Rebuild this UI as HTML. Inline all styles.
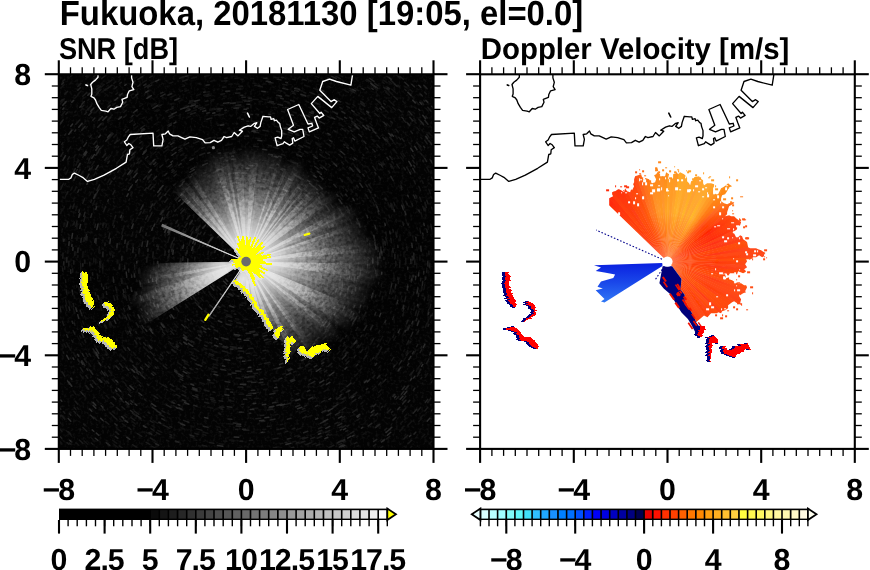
<!DOCTYPE html>
<html><head><meta charset="utf-8"><title>Fukuoka radar</title>
<style>html,body{margin:0;padding:0;background:#fff;width:870px;height:570px;overflow:hidden}svg{display:block;will-change:transform}text{font-family:"Liberation Sans",sans-serif;text-rendering:geometricPrecision}</style>
</head><body><svg width="870" height="570" viewBox="0 0 870 570"><defs><clipPath id="pc"><rect x="0" y="0" width="374.7" height="374.6"/></clipPath><radialGradient id="w0" gradientUnits="userSpaceOnUse" cx="187.3" cy="187.3" r="70"><stop offset="0" stop-color="#fff" stop-opacity="1"/><stop offset="0.3" stop-color="#fff" stop-opacity="0.92"/><stop offset="0.6" stop-color="#fff" stop-opacity="0.55"/><stop offset="0.85" stop-color="#fff" stop-opacity="0.2"/><stop offset="1" stop-color="#fff" stop-opacity="0"/></radialGradient><radialGradient id="w1" gradientUnits="userSpaceOnUse" cx="187.3" cy="187.3" r="85"><stop offset="0" stop-color="#fff" stop-opacity="1"/><stop offset="0.3" stop-color="#fff" stop-opacity="0.92"/><stop offset="0.6" stop-color="#fff" stop-opacity="0.55"/><stop offset="0.85" stop-color="#fff" stop-opacity="0.2"/><stop offset="1" stop-color="#fff" stop-opacity="0"/></radialGradient><radialGradient id="w2" gradientUnits="userSpaceOnUse" cx="187.3" cy="187.3" r="100"><stop offset="0" stop-color="#fff" stop-opacity="1"/><stop offset="0.3" stop-color="#fff" stop-opacity="0.92"/><stop offset="0.6" stop-color="#fff" stop-opacity="0.55"/><stop offset="0.85" stop-color="#fff" stop-opacity="0.2"/><stop offset="1" stop-color="#fff" stop-opacity="0"/></radialGradient><radialGradient id="w3" gradientUnits="userSpaceOnUse" cx="187.3" cy="187.3" r="115"><stop offset="0" stop-color="#fff" stop-opacity="1"/><stop offset="0.3" stop-color="#fff" stop-opacity="0.92"/><stop offset="0.6" stop-color="#fff" stop-opacity="0.55"/><stop offset="0.85" stop-color="#fff" stop-opacity="0.2"/><stop offset="1" stop-color="#fff" stop-opacity="0"/></radialGradient><radialGradient id="w4" gradientUnits="userSpaceOnUse" cx="187.3" cy="187.3" r="130"><stop offset="0" stop-color="#fff" stop-opacity="1"/><stop offset="0.3" stop-color="#fff" stop-opacity="0.92"/><stop offset="0.6" stop-color="#fff" stop-opacity="0.55"/><stop offset="0.85" stop-color="#fff" stop-opacity="0.2"/><stop offset="1" stop-color="#fff" stop-opacity="0"/></radialGradient><radialGradient id="w5" gradientUnits="userSpaceOnUse" cx="187.3" cy="187.3" r="145"><stop offset="0" stop-color="#fff" stop-opacity="1"/><stop offset="0.3" stop-color="#fff" stop-opacity="0.92"/><stop offset="0.6" stop-color="#fff" stop-opacity="0.55"/><stop offset="0.85" stop-color="#fff" stop-opacity="0.2"/><stop offset="1" stop-color="#fff" stop-opacity="0"/></radialGradient><radialGradient id="w6" gradientUnits="userSpaceOnUse" cx="187.3" cy="187.3" r="160"><stop offset="0" stop-color="#fff" stop-opacity="1"/><stop offset="0.3" stop-color="#fff" stop-opacity="0.92"/><stop offset="0.6" stop-color="#fff" stop-opacity="0.55"/><stop offset="0.85" stop-color="#fff" stop-opacity="0.2"/><stop offset="1" stop-color="#fff" stop-opacity="0"/></radialGradient><filter id="noise" x="0" y="0" width="100%" height="100%"><feTurbulence type="fractalNoise" baseFrequency="0.35" numOctaves="2" seed="3"/><feColorMatrix values="0 0 0 0 1  0 0 0 0 1  0 0 0 0 1  1.2 0 0 0 -0.55"/></filter><filter id="noised" x="0" y="0" width="100%" height="100%"><feTurbulence type="fractalNoise" baseFrequency="0.3" numOctaves="2" seed="11"/><feColorMatrix values="0 0 0 0 0  0 0 0 0 0  0 0 0 0 0  1.6 0 0 0 -0.6"/></filter></defs><rect width="870" height="570" fill="#fff"/><clipPath id="fanclip"><polygon points="187.3,187.3 50.7,55.3 55.4,50.7 60.2,46.1 65.2,41.8 70.4,37.6 75.7,33.6 81.1,29.8 86.7,26.2 92.3,22.8 98.2,19.6 104.1,16.6 110.1,13.8 116.2,11.2 122.4,8.8 128.6,6.6 135,4.7 141.4,3 147.8,1.5 154.4,0.2 160.9,-0.8 167.5,-1.6 174.1,-2.2 180.7,-2.6 187.3,-2.7 194,-2.6 200.6,-2.2 207.2,-1.6 213.8,-0.8 220.3,0.2 226.9,1.5 233.3,3 239.7,4.7 246.1,6.6 252.3,8.8 258.5,11.2 264.6,13.8 270.6,16.6 276.5,19.6 282.4,22.8 288,26.2 293.6,29.8 299,33.6 304.3,37.6 309.5,41.8 314.5,46.1 319.3,50.7 324,55.3 328.5,60.2 332.9,65.2 337.1,70.3 341.1,75.6 344.9,81.1 348.5,86.6 351.9,92.3 355.1,98.1 358.1,104 360.9,110 363.5,116.1 365.9,122.3 368.1,128.6 370,135 371.7,141.4 373.2,147.8 374.5,154.3 375.5,160.9 376.3,167.5 376.9,174.1 377.2,180.7 377.4,187.3 377.2,194 376.9,200.6 376.3,207.2 375.5,213.8 374.5,220.3 373.2,226.8 371.7,233.3 370,239.7 368.1,246 365.9,252.3 363.5,258.5 360.9,264.6 358.1,270.6 355.1,276.5 351.9,282.3 348.5,288 344.9,293.6 341.1,299 337.1,304.3 332.9,309.5 309.5,332.9 282,283 271.3,276.4 260.8,278.2 253.8,283.4 246.7,279.9 238,275 229.2,288.7 227.4,270 219.5,264.1 214,255 210.5,250.5 207,245 203,239.5 198.5,234 195.5,229 192,223.5 188,218 183.5,213.5 179,210.5 175.5,207 184.3,192.3"/><polygon points="187.3,187.3 26.2,288 22.7,282.1 19.4,276.1 16.3,270 13.4,263.8 10.8,257.5 8.4,251.1 6.2,244.6 4.2,238 2.5,231.4 1.1,224.7 -0.2,217.9 -1.2,211.1 -1.9,204.3 -2.4,197.5 -2.6,190.6"/></clipPath><radialGradient id="streak" gradientUnits="userSpaceOnUse" cx="187.3" cy="187.3" r="135"><stop offset="0.1" stop-opacity="0"/><stop offset="0.22" stop-opacity="0.5"/><stop offset="0.38" stop-opacity="1"/><stop offset="0.65" stop-opacity="1"/><stop offset="1" stop-opacity="0"/></radialGradient><radialGradient id="streakw" gradientUnits="userSpaceOnUse" cx="187.3" cy="187.3" r="105"><stop offset="0.12" stop-color="#fff" stop-opacity="0"/><stop offset="0.25" stop-color="#fff" stop-opacity="0.6"/><stop offset="0.45" stop-color="#fff" stop-opacity="1"/><stop offset="0.65" stop-color="#fff" stop-opacity="0.7"/><stop offset="1" stop-color="#fff" stop-opacity="0"/></radialGradient><g transform="translate(58.8,74.3)" clip-path="url(#pc)"><rect width="374.7" height="374.6" fill="#030303"/><rect width="374.7" height="374.6" filter="url(#noise)" opacity="0.14"/><path d="M112 30l2 -0.9M265 211l-1.6 4.6M65 62l2 -1.9M222 238l-1.4 1.0M119 134l3.3 -3.9M240 77l4.7 2.4M168 243l-1.4 -0.5M29 315l-1.3 -1.6M26 204l-0.2 -2.5M93 31l3.6 -2.1M296 52l2.7 2.2M124 157l0.9 -1.8M180 130l1.6 -0.2M370 245l-1.5 4.7M43 232l-0.6 -2.0M84 8l3.6 -2.0M154 276l-1.6 -0.6M372 122l0.6 1.7M314 128l1.2 2.5M359 257l-1.1 2.6M132 199l-0.8 -5.0M306 225l-1.4 4.2M18 88l1.5 -2.6M229 29l2.4 0.7M149 359l-4.1 -1.0M140 229l-2.2 -2.7M368 64l2.1 3.1M287 86l2.3 2.3M187 311l-2.5 0M75 298l-3.7 -3.9M109 207l-1.1 -5.4M9 179l0.2 -2.9M133 202l-1 -4.3M189 23l3.4 0.1M327 63l2.2 2.5M72 121l1.5 -2.6M205 135l4.6 1.8M150 269l-3 -1.4M196 303l-5.2 0.3M41 314l-1.8 -2.1M301 213l-0.8 3.6M293 49l2.4 1.9M45 16l1.8 -1.4M79 86l2.1 -2.2M94 167l0.9 -3.8M269 142l1.8 3.5M234 324l-1.7 0.6M22 198l-0.1 -2.4M152 26l3.2 -0.7M373 367l-2.6 2.6M311 52l1.3 1.2M354 162l0.5 3.6M143 69l3.8 -1.4M345 178l0.2 4.3M315 203l-0.3 2.4M35 188l0 -4.2M138 315l-3.1 -1.3M199 334l-5.1 0.3M337 262l-1.9 3.6M335 75l2.7 3.7M257 272l-3.5 2.8M1 175l0.1 -1.9M72 21l2.4 -1.6M176 220l-1.5 -0.6M219 328l-2.3 0.5M295 83l1.1 1.1M127 115l3.5 -2.8M152 220l-2 -2.3M64 79l2.9 -3.2M327 188l-0 1.6M185 187l4.2 -2.4M70 332l-2.7 -2.2M200 318l-1.9 0.2M133 4l4.8 -1.3M43 300l-1.5 -1.9M178 104l4.8 -0.4M320 265l-0.9 1.5M208 90l5.1 1.2M282 336l-1.8 1.1M146 22l1.6 -0.4M172 139l4.2 -1.1M136 78l3 -1.4M136 197l-0.7 -5.4M370 188l-0.1 4.7M337 188l-0 3.0M328 49l3.1 3.2M230 254l-3.8 2.3M258 126l2.5 3.0M50 324l-2.7 -2.8M62 357l-3.3 -2.5M76 349l-2.1 -1.5M346 256l-1.9 4.3M298 100l1.8 2.3M252 295l-2.1 1.2M330 7l2.6 2.1M63 160l0.9 -3.7M245 164l1.2 3.3M185 320l-2.9 -0.1M130 171l1.7 -5.0M44 199l-0.3 -5.5M132 257l-1.8 -1.4M37 273l-1.5 -2.7M127 318l-3.5 -1.7M330 274l-2.1 3.3M322 320l-3 3.0M350 68l1.2 1.6M90 278l-2.8 -3.1M200 156l3.3 1.5M91 360l-3.5 -2.0M20 371l-2.9 -2.7M347 145l1 4.1M195 149l3 0.7M110 367l-2.2 -1.0M248 276l-2 1.3M250 290l-3.4 2.0M68 312l-1.2 -1.2M122 81l3.4 -2.0M258 203l-1.3 4.9M146 219l-2.6 -3.8M252 144l1.9 3.0M271 157l1 2.9M116 278l-3.3 -2.7M321 256l-1.3 2.6M178 15l4.3 -0.2M245 284l-4 2.2M169 237l-3.5 -1.4M114 256l-2.1 -2.2M204 229l-4.2 1.4M287 367l-2 1.1M311 49l2.5 2.3M80 141l1 -2.3M175 367l-2.3 -0.2M341 162l0.6 4.1M299 192l-0.1 1.5M257 240l-2.2 2.8M269 336l-3 1.6M290 105l2.8 3.6M253 295l-3.2 1.9M342 79l2.7 4.0M142 372l-2.2 -0.6M373 61l2.9 4.3M230 195l-1.2 4.8M27 54l1.5 -1.8M120 78l3.5 -2.1M162 129l2.2 -0.9M274 238l-1.4 2.3M25 250l-1.2 -3.2M369 299l-2.4 3.8M122 176l0.7 -3.4M360 171l0.3 3.5M291 105l2.8 3.6M346 12l1.6 1.4M270 12l2 1.0M13 193l-0.1 -2.1M161 235l-3.2 -1.9M284 207l-0.9 4.1M175 327l-4 -0.4M227 299l-3 1.0M263 296l-2.1 1.4M219 340l-2.9 0.6M286 16l3.6 2.1M338 289l-2 2.8M81 32l3.1 -2.1M333 177l0.3 5.4M245 110l1.6 1.3M347 344l-1.4 1.5M272 272l-2.6 2.5M353 186l-0 3.4M304 226l-0.6 1.8M290 283l-3.4 3.6M112 23l4.9 -2.2M323 209l-0.6 3.4M128 214l-2 -5.1M49 280l-2.7 -4.2M168 367l-3.4 -0.4M291 131l1.5 3.0M54 31l2.5 -2.1M358 53l2.4 3.1M11 360l-3.6 -3.7M183 162l3.8 -0.4M77 199l-0.2 -2.3M290 163l0.7 3.3M96 92l2.9 -2.7M339 181l0.1 4.6M286 54l4.3 3.3M369 151l0.7 4.0M59 67l2 -2.1M220 306l-3 0.8M295 269l-3.4 4.3M97 202l-0.4 -2.5M286 314l-4.4 3.3M173 132l4.4 -0.9M278 179l0.2 2.8M316 82l1 1.2M356 33l1.2 1.3M309 233l-0.7 1.7M261 357l-2.6 1.1M239 337l-1.6 0.6M69 260l-2.5 -4.2M98 67l2.5 -1.8M353 347l-3.9 3.9M276 195l-0.2 1.9M322 291l-2.4 3.1M159 79l2 -0.5M232 265l-3.3 1.8M344 27l2.1 2.1M250 33l2.2 0.9M292 359l-3.3 2.0M71 106l1.8 -2.5M91 292l-1.5 -1.4M222 359l-3.4 0.6M344 347l-2.3 2.2M266 203l-0.5 2.4M84 44l1.4 -1.0M216 52l4.3 1.0M291 198l-0.6 4.5M7 100l2.1 -4.3M296 39l2.2 1.6M56 104l1.1 -1.7M303 90l1.4 1.7M165 145l3.1 -1.5M96 37l3.7 -2.2M6 124l1.3 -3.6M22 101l2.3 -4.2M273 87l2.1 1.8M234 5l2.7 0.7M152 7l4 -0.7M100 294l-1.6 -1.4M257 68l3.4 2.0M178 15l5.4 -0.2M49 108l1.9 -3.3M267 59l3.2 2.0M287 323l-2.7 1.9M224 350l-2.4 0.5M19 20l3.4 -3.3M147 361l-2.9 -0.7M173 2l3.3 -0.2M163 120l4.6 -1.5M370 115l1.7 4.4M58 89l2.9 -3.7M33 244l-0.5 -1.4M357 27l3.2 3.5M287 69l2.6 2.3M130 291l-3.5 -2.0M263 146l2.2 4.3M104 311l-3.3 -2.3M309 278l-1.3 1.7M31 121l1.4 -3.3M240 361l-4.2 1.2M124 211l-1.3 -3.7M87 74l3.2 -2.8M337 221l-0.9 3.9M239 148l2.9 4.2M22 229l-0.8 -3.4M209 149l3.8 2.4M134 101l3.3 -1.9M122 17l1.9 -0.7M140 231l-1.1 -1.3M43 228l-1 -3.7M249 242l-3.6 3.8M257 369l-3.6 1.4M368 249l-1.5 4.3M29 107l2.2 -4.3M133 361l-2.4 -0.8M291 145l1.6 4.3M45 55l2.5 -2.7M358 173l0.2 2.4M304 51l4 3.6M82 309l-3.5 -3.1M279 328l-1.6 1.1M306 359l-1.7 1.1M300 51l2.8 2.4M122 136l1.6 -2.0M263 239l-2.4 3.4M72 287l-1.1 -1.3M300 190l-0.1 3.3M12 116l1.4 -3.3M257 2l2.8 1.1M334 33l2.8 2.7M84 139l1.7 -3.4M176 126l2.2 -0.4M177 210l-4.5 -2.8M353 298l-2.1 3.0M360 246l-1.2 3.3M68 177l0.4 -4.2M360 72l2.7 4.2M89 183l0.2 -3.2M47 248l-1.9 -4.7M208 315l-3.3 0.5M3 41l3.1 -3.8M73 162l1.1 -4.4M37 279l-1.1 -1.8M54 150l0.4 -1.5M182 198l-2.8 -1.8M152 145l3.1 -2.5M266 219l-2 4.6M118 368l-1.5 -0.6M37 281l-1.9 -3.1M2 14l3.3 -3.5M61 322l-3 -2.9M86 274l-1 -1.2M16 224l-0.6 -2.9M2 139l1.3 -4.7M167 29l4.8 -0.5M16 38l1 -1.1M42 13l3.4 -2.8M272 259l-1.5 1.8M241 16l3.1 1.0M97 201l-0.4 -2.9M297 119l1.6 2.7M181 142l3.2 -0.3M41 198l-0.1 -1.5M204 86l4.2 0.8M255 105l1.5 1.3M346 275l-1.2 2.2M305 162l0.5 2.3M155 309l-4.5 -1.3M59 246l-1.2 -2.6M370 221l-1 5.0M296 14l3.7 2.4M-1 37l2.8 -3.5M10 273l-2.1 -4.6M24 304l-2.6 -3.7M329 68l2.6 3.2M329 128l1.9 4.8M351 201l-0.3 3.1M194 9l3.4 0.2M185 295l-3.2 -0.1M286 70l2.3 2.0M366 223l-0.5 2.6M157 328l-3.4 -0.8M350 267l-1.1 2.2M347 283l-2.6 4.2M17 136l1.2 -3.7M299 362l-1.4 0.9M198 281l-3.3 0.3M129 233l-2.3 -3.1M149 180l0.8 -3.1M220 306l-4.5 1.2M149 102l2.8 -1.2M286 270l-1.7 2.0M50 44l3.7 -3.4M289 217l-0.7 2.2M78 270l-0.9 -1.3M368 93l2.1 4.2M327 36l2.2 2.0M237 367l-3.1 0.8M77 59l3.1 -2.6M278 209l-0.5 2.2M186 200l-4.3 -1.2M368 64l2.1 3.2M129 288l-3.5 -2.1M250 174l0.3 1.5M169 135l4.5 -1.4M59 189l-0 -3.1M103 211l-0.9 -3.3M152 73l3.1 -0.9M300 188l-0 2.3M37 38l3.4 -3.4M271 340l-1.8 1.0M214 187l-0.4 4.6M293 202l-0.5 3.3M48 309l-2.8 -3.2M118 64l3.8 -2.1M100 245l-2.5 -3.9M282 271l-2 2.2M140 215l-0.8 -1.5M345 352l-1.9 1.8M5 134l0.5 -1.8M288 239l-1.9 3.5M333 87l1.8 2.6M257 323l-3.4 1.7M73 256l-2 -3.4M121 315l-2.6 -1.4M363 106l1.4 3.1M315 297l-1.4 1.6M161 353l-3 -0.5M32 292l-1.7 -2.6M178 60l3.2 -0.2M309 13l2.3 1.7M350 232l-1 3.5M14 151l0.3 -1.6M293 240l-2.1 4.1M313 158l0.6 2.8M49 85l2.9 -3.8M83 346l-2.8 -1.9M42 74l2.4 -3.0M173 33l4 -0.3M137 221l-1.3 -2.0M371 85l1.6 2.9M253 341l-3.8 1.6M52 251l-1.3 -2.9M125 63l4.4 -2.1M299 268l-1 1.4M244 193l-0.2 1.7M252 97l4.2 3.2M116 92l2.9 -2.1M97 367l-3.5 -1.8M206 284l-2.9 0.5M221 150l2.5 2.4M55 9l1.9 -1.4M227 244l-3.9 2.6M208 223l-3.5 1.8M115 99l2.6 -2.1M37 132l1.1 -3.0M249 144l1.5 2.2M159 286l-2 -0.6M36 124l1.8 -4.2M344 354l-3.1 2.9M86 343l-1.7 -1.1M314 128l1.5 3.3M304 126l0.9 1.7M95 190l-0 -2.5M373 7l1.8 1.9M80 89l2.8 -3.0M316 165l0.5 3.1M60 195l-0.1 -2.6M288 273l-3.5 3.9M251 243l-3.4 3.6M74 24l3.3 -2.2M214 39l1.8 0.3M202 290l-1.8 0.2M318 282l-1.9 2.6M337 146l0.4 1.7M228 60l4.7 1.6M204 25l5 0.6M17 91l0.9 -1.6M20 335l-1.6 -1.9M111 340l-2.4 -1.2M15 83l1.4 -2.3M11 231l-1 -4.5M301 287l-1 1.2M140 200l-0.7 -3.2M281 348l-1.5 0.9M119 275l-3.4 -2.8M296 163l1 4.7M221 59l5.2 1.5M214 64l2.5 0.6M375 288l-1 1.9M77 163l0.6 -2.6M34 131l1.9 -5.0M142 314l-1.8 -0.7M44 153l1.2 -4.6M187 106l2.8 0.0M263 138l2.7 4.5M98 148l1.7 -3.7M302 37l4.2 3.3M335 203l-0.5 3.9M154 282l-4.2 -1.6M334 67l2.5 3.1M361 291l-1.9 3.2M308 39l3.7 3.1M146 87l2.2 -0.9M50 29l2.4 -2.1M303 269l-3.3 4.4M336 204l-0.2 2.0M235 187l-0.2 4.7M29 26l1.1 -1.1M56 308l-2.7 -3.0M261 129l3.3 4.3M116 274l-3.8 -3.3M302 29l3 2.2M274 160l0.8 2.7M355 44l1.7 2.0M171 241l-3.6 -1.2M218 145l1.7 1.3M116 125l1.2 -1.3M324 8l1.4 1.1M220 149l1.2 1.1M58 369l-4.1 -3.0M182 91l2.8 -0.1M183 320l-2.7 -0.1M311 174l0.4 4.9M186 208l-4.6 -0.9M244 293l-1.7 0.9M201 107l5 1.0M78 341l-3.1 -2.3M192 4l2.8 0.1M169 54l1.7 -0.2M138 317l-5 -2.0M332 264l-2.6 4.7M281 1l2.7 1.4M167 71l4.6 -0.7M176 91l4.6 -0.5M158 294l-4.4 -1.3M177 99l1.6 -0.2M288 175l0.5 4.5M27 37l2.2 -2.3M248 72l3.1 1.7M21 288l-2 -3.4M253 368l-2.5 0.9M109 316l-1.4 -0.9M362 138l1.1 4.1M159 291l-4.7 -1.4M93 32l4.6 -2.7M18 153l0.7 -3.5M300 147l1.1 3.1M355 247l-1.8 4.9M306 241l-2.2 4.6M266 284l-3.5 2.8M280 49l4.3 3.0M152 147l4.2 -3.4M332 28l3.3 3.1M154 295l-4.3 -1.4M162 31l2.3 -0.3M301 34l2 1.5M168 83l2.7 -0.5M274 219l-0.7 1.8M113 65l4.1 -2.4M283 112l1.6 2.1M108 118l3.2 -3.5M215 227l-3.1 2.0M368 179l0.1 2.7M323 315l-3.1 3.2M154 334l-5.2 -1.3M222 101l3.6 1.5M90 108l1.2 -1.5M207 98l3.1 0.7M127 289l-1.5 -0.9M213 90l4.8 1.4M67 106l1.2 -1.8M161 148l1.7 -1.1M235 38l2.3 0.7M306 222l-0.8 2.6M328 300l-1.4 1.7M132 157l2.8 -4.5M35 101l2 -3.5M174 350l-4.8 -0.5M272 251l-1.9 2.5M144 226l-1.7 -2.0M237 297l-2.3 1.0M17 283l-1.2 -2.1M157 298l-4.3 -1.2M1 354l-1.5 -1.7M89 147l1.2 -2.8M178 33l2.8 -0.2M126 32l2.5 -1.0M98 63l1.8 -1.3M224 283l-3.1 1.1M298 45l3.4 2.7M59 373l-3.7 -2.6M140 277l-4.6 -2.6M71 317l-2.1 -1.9M56 339l-2.4 -2.1M72 257l-2.4 -4.1M343 222l-0.9 3.8M196 134l4.2 0.9M215 114l3.8 1.5M156 328l-2.1 -0.5M336 61l2.5 3.0M3 370l-1.3 -1.3M65 38l2.6 -2.1M200 146l2.1 0.7M236 50l4.8 1.8M292 115l2 2.9M-0 119l0.7 -1.8M165 79l4.4 -0.8M23 272l-1.2 -2.5M281 277l-2.7 2.7M225 173l1.4 4.7M258 70l4.3 2.7M106 161l0.6 -1.7M149 325l-2.2 -0.6M358 189l-0.1 4.8M118 159l0.9 -2.2M273 360l-2.4 1.2M121 189l-0 -2.2M269 315l-3.7 2.3M373 155l0.8 4.9M1 30l3.1 -3.6M344 173l0.2 1.8M38 17l3 -2.6M269 0l1.4 0.6M250 40l5 2.2M126 355l-3.9 -1.5M200 324l-4.4 0.3M175 237l-2 -0.5M181 0l2.3 -0.1M53 300l-3.1 -3.8M174 77l2.3 -0.3M34 365l-1.2 -1.1M39 12l1.2 -1.0M361 181l0.1 5.1M226 175l0.9 3.1M237 175l0.6 2.6M353 372l-1.4 1.3M8 231l-1.2 -5.2M72 10l3.7 -2.3M121 72l4.5 -2.5M317 35l2 1.7M97 369l-1.8 -0.9M165 22l2.4 -0.3M267 190l-0.2 3.3M89 231l-1.1 -2.5M60 44l1.5 -1.3M298 124l0.7 1.3M284 93l2.1 2.1M242 354l-4.2 1.3M22 116l0.7 -1.5M18 166l0.6 -4.6M246 11l2.7 0.9M225 130l2.7 1.9M327 144l1.4 4.9M50 8l3.3 -2.5M4 166l0.2 -1.7M73 84l2.5 -2.6M17 320l-2.6 -3.4M363 344l-3.2 3.5M9 77l2.9 -4.5M303 294l-3 3.2M207 355l-2.8 0.3M67 352l-3.6 -2.7M264 151l2.1 4.8M120 27l3.3 -1.4M29 370l-3.8 -3.4M333 129l1.6 4.2M291 16l3 1.9M51 237l-1.1 -3.2M224 33l2.7 0.6M340 165l0.2 1.6M138 21l3.9 -1.1M270 304l-2 1.4M55 63l2.6 -2.7M122 107l1.3 -1.0M116 196l-0.4 -4.0M99 349l-4.7 -2.6M338 81l2.1 3.1M294 30l1.9 1.3M52 181l0.1 -1.8M114 174l1 -4.5M12 361l-3.4 -3.5M197 171l3 2.2M148 275l-2.9 -1.4M319 280l-2.6 3.5M201 27l2.4 0.2M214 208l-1.1 1.4M92 74l3 -2.4M124 106l4 -2.9M82 3l3.4 -1.9M109 258l-1.7 -1.9M300 156l0.4 1.7M333 15l3.5 3.0M92 290l-2.3 -2.2M272 278l-3.4 3.1M181 62l1.6 -0.1M315 13l3.6 2.7M349 276l-2 3.6M31 89l0.9 -1.4M218 143l2.6 1.9M363 48l0.9 1.2M317 340l-1.5 1.2M3 158l0.5 -3.2M148 18l2.7 -0.6M5 96l1.6 -3.2M102 69l4.2 -2.9M275 208l-0.9 3.6M143 257l-1.7 -1.1M2 349l-3.4 -4.0M333 92l1.8 2.8M40 328l-2.2 -2.3M166 232l-2.6 -1.4M127 218l-1.2 -2.6M370 189l-0 2.4M269 234l-2.9 4.7M209 258l-4.8 1.3M231 183l0.2 3.9M294 89l1.5 1.7M164 370l-3.7 -0.5M45 285l-1.4 -2.0M327 14l3.8 3.1M299 299l-3.2 3.1M126 327l-2.9 -1.3M51 180l0.1 -2.3M201 253l-2 0.4M207 232l-2.3 1.0M94 80l2.6 -2.2M365 5l1.9 1.9M235 165l1.8 4.4M280 324l-1.7 1.1M328 167l0.3 1.8M38 227l-0.7 -2.9M281 142l1.9 4.3M134 179l0.8 -4.1M70 126l0.8 -1.5M325 41l1.8 1.8M176 4l5.2 -0.3M40 178l0.5 -5.5M259 201l-0.9 4.2M101 1l1.8 -0.8M348 340l-2.2 2.3M60 3l1.5 -1.0M325 6l3.4 2.6M22 36l1.7 -1.8M41 16l1.4 -1.1M274 175l0.4 2.8M103 286l-2.5 -2.2M140 144l1.8 -1.9M307 6l1.3 0.8M280 263l-2.4 2.8M292 179l0.3 4.4M301 243l-0.8 1.6M19 183l0.1 -1.8M98 37l2.5 -1.5M45 223l-0.8 -3.5M289 135l2.2 4.5M84 256l-2.9 -4.6M48 9l3.1 -2.3M364 81l1.6 2.8M0 145l0.4 -1.8M54 151l1.1 -3.9M357 276l-2 3.7M366 360l-2.7 2.7M76 352l-2 -1.4M111 94l2.9 -2.3M352 21l1.6 1.6M230 202l-1.1 3.0M366 203l-0.3 3.1M351 158l0.5 3.1M226 120l1.6 0.9M100 214l-1.3 -4.8M109 135l2.2 -3.2M342 83l2.6 3.9M176 152l1.5 -0.5M36 331l-3.2 -3.4M67 218l-0.9 -3.7M58 175l0.5 -4.5M305 241l-1.8 3.7M42 192l-0.1 -5.2M206 246l-3.2 0.9M207 171l1.7 2.3M18 213l-0.3 -2.1M252 221l-1 1.9M185 209l-3.3 -0.6M97 32l3.1 -1.7M160 228l-3.3 -2.5M187 229l-3.8 -0.2M285 327l-2.9 1.9M140 174l1.2 -3.6M189 245l-4.1 0.0M268 165l0.6 2.3M300 371l-1.8 1.1M301 344l-3 2.1M320 28l2.5 2.1M146 310l-5.1 -1.8M103 358l-4 -2.0M238 325l-5.2 1.8M342 107l0.8 1.6M92 275l-3.4 -3.9M67 310l-2.5 -2.5M126 17l3.7 -1.3M12 276l-1.5 -3.0M57 20l1.8 -1.4M261 42l1.7 0.9M250 276l-1.6 1.1M296 269l-3.3 4.3M178 142l2 -0.4M108 193l-0.2 -3.8M264 154l1.4 3.4M74 173l0.3 -2.4M224 199l-1.2 3.4M327 18l3.5 2.9M261 90l4.3 3.4M299 38l1.8 1.4M154 223l-2.8 -2.9M151 36l3.2 -0.7M308 92l3 4.0M232 55l4.1 1.5M148 279l-1.5 -0.7M211 128l2 0.8M180 159l1.9 -0.4M65 56l1.6 -1.5M179 57l2.5 -0.1M288 103l1.7 2.0M68 343l-2.3 -1.8M324 222l-0.8 3.1M209 248l-5.1 1.5M302 196l-0.3 3.3M96 353l-2.8 -1.6M116 317l-4.1 -2.3M82 287l-3.3 -3.6M84 214l-1.2 -5.0M173 65l3.7 -0.4M162 65l3.8 -0.7M77 281l-2.5 -3.0M140 360l-4.3 -1.2M296 308l-1.6 1.4M46 106l0.9 -1.5M326 16l2.2 1.8M325 307l-3.4 3.8M29 89l1 -1.6M64 347l-3.1 -2.4M314 221l-1.1 3.8M240 91l1.3 0.7M27 245l-1.2 -3.4M63 146l1.4 -4.1M129 39l4.4 -1.6M301 47l1.2 1.0M367 34l1.9 2.2M246 229l-1.8 2.4M285 131l0.8 1.4M105 78l4.1 -3.0M64 102l2.3 -3.3M37 189l0 -4.3M244 368l-3.9 1.2M224 157l2.3 3.0M371 225l-0.8 3.8M84 243l-1 -1.9M355 46l2.4 2.9M109 161l1.9 -5.1M247 336l-4.3 1.7M299 202l-0.3 2.2M351 15l2.6 2.5M324 262l-2.7 4.7M6 111l0.8 -1.8M133 37l4.5 -1.5M296 113l0.9 1.3M299 100l3.3 4.4M308 259l-1.8 3.0M225 266l-2.8 1.3M139 157l1 -1.5M81 199l-0.4 -4.6M269 349l-3.7 1.8M229 86l4 1.8M145 102l3.6 -1.7M19 99l2.2 -4.1M66 244l-2.1 -4.7M90 89l1.4 -1.3M129 111l2.4 -1.8M270 105l1.1 1.1M319 195l-0.4 4.9M330 141l0.8 2.5M129 43l2.6 -1.0M255 196l-0.8 4.9M20 265l-0.7 -1.5M76 74l1.8 -1.7M286 373l-2.2 1.2M147 31l2.9 -0.7M148 104l3.4 -1.5M136 282l-3.6 -2.0M131 303l-3 -1.5M278 247l-1.2 1.8M172 57l2 -0.2M158 278l-4.1 -1.4M73 149l1.5 -4.3M43 236l-1.6 -5.1M28 3l2.1 -1.8M344 79l2.1 3.1M107 87l2.7 -2.1M16 24l3.4 -3.5M86 19l3.2 -1.9M175 366l-4.4 -0.4M147 289l-3.1 -1.3M362 63l1.1 1.5M82 226l-0.6 -1.6M152 64l4.4 -1.2M212 267l-4.9 1.4M88 18l3 -1.7M336 340l-1.5 1.4M-0 142l0.8 -3.2M108 143l1.3 -2.2M111 9l3 -1.2M65 33l3.1 -2.4M64 209l-0.5 -3.2M287 28l3.7 2.4M210 194l-0.8 2.2M322 217l-1.2 5.2M52 253l-1.6 -3.4M91 137l1.6 -3.0M224 369l-2.3 0.5M108 291l-1.5 -1.2M131 1l2.3 -0.7M366 210l-0.6 4.4M123 291l-4.3 -2.8M266 177l0.5 4.1M94 113l2.6 -3.1M330 26l1.2 1.1M90 45l3.1 -2.0M198 64l3.2 0.3M72 92l1.2 -1.5M317 312l-2.9 3.0M206 310l-3.4 0.5M313 65l2.3 2.4M216 154l1.6 1.4M96 50l3.7 -2.4M250 87l1.3 0.8M226 140l3.3 2.9M117 257l-1.1 -1.1M180 245l-3.4 -0.5M323 365l-1.5 1.2M139 145l1.3 -1.4M78 42l3.6 -2.7M28 85l1 -1.5M361 19l1 1.1M151 35l4.8 -1.1M220 208l-0.9 1.3M119 253l-3.1 -3.4M20 12l1.3 -1.3M13 362l-2.8 -2.8M158 286l-5.2 -1.7M219 316l-4.8 1.1M170 10l3.3 -0.3M32 229l-1.2 -5.0M109 184l0.1 -1.8M174 138l3.8 -0.9M330 17l3.9 3.4M185 302l-1.7 0M328 166l0.5 3.9M118 333l-3.7 -1.8M366 270l-1.1 2.4M290 94l1.1 1.2M71 226l-1.5 -4.9M363 212l-0.8 4.9M364 341l-2.5 2.8M283 324l-1.8 1.2M131 149l2.3 -3.2M308 273l-1.7 2.4M324 168l0.6 5.1M143 259l-3.9 -2.6M44 276l-1.7 -2.9M356 232l-1.1 3.8M334 215l-1 4.6M194 25l5.4 0.3M64 156l1.3 -4.6M16 239l-1.4 -4.9M33 91l2.4 -3.8M235 58l4.8 1.9M304 328l-1.9 1.6M138 366l-1.6 -0.4M306 96l1.9 2.5M242 149l2.5 3.9M209 276l-1.7 0.4M75 55l4.1 -3.4M62 244l-1.5 -3.4M6 344l-2.3 -2.7M40 258l-2.1 -4.6M5 152l0.7 -3.3M143 68l4.7 -1.7M136 247l-1.2 -1.0M114 142l0.8 -1.3M227 239l-3.1 2.2M136 364l-4.5 -1.4M247 27l2.9 1.1M343 126l0.8 2.1M215 33l2.9 0.5M92 9l4.9 -2.5M128 174l0.5 -1.9M72 235l-1.1 -2.8M259 180l0.4 4.9M236 185l-0 4.7M290 197l-0.3 2.5M372 222l-0.7 3.3M275 142l1.4 2.8M7 273l-1.7 -3.6M115 211l-1.4 -4.8M3 369l-3.7 -3.8M178 28l5.4 -0.2M282 173l0.4 3.1M171 279l-2.3 -0.4M286 344l-3.1 1.9M134 279l-2.8 -1.7M340 111l2.3 4.8M275 206l-0.5 2.4M370 58l1.7 2.5M218 306l-3.4 0.8M241 300l-1.6 0.7M40 288l-0.9 -1.4M204 121l2.7 0.7M47 153l0.7 -2.8M234 98l3.4 1.8M253 100l2.9 2.3M353 182l0.1 5.2M16 116l1.5 -3.5M140 325l-1.7 -0.6M230 165l0.7 1.4M184 253l-3.2 -0.2M101 140l1.8 -3.2M114 67l1.6 -1.0M31 84l2 -3.0M71 224l-0.7 -2.4M109 168l1.5 -5.3M228 277l-2.6 1.2M220 152l2.7 2.7M19 88l1.1 -1.8M266 279l-3.6 3.0M24 183l0.3 -5.5M77 224l-1.1 -3.6M63 282l-1.7 -2.3M213 116l1.7 0.6" stroke="#131313" stroke-width="1.5" stroke-linecap="round" fill="none"/><path d="M175 145l3.4 -0.8M140 34l3.9 -1.2M74 288l-2.1 -2.4M121 4l4.5 -1.6M116 137l1.4 -1.9M42 308l-3.2 -3.9M22 264l-1 -2.3M100 32l2.8 -1.5M185 26l2.5 0M46 86l2.2 -3.0M300 271l-1.8 2.3M14 268l-1 -2.1M174 109l3.6 -0.5M67 80l3.7 -4.0M210 222l-2.1 1.3M80 253l-2.7 -4.6M179 355l-2.3 -0.1M10 165l0.2 -1.9M158 149l4.1 -2.8M244 202l-0.5 1.7M369 33l3.3 4.0M38 116l2.1 -4.3M147 11l2.2 -0.5M298 318l-3.2 2.6M113 221l-1 -2.3M155 281l-4.4 -1.7M94 365l-2.4 -1.3M267 233l-2.4 3.9M107 37l3.2 -1.7M117 278l-3.5 -2.8M370 285l-2.4 4.3M177 240l-1.6 -0.3M44 194l-0.1 -4.1M110 279l-1.8 -1.6M286 342l-2.7 1.7M185 338l-4.4 -0.1M369 333l-3 3.6M132 161l1.8 -3.5M254 80l2.7 1.8M51 371l-3.6 -2.7M246 77l2.7 1.5M37 221l-0.5 -2.4M121 65l4.8 -2.5M307 238l-1.3 2.9M124 336l-4.4 -2.0M87 238l-0.9 -1.8M370 177l0.2 3.4M222 209l-3 4.2M238 265l-1.9 1.2M34 232l-1.3 -4.9M366 128l1.6 5.0M143 258l-1.5 -1.0M316 39l3.6 3.2M146 143l1.8 -1.6M237 60l3 1.2M337 187l-0.1 4.9M320 350l-2.6 2.1M284 175l0.3 2.3M155 98l4.2 -1.4M71 100l2.9 -3.7M162 340l-1.6 -0.3M147 27l2.3 -0.6M213 82l5 1.3M97 75l4.2 -3.2M89 104l3.5 -3.9M297 325l-3.1 2.4M21 343l-2.5 -2.7M155 253l-2.9 -1.5M87 161l0.6 -2.3M298 368l-2.1 1.3M183 54l2.4 -0.1M213 100l4.1 1.3M135 69l4.6 -1.9M36 153l0.7 -3.1M263 353l-3.3 1.5M72 16l1.9 -1.2M184 313l-4.6 -0.2M61 21l2.7 -2.0M206 167l1.7 1.7M182 374l-3.3 -0.1M27 268l-1.1 -2.1M119 152l0.9 -1.7M125 215l-1.1 -2.5M1 248l-1.2 -3.8M42 193l-0.1 -1.7M183 284l-5.2 -0.4M178 131l5.2 -0.7M77 182l0.1 -1.9M292 16l4 2.5M123 3l3.2 -1.1M89 23l2 -1.2M169 100l3.4 -0.7M117 149l1.7 -3.0M15 232l-0.7 -2.9M72 355l-2.2 -1.6M89 105l2 -2.4M99 62l3.1 -2.1M118 218l-1.8 -4.4M310 110l2.3 3.7M139 321l-1.9 -0.7M267 131l1.8 2.7M174 222l-4.4 -2.1M22 195l-0.2 -5.5M363 272l-0.9 1.9M311 169l0.3 2.3M131 299l-2.7 -1.4M94 243l-2.4 -4.3M87 271l-2.1 -2.6M307 73l1.9 2.0M117 126l3.1 -3.3M155 369l-4.5 -0.9M31 191l-0 -3.1M29 282l-1.8 -3.1M133 225l-1.2 -1.7M101 125l1.9 -2.5M81 199l-0.4 -5.3M106 260l-2.2 -2.6M88 353l-3 -1.8M163 334l-2.9 -0.5M215 119l3.3 1.4M268 296l-2.2 1.6M321 277l-1.9 2.7M243 247l-1.9 1.7M112 173l0.8 -3.9M226 126l1.7 1.1M334 155l0.5 2.6M204 56l5.1 0.8M40 251l-0.8 -1.8M288 136l0.8 1.7M348 172l0.3 4.2M6 345l-3.2 -3.8M85 105l2.8 -3.3M52 62l2.4 -2.6M109 51l3.8 -2.1M290 351l-1.7 1.1M316 120l1 2.0M232 227l-1.9 2.1M104 256l-2.6 -3.3M41 249l-0.7 -1.6M193 47l3.6 0.2M212 129l1.7 0.7M248 157l1.4 2.9M251 18l4.9 1.9M85 227l-1.7 -4.7M239 160l1.5 3.2M245 18l1.9 0.7M175 195l-1.2 -2.5M319 173l0.4 4.2M220 68l2 0.6M353 366l-3.9 3.5M173 247l-3 -0.8M294 243l-1.7 3.2M372 324l-3.2 4.2M101 93l3 -2.6M322 308l-2.1 2.4M275 213l-0.5 1.8M45 137l1.8 -4.9M289 356l-2.1 1.2M30 86l0.9 -1.4M205 238l-4.2 1.3M249 201l-1 3.8M335 261l-0.9 1.8M241 362l-1.8 0.6M343 64l2.3 3.0M38 15l3.8 -3.2M211 352l-2.4 0.3M358 68l1.8 2.6M115 329l-2.8 -1.5M110 183l0.3 -3.4M355 106l1.6 3.4M347 127l0.7 1.8M266 326l-3.3 1.8M306 174l0.3 2.9M239 74l2.6 1.2M24 129l1.8 -4.8M105 252l-2.7 -3.7M229 357l-2.1 0.5M194 319l-4.1 0.1M315 217l-1.2 4.9M124 137l1.6 -2.0M101 74l3.9 -2.8M127 347l-2.3 -0.9M51 294l-1.5 -1.9M219 364l-4.8 0.8M94 183l0.4 -5.3M324 165l0.7 4.4M33 261l-0.9 -2.0M318 61l2.9 3.1M144 172l1.3 -3.3M199 261l-3.4 0.5M2 27l1.5 -1.7M60 360l-3.1 -2.4M86 13l4.5 -2.5M97 374l-3.9 -2.0M19 48l1.8 -2.2M281 104l2.8 3.2M173 243l-5.1 -1.6M49 302l-3.2 -3.9M213 108l1.5 0.5M91 284l-2.4 -2.5M313 268l-1.5 2.2M192 286l-2.5 0.1M347 322l-3.5 4.0M288 198l-0.3 2.9M277 149l1.1 2.6M133 30l4.2 -1.4M78 259l-1.1 -1.8M158 157l2 -1.8M353 81l2.2 3.4M253 249l-3.8 3.8M65 43l2.4 -2.0M151 244l-2.8 -1.9M113 98l2.3 -1.9M327 124l1 2.3M116 217l-1.5 -3.9M113 96l1.4 -1.1M133 268l-4.1 -2.9M340 63l1.7 2.1M242 293l-2.7 1.4M13 368l-1.2 -1.2M111 354l-4.5 -2.2M345 93l1.6 2.7M138 156l3.1 -4.5M373 133l0.7 2.5M17 50l1.7 -2.1M100 193l-0.1 -3.3M35 2l3.6 -2.9M299 94l2 2.5M80 340l-4.4 -3.2M32 206l-0.3 -3.0M104 153l1.3 -3.0M49 46l2.8 -2.7M80 179l0.5 -4.9M162 20l3.7 -0.5M8 236l-1.3 -5.0M240 319l-2.7 1.0M259 179l0.3 2.9M34 370l-1.5 -1.3M18 237l-0.6 -2.2M244 169l1 3.5M140 220l-1.8 -2.8M55 153l0.4 -1.5M46 16l1.9 -1.5M55 331l-3 -2.8M23 33l2 -2.1M374 306l-1.5 2.4M256 43l3.9 1.9M281 33l1.7 1.0M334 337l-1.3 1.3M120 237l-3 -4.3M123 162l2.1 -4.8M163 7l5.2 -0.6M122 349l-2.5 -1.0M332 129l1.9 5.0M66 335l-2.9 -2.5M194 366l-3.4 0.1M10 192l-0 -5.0M92 90l3.1 -3.0M128 35l2.7 -1.0M275 184l0 1.9M281 213l-1.2 4.1M12 2l1.3 -1.2M199 299l-3.8 0.3M196 175l1.4 1.1M261 370l-3.5 1.4M172 326l-2 -0.2M211 236l-3.3 1.4M244 237l-1 1.2M131 28l4.5 -1.5M344 129l1.7 4.8M246 367l-3.3 1.0M50 309l-2 -2.3M75 67l3.7 -3.4M265 310l-2.8 1.8M50 64l1.4 -1.6M7 208l-0.3 -2.5M360 231l-0.6 2.3M46 171l0.3 -2.3M123 270l-2.1 -1.7M48 281l-0.9 -1.3M261 80l4.2 3.0M302 196l-0.4 4.3M330 97l1 1.6M332 164l0.6 4.2M328 2l1.6 1.2M362 333l-3.2 3.7M5 279l-0.7 -1.4M271 356l-4.5 2.2M368 60l1.7 2.4M285 70l1.2 1.0M317 33l2.4 2.0M44 83l2.8 -3.8M294 321l-3.5 2.7M234 48l3.8 1.3M298 111l1.5 2.2M226 27l4.3 1.1M45 347l-1.8 -1.6M112 269l-1.9 -1.8M307 120l2.2 4.1M34 8l3.4 -2.8M353 129l0.9 2.7M129 254l-2.2 -2.0M9 85l1.5 -2.6M191 264l-3 0.1M350 311l-3 3.9M293 237l-1.9 3.9M325 29l1.4 1.3M288 32l2.5 1.6M370 235l-1.2 4.2M334 8l1.9 1.6M94 348l-2.6 -1.5M314 123l2.3 4.7M4 7l2 -2.1M120 272l-2.5 -2.1M156 318l-1.8 -0.4M166 4l2.3 -0.2M332 214l-1.1 5.2M120 76l3.6 -2.1M50 62l3.3 -3.5M364 132l1.3 4.4M261 189l-0.1 2.2M266 210l-0.7 2.3M109 353l-4.6 -2.2M136 185l0.1 -2.1M370 250l-0.7 2.0M346 15l1.4 1.3M106 128l2.6 -3.4M145 18l1.6 -0.4M44 151l0.4 -1.5M126 287l-2.1 -1.3M10 370l-1.8 -1.7M183 99l5 -0.1M151 196l-0.7 -3.7M2 115l2.1 -5.1M212 210l-3.9 3.6M74 8l2.3 -1.4M139 231l-2.6 -3.2M347 222l-1.2 5.2M258 106l1.3 1.1M259 122l1.8 2.1M6 345l-3.4 -4.0M233 146l2.3 2.7M31 63l1.4 -1.8M61 243l-0.7 -1.7M297 215l-0.5 1.9M80 199l-0.4 -4.4M44 272l-0.8 -1.3M207 7l4.3 0.5M315 283l-1.2 1.6M252 305l-1.6 0.8M82 312l-1.6 -1.4M151 198l-0.5 -1.6M159 51l4.3 -0.8M186 224l-2 -0.1M6 195l-0.1 -2.7M246 334l-2.3 0.9M145 21l5.3 -1.3M164 358l-3.7 -0.6M332 92l1.2 1.9M95 281l-3.5 -3.6M91 3l2.7 -1.4M91 143l2 -4.2M194 234l-4.7 0.4M325 13l1.3 1.0M28 166l0.5 -3.7M283 212l-1.5 5.2M349 361l-3.9 3.6M263 244l-1.2 1.6M244 5l3.4 1.1M113 353l-1.9 -0.9M14 198l-0.2 -3.4M269 193l-0.2 2.5M236 88l2.6 1.3M220 215l-2.9 3.1M199 12l4.5 0.4M77 304l-2.2 -2.2M317 25l4 3.3M248 342l-4.1 1.6M34 201l-0.2 -2.6M308 281l-2.9 3.7M181 304l-3.8 -0.3M220 16l2.8 0.6M112 61l2.2 -1.3M108 313l-3.9 -2.5M360 256l-1.1 2.8M27 287l-1.5 -2.5M133 295l-2 -1.0M188 250l-2.3 0M178 15l3.7 -0.2M139 360l-2.5 -0.7M38 19l3.8 -3.3M17 339l-1.9 -2.1M115 312l-3.5 -2.1M320 270l-1.7 2.6M32 282l-1.6 -2.6M271 247l-1.1 1.5M367 42l1.4 1.7M66 237l-1.2 -3.1M280 134l2.2 3.9M29 304l-2 -2.8M1 291l-1.8 -3.3M55 342l-3.8 -3.3M331 362l-3.3 2.6M278 42l2.7 1.8M81 140l1.3 -2.8M44 266l-2 -3.7M366 134l0.7 2.4M331 63l3 3.5M67 347l-2.2 -1.7M253 258l-4.1 3.6M99 324l-3.5 -2.3M218 267l-3.1 1.1M286 268l-1.2 1.5M87 145l1.7 -3.8M165 87l3.8 -0.7M55 105l0.9 -1.5M61 336l-3.3 -2.9M185 160l1.6 -0.1M125 161l2 -4.2M125 63l2.8 -1.4M26 351l-1.3 -1.3M64 293l-3.2 -3.9M115 111l1.9 -1.7M258 53l3.1 1.7M221 251l-2.9 1.5M244 272l-1.4 0.9M180 297l-2.1 -0.2M56 14l2 -1.5M46 336l-2.4 -2.3M158 37l3.3 -0.6M26 189l-0 -3.4M356 185l-0 5.2M320 208l-0.3 1.6M26 40l1.8 -2.0M71 86l2.9 -3.2M366 18l1.6 1.7M279 248l-2 3.0M374 90l0.8 1.5M262 18l4.9 2.2M271 43l1.4 0.8M25 290l-2.2 -3.6M206 358l-2.5 0.3M151 151l1.7 -1.6M65 328l-3.9 -3.5M27 2l3.6 -3.0M368 126l1.2 3.5M245 71l2.8 1.4M59 98l1.2 -1.7M242 175l0.6 3.1M347 184l0 3.1M92 115l1.9 -2.5M189 26l3.8 0.1M362 295l-2.9 4.5M327 163l0.4 2.7M340 322l-2.7 3.0M196 11l5.1 0.3M143 356l-5.1 -1.4M63 209l-0.7 -4.7M308 5l4.3 2.9M157 206l-1.4 -2.5M332 47l1.7 1.7M197 40l2.7 0.2M284 264l-2.2 2.7M354 86l1.5 2.6M363 28l1.9 2.2M287 219l-1 3.0M15 190l-0 -3.5M21 218l-0.9 -5.1M325 175l0.2 3.0M283 88l1.7 1.7M245 251l-2.5 2.2M104 228l-1.3 -2.9M281 122l2.3 3.4M256 363l-4 1.5M341 188l-0.1 5.3M248 68l3.3 1.7M240 102l4.5 3.0M263 362l-4.6 1.9M328 354l-2 1.7M246 238l-1.9 2.1M161 339l-1.5 -0.3M25 147l1.3 -5.0M70 259l-1.1 -1.9M290 52l1.9 1.5M62 84l2.7 -3.2M354 201l-0.5 5.1M252 152l1.4 2.7M317 130l1.9 4.4M130 29l3.8 -1.3M56 226l-1.3 -4.6M69 170l0.4 -2.5M97 300l-2.8 -2.3M317 370l-2.3 1.6M273 289l-3.9 3.2M206 347l-3.1 0.3M51 243l-1.2 -3.2M28 357l-3.9 -3.8M195 258l-2 0.2M314 331l-1.8 1.5M53 251l-1.7 -3.8M58 345l-3.4 -2.9M146 2l4.9 -1.0M239 249l-2.1 1.7M304 275l-2.3 3.0M171 156l2.2 -1.0M37 21l2.5 -2.2M24 83l2.2 -3.4M348 93l2.2 3.9M324 88l1.6 2.2M177 273l-5.4 -0.9M316 301l-1.9 2.1M248 331l-2.1 0.9M193 307l-4.3 0.1M295 176l0.4 4.3M137 164l2.6 -4.8M323 273l-2.1 3.3M20 287l-0.9 -1.6M127 322l-3.9 -1.8M135 268l-2.3 -1.5M263 356l-2.8 1.2M270 221l-0.8 1.9M156 41l5.1 -1.0M99 287l-2.6 -2.4M98 172l0.3 -1.6M340 204l-0.6 5.0M78 269l-2.2 -3.0M198 47l4.6 0.4M275 56l2 1.3M210 71l3 0.6M366 66l2.3 3.4M195 72l4.5 0.4M319 184l0 5.1M208 170l1.2 1.5M148 372l-4.7 -1.1M11 134l0.7 -2.1M327 277l-1 1.6M26 322l-2.2 -2.6M234 203l-0.8 2.1M285 188l-0.1 2.7M76 195l-0.2 -4.4M164 327l-3.6 -0.6M334 133l1.5 4.2M268 181l0.2 3.8M198 206l-3 1.3M16 181l0.2 -3.6M146 199l-1 -4.9M89 13l3.9 -2.1M90 311l-1.7 -1.3M301 175l0.4 5.0M216 3l3.7 0.6M157 242l-2.3 -1.3M283 366l-3.7 1.9M220 355l-1.9 0.4M14 134l1.4 -4.4M245 251l-3.7 3.1M164 335l-1.8 -0.3M40 112l0.8 -1.5M56 144l0.9 -2.8M95 131l1.4 -2.2M158 298l-2.8 -0.8M87 326l-1.3 -0.9M181 75l1.7 -0.1M298 335l-4.2 3.0M365 26l1 1.2M128 145l3.1 -4.0M209 28l5.2 0.8M115 102l2.6 -2.1M213 131l4.9 2.5M272 290l-2.5 2.0M309 186l0 1.6M142 266l-4.6 -2.8M113 363l-1.9 -0.8M227 53l4.5 1.4M298 148l0.6 1.6M242 41l2.2 0.9M6 20l2.9 -3.1M288 195l-0.2 2.6M150 317l-4.7 -1.4M30 315l-2.8 -3.6M124 304l-4.5 -2.5M352 57l1.7 2.2M188 47l1.9 0.0M195 302l-5.2 0.2M141 160l1.3 -2.2M337 -0l4 3.3M206 240l-2.8 0.9M207 276l-2.7 0.5M178 274l-4.7 -0.6M195 174l3.3 2.4M184 231l-2.7 -0.3M161 84l3.2 -0.8M287 115l1.4 2.0M41 192l-0.1 -4.8M71 48l2.8 -2.3M227 21l3.2 0.8M99 122l2.8 -3.6M145 99l1.7 -0.8M194 274l-4.2 0.2M214 333l-3.9 0.7M113 361l-1.8 -0.8M83 362l-4.4 -2.7M164 13l3.2 -0.4M56 69l2.7 -2.9M2 49l1.4 -1.9M292 73l2.7 2.5M169 214l-3.5 -2.9M299 253l-1.9 3.1M68 173l0.5 -3.9M339 203l-0.2 2.0M358 236l-1.4 4.8M366 223l-0.5 2.5M361 123l1.4 4.1M224 10l4.1 0.9M318 70l3.1 3.5M123 86l4.3 -2.6M17 152l1.2 -5.2M25 259l-0.7 -1.5M287 351l-3.8 2.3M277 223l-1.2 3.0M249 210l-0.7 1.9M302 29l4 3.0M249 363l-4.9 1.7M337 55l2.3 2.7M177 177l3.5 -2.6M325 183l0.1 2.1M68 80l3 -3.3M24 22l3.9 -3.7M349 210l-0.4 2.9M163 144l1.9 -1.0M372 241l-0.5 1.6M4 26l1.3 -1.4M282 322l-4.3 2.9M66 223l-0.7 -2.6M113 33l1.7 -0.8M180 12l3.8 -0.1M128 226l-1.8 -2.9M182 249l-4 -0.5M50 350l-3.2 -2.7M161 155l1.5 -1.2M275 371l-4.9 2.3M361 123l0.9 2.6M65 222l-0.8 -2.9M364 162l0.3 2.5M68 226l-1.3 -4.5M270 180l0.3 4.8M213 29l2.9 0.5M321 277l-2 2.9M87 248l-2 -3.4M249 170l1.2 4.8M15 150l0.5 -2.3M137 127l2.8 -2.2M332 6l2.7 2.2M202 195l-2.5 3.7M124 7l4.5 -1.5M360 112l1.7 4.1M375 363l-1.7 1.8M111 42l2.4 -1.2M137 113l1.5 -1.0M24 297l-2.4 -3.6M108 294l-3.5 -2.7M198 225l-1.7 0.5M355 296l-3 4.5M137 226l-2.9 -4.0M246 363l-2.7 0.9M178 0l1.7 -0.1M327 158l0.7 3.6M191 168l1.7 0.4M202 344l-5 0.4M19 330l-2.6 -3.1M218 373l-3.3 0.5M347 187l-0 2.4M178 157l3.5 -0.9M263 251l-1.4 1.6M238 81l1.4 0.7M176 104l3.3 -0.4M335 283l-2.3 3.5M344 148l0.7 2.9M148 272l-2.3 -1.1M352 267l-0.8 1.6M240 368l-2.4 0.7M47 254l-1.5 -3.2M218 294l-2.2 0.6M78 89l1.3 -1.4M282 44l1.9 1.3M157 118l1.8 -0.8M294 85l1.1 1.1M133 100l4 -2.4M359 270l-1.2 2.4M288 238l-1.6 3.1M247 176l0.6 4.5M287 333l-3.5 2.3M180 262l-3.5 -0.5M190 356l-5.1 0.0M234 19l2.7 0.8M197 143l3.8 1.0M332 335l-3.6 3.4M166 126l4.7 -1.4M160 41l4.6 -0.8M243 129l2.2 2.1M259 138l2.2 3.4M17 335l-1.6 -1.8M165 333l-3.9 -0.6M115 260l-3 -3.2M115 166l0.7 -2.3M156 35l5.2 -1.0M248 214l-1.1 2.3M126 153l2.5 -4.1M75 51l1.8 -1.4M338 90l2.5 4.0M232 294l-3.1 1.3M20 76l2 -2.9M284 208l-1.2 5.1M211 288l-5.3 1.1M12 370l-1.2 -1.2M290 156l1.1 3.8M214 335l-5.2 0.8M110 69l1.7 -1.1M106 338l-2.9 -1.6M77 221l-0.9 -3.2M81 69l2 -1.8M54 183l0.1 -2.4M105 226l-1.7 -3.9M195 89l2.3 0.2M19 12l3.1 -2.9M286 323l-2.6 1.9M86 116l1.7 -2.4M43 4l4.2 -3.2M258 147l1.6 3.0M182 5l2.3 -0.1M209 157l3.6 2.9M206 138l4.4 1.9M262 118l3.2 3.6M279 348l-2.9 1.6M314 92l3 4.2M78 373l-4.3 -2.6M372 230l-0.9 3.9M7 40l1.6 -1.9M295 357l-3.2 2.0M127 181l0.3 -2.6M354 26l2.5 2.6M28 288l-1.2 -2.0M131 103l1.7 -1.1M232 148l2.1 2.6M184 38l3.6 0M243 110l2.2 1.6M270 360l-2.2 1.0M39 204l-0.4 -3.9M291 14l3.9 2.4M108 141l2.2 -3.6M49 89l1.4 -1.9M286 276l-1.1 1.2M155 324l-3.4 -0.9M251 289l-3.9 2.4M337 158l0.9 4.8M235 100l4.1 2.4M289 200l-0.6 4.0M361 71l1.1 1.6M137 110l1.4 -0.9M324 372l-2.4 1.7M129 126l2 -1.8M52 61l1.2 -1.3M2 82l2.3 -4.0M110 211l-1.2 -4.3M267 257l-2 2.2M362 204l-0.3 2.5M88 188l0.1 -5.4M3 357l-2.8 -3.1M12 360l-2.8 -2.8M304 80l1 1.1M295 248l-1.5 2.7M332 131l1.5 4.1M296 92l2.8 3.3M51 110l1.9 -3.2M106 74l2.9 -2.0M38 346l-3.1 -3.0M101 360l-3.5 -1.8M153 269l-1.9 -0.9M8 220l-0.8 -4.8M89 114l2.9 -3.7M205 205l-2.4 2.2M185 277l-5.1 -0.3M24 369l-3.5 -3.3M252 309l-2.2 1.1M335 128l1.1 2.9M62 69l2.5 -2.6M363 288l-1.1 1.8M106 181l0.4 -4.2M98 57l2.2 -1.5M72 316l-3 -2.8M6 339l-1.4 -1.7M227 103l1.9 0.9M2 342l-1.1 -1.3M4 184l0.2 -5.3M347 322l-1.8 2.1M237 243l-3 2.5M191 50l3.4 0.1M243 189l-0.1 2.0M215 223l-4.3 2.9M335 22l3.6 3.3M252 181l0.3 3.2M362 79l1 1.6M236 354l-2.7 0.8M254 233l-1 1.5M231 329l-3.7 1.1M311 190l-0.1 3.6M280 80l3.5 3.1M104 138l1 -1.7M259 158l1.2 3.3M191 279l-3.2 0.1M206 123l3.4 1.1M76 98l2.8 -3.4M238 179l0.6 4.8M318 198l-0.3 3.1M91 339l-1.8 -1.1M261 112l2.4 2.4M54 120l2.1 -4.0M348 48l3 3.5M6 61l1 -1.4M185 330l-2.1 -0.1M275 199l-0.7 4.2M363 303l-1 1.5M203 155l4.1 2.3M168 274l-3.9 -1.0M345 46l1.8 2.0M361 154l0.8 4.7M313 10l2.3 1.7M307 110l1.7 2.6M79 12l2.1 -1.3M91 370l-3.7 -2.0M283 369l-2.9 1.5M4 197l-0.2 -3.3M135 344l-1.6 -0.5M169 278l-5.3 -1.2M242 274l-2.3 1.4M155 193l-0.4 -3.5M171 176l3.5 -3.9M133 134l3.6 -3.4M241 180l0.4 3.8M72 70l3.5 -3.3M320 102l1.7 2.7M124 12l1.7 -0.6M339 11l1.9 1.7M267 78l3.6 2.7M342 218l-0.3 1.7M355 218l-0.4 2.1M150 329l-4.1 -1.1M350 266l-2.1 4.3M121 225l-1.6 -2.9M156 326l-3.9 -0.9M189 132l4.8 0.3M257 281l-2.8 2.0M335 242l-1.2 3.1M66 285l-1.8 -2.3M145 160l1.1 -1.6M174 216l-1.9 -1.0M149 239l-3.2 -2.5M113 170l0.8 -3.0M49 14l4.2 -3.2M282 119l1.8 2.6M285 370l-3.1 1.6M288 132l2.3 4.3M234 254l-2.7 1.8M81 265l-1.1 -1.5M155 212l-1.3 -1.8M349 279l-1.3 2.2M140 167l0.7 -1.7M319 183l0.1 3.7M20 98l1.2 -2.3M255 14l4.2 1.7M120 228l-1.6 -2.7M239 123l1.8 1.5M290 287l-2.6 2.6M48 214l-0.3 -1.7M223 173l0.9 2.5M159 257l-3.7 -1.6M104 282l-2.2 -2.0M121 226l-1.5 -2.6M110 160l0.6 -1.7M137 286l-4.6 -2.5M319 137l1.2 3.2M350 251l-2.1 5.0M320 89l1 1.4M251 369l-4 1.4M316 9l3.4 2.5M228 50l3.6 1.1M58 218l-1.1 -5.2M43 212l-0.4 -2.6M256 144l1 1.6M335 216l-0.3 1.7M223 80l2.9 1.0M324 332l-1.2 1.1M165 153l4.7 -2.6M345 238l-1.1 3.5M59 225l-0.8 -2.7M76 346l-3.9 -2.8M302 322l-2.2 1.9M99 175l0.5 -3.2M225 226l-3.8 3.3M233 17l2.7 0.8M268 69l3.9 2.8M135 34l3.6 -1.2M360 45l1.9 2.3M294 61l2.2 1.9M63 165l0.7 -3.7M184 101l2.9 -0.1M258 178l0.3 2.6M48 254l-1.8 -3.8M32 128l0.8 -2.0M67 276l-1.9 -2.6M195 187l-0.2 2.2M105 145l1.2 -2.2M121 322l-3.8 -2.0M364 86l0.8 1.5M249 47l2.8 1.3M272 130l2.1 3.2M170 223l-1.9 -1.0M105 342l-3.7 -2.0M61 9l1.5 -1.0M111 44l4.3 -2.2M46 271l-1.5 -2.5M360 237l-1.4 4.6M211 136l4.8 2.5M302 43l3 2.4M95 356l-2.8 -1.6M340 35l2.5 2.5M139 295l-1.7 -0.8M240 270l-2.3 1.4M322 88l2.2 3.0M288 261l-1.2 1.7M283 352l-2.5 1.4M32 95l1.5 -2.5M332 90l2.8 4.3M29 35l3.5 -3.6M225 354l-3.3 0.7M109 21l4 -1.8M240 165l1.8 4.6M205 341l-3.3 0.3M148 22l3.7 -0.8M347 334l-3.3 3.5M131 27l3.4 -1.1M289 103l1.3 1.6M171 79l4.6 -0.6M3 70l1.1 -1.7M35 70l2.5 -3.2M122 188l0.1 -4.1M269 42l2.9 1.7M92 228l-1.7 -4.4M228 368l-1.7 0.4M139 317l-4 -1.6M270 90l1.4 1.2M5 251l-1.4 -4.1M173 58l4.8 -0.4M165 93l4.1 -0.9M71 245l-2.3 -4.9M283 54l3.5 2.6M256 28l4.8 2.2M245 223l-2.9 4.3M308 164l0.5 2.6M50 164l0.9 -4.7M359 213l-0.4 2.8M277 2l4.6 2.3M222 168l1.3 2.4M184 367l-2.9 -0.1M136 218l-1.8 -3.2M37 310l-3.1 -3.8M341 2l3.5 3.0M223 37l2.8 0.7M223 94l3.5 1.4M368 194l-0.2 3.8M8 120l1 -2.5M302 27l3.6 2.7M267 262l-2.8 2.9M239 234l-1 1.1M235 71l1.5 0.6M64 374l-3.6 -2.4M25 167l0.5 -3.7M361 298l-2.6 3.9M363 275l-1.7 3.3M6 302l-2.8 -4.6M232 87l4.7 2.2M94 239l-2.2 -4.3M363 213l-0.5 3.1M317 221l-0.4 1.6M162 216l-3.5 -3.5M290 316l-2.6 2.0M122 139l2.5 -3.1M78 342l-4.4 -3.2M215 264l-3.9 1.3" stroke="#1a1a1a" stroke-width="1.5" stroke-linecap="round" fill="none"/><path d="M14 99l2.5 -4.7M74 328l-1.8 -1.5M11 236l-0.9 -3.3M139 323l-5.1 -1.9M82 58l3.9 -3.0M263 200l-0.8 4.1M206 119l1.9 0.5M25 229l-0.9 -3.7M82 344l-4.3 -3.0M126 253l-2.9 -2.8M313 349l-3.7 2.8M90 208l-0.6 -2.9M135 362l-3.4 -1.0M349 149l0.4 1.8M110 160l1.8 -4.6M316 168l0.5 3.4M282 367l-3.2 1.6M210 119l2.3 0.8M66 169l0.5 -3.0M192 40l1.7 0.1M15 106l1.7 -3.4M365 11l3.2 3.3M208 261l-3.5 0.9M346 312l-2.6 3.2M72 113l1.6 -2.4M309 190l-0.1 2.8M184 193l-2.8 -3.9M187 153l5.4 0.3M137 156l1 -1.5M154 233l-3 -2.3M315 264l-1.7 2.8M356 314l-1.4 1.9M236 306l-3.7 1.4M249 357l-4.2 1.5M337 343l-2.9 2.8M130 246l-1.1 -1.1M142 262l-2.1 -1.3M142 35l3.9 -1.1M169 273l-4.7 -1.1M124 108l1.6 -1.2M343 286l-2.5 3.8M30 96l1.2 -2.0M295 239l-1.8 3.6M229 104l4.5 2.4M16 57l1 -1.4M20 138l0.7 -2.4M236 135l1.5 1.4M159 163l1.1 -1.2M321 350l-4.2 3.3M278 120l1.4 2.0M22 168l0.5 -3.9M289 278l-1.8 2.0M25 263l-1.9 -4.1M87 84l1.9 -1.8M154 244l-4.6 -3.0M155 216l-3.2 -4.1M200 196l-1 1.3M346 8l3.7 3.4M350 289l-1.2 1.8M218 374l-1.7 0.3M78 220l-0.7 -2.3M274 37l4.5 2.7M368 155l0.5 2.9M189 303l-3.1 0M283 320l-1.8 1.3M147 258l-1.8 -1.0M32 143l1 -3.5M291 93l3.5 4.0M98 336l-4.6 -2.9M185 148l2 -0.1M177 19l3.8 -0.2M355 91l1 1.7M68 245l-1.8 -3.9M274 225l-0.8 1.7M166 36l1.6 -0.2M364 207l-0.5 3.9M16 260l-1.6 -3.8M165 182l1.4 -4.1M173 85l3.5 -0.4M184 99l2.1 0M37 81l2.9 -4.0M327 305l-2.2 2.5M132 40l4.4 -1.6M89 177l0.3 -2.3M291 191l-0.2 3.1M232 344l-3.4 0.9M128 263l-3.1 -2.5M74 178l0.5 -4.5M182 297l-5.1 -0.4M273 2l4.5 2.2M358 244l-0.7 2.1M291 43l2.2 1.6M203 135l3.1 1.0M85 254l-1.8 -2.9M243 267l-3 2.0M25 142l1.2 -4.1M37 279l-2.7 -4.5M297 281l-1.5 1.8M362 20l1.5 1.6M138 315l-4.2 -1.7M165 178l1.3 -2.6M110 42l2.1 -1.1M365 72l0.9 1.4M219 5l3.1 0.6M159 35l4.6 -0.8M48 273l-1.2 -1.9M298 144l1.3 3.5M245 59l2.3 1.0M127 327l-3.2 -1.4M328 14l1.7 1.3M174 275l-2.4 -0.4M123 119l2.5 -2.3M38 119l1.4 -3.0M336 10l2.4 2.0M24 254l-0.8 -2.0M23 30l2.6 -2.7M372 150l0.9 4.6M355 179l0.2 5.4M160 79l1.6 -0.4M77 21l2 -1.3M235 233l-1.3 1.3M82 135l2.3 -4.4M242 213l-1.1 2.3M112 35l2.2 -1.1M216 345l-4.6 0.8M327 246l-1 2.3M318 365l-3.1 2.2M225 186l0 1.8M293 47l4 3.1M173 345l-3.7 -0.4M183 53l3.3 -0.1M73 330l-1.3 -1.1M336 320l-1.9 2.1M55 208l-0.7 -5.2M188 325l-3.2 0M140 199l-0.9 -4.6M190 24l2.6 0.1M224 14l5 1.1M131 150l2.5 -3.5M256 307l-3.2 1.8M8 188l0 -4.7M314 251l-2.3 4.4M24 203l-0.3 -3.4M45 215l-0.3 -1.9M124 186l0.2 -3.6M27 165l0.7 -4.8M188 128l1.9 0.0M310 115l1.9 3.4M301 237l-0.6 1.4M149 353l-4.4 -1.1M180 222l-1.6 -0.3M92 133l2 -3.3M104 68l1.6 -1.1M59 364l-2.5 -1.9M219 30l4.6 1.0M172 251l-4.7 -1.3M284 211l-0.9 3.4M304 100l1.4 2.0M235 305l-3.5 1.3M260 127l2.2 2.7M99 202l-0.6 -4.2M110 52l2.4 -1.4M262 93l1.7 1.4M351 43l3.1 3.5M220 109l2.1 0.9M227 33l2.7 0.7M204 305l-2.7 0.3M69 214l-0.5 -2.2M100 371l-3.2 -1.5M148 39l2.8 -0.7M102 22l4.2 -2.1M84 295l-2.1 -2.0M108 236l-1.1 -1.9M26 291l-2.8 -4.5M102 140l2.3 -4.0M373 103l1.7 3.8M231 224l-1.5 1.8M98 203l-0.7 -4.6M136 170l0.6 -1.7M291 316l-1.9 1.5M308 251l-2.7 4.8M112 243l-1.1 -1.5M215 73l4.2 1.1M283 355l-1.5 0.9M143 292l-3.4 -1.5M369 187l-0.1 4.7M281 338l-4.4 2.6M263 152l1.3 2.9M119 273l-1.4 -1.2M184 183l4 -1.0M82 299l-1.7 -1.6M168 265l-4 -1.1M328 83l1.6 2.2M177 349l-2.4 -0.2M113 76l4.6 -2.9M303 14l2.1 1.4M95 224l-0.8 -2.1M241 155l2.4 4.4M265 93l2.8 2.4M202 112l4.7 1.1M117 219l-1 -2.4M170 315l-2.8 -0.4M49 127l0.7 -1.6M223 167l1.1 2.1M130 348l-2 -0.7M85 11l2 -1.2M30 41l3 -3.2M292 309l-3.8 3.2M223 3l1.5 0.3M106 346l-3 -1.6M125 71l4.7 -2.4M191 155l3.2 0.5M173 333l-4.5 -0.5M95 105l2.8 -3.1M86 304l-3.9 -3.5M345 234l-0.9 3.1M283 37l3.2 2.1M158 96l4.3 -1.3M197 308l-4.4 0.3M312 53l2.7 2.6M198 130l4.8 1.1M182 352l-4.6 -0.2M49 231l-0.5 -1.7M46 301l-3.3 -4.2M19 118l1.1 -2.5M258 291l-2.6 1.7M339 171l0.2 2.1M256 92l4 3.0M159 64l5.2 -1.1M192 259l-4.7 0.2M211 93l3.2 0.9M34 46l2.1 -2.2M283 349l-4 2.3M82 54l3.6 -2.8M292 56l1.4 1.1M145 18l1.5 -0.4M48 242l-0.7 -1.7M345 317l-2.4 2.9M209 265l-3.4 0.9M184 125l4.5 -0.1M353 10l2.6 2.5M354 182l0.1 3.8M156 178l0.6 -1.7M192 339l-1.7 0.0M172 300l-2.2 -0.3M102 19l2.1 -1.0M351 326l-1.7 2.0M163 270l-2.2 -0.7M196 316l-3.6 0.2M165 264l-2.4 -0.7M371 189l-0.1 4.4M98 205l-0.4 -2.4M260 111l3.4 3.4M73 42l1.2 -0.9M90 293l-3.5 -3.3M317 330l-2.6 2.3M17 98l1.5 -2.8M290 212l-1 3.7M232 364l-3.5 0.8M355 121l1.3 3.3M79 5l4.7 -2.7M268 247l-3.2 4.0M199 260l-4.3 0.5M319 188l-0 2.5M182 21l2.2 -0.1M143 74l2.3 -0.9M347 326l-3.2 3.6M324 63l3.5 4.0M261 75l1.3 0.9M254 242l-1.8 2.1M110 178l0.3 -2.4M136 126l2.3 -1.9M142 208l-1.4 -3.3M192 321l-4.3 0.1M205 4l3 0.3M60 295l-2.8 -3.4M34 232l-0.7 -2.5M174 318l-2 -0.2M354 258l-1.8 4.1M51 371l-3.3 -2.5M365 197l-0.2 3.0M261 47l4.3 2.3M23 56l3.2 -3.9M183 283l-2.1 -0.1M78 295l-3.7 -3.9M337 210l-0.8 4.6M367 203l-0.2 2.0M61 21l2 -1.5M79 297l-1.9 -1.9M326 124l0.7 1.5M2 335l-1.7 -2.1M102 339l-3.8 -2.2M343 43l1.7 1.8M127 313l-2.8 -1.4M357 358l-1.8 1.8M251 166l1.1 3.6M140 291l-2.8 -1.4M197 122l4.9 0.9M148 172l1.8 -4.2M234 52l2.5 0.9M91 90l1.9 -1.9M195 58l4.5 0.3M296 231l-1 2.4M233 295l-3.5 1.4M148 45l5.1 -1.3M326 167l0.5 3.8M299 290l-1.7 1.8M336 291l-1.1 1.6M211 244l-4.5 1.6M284 372l-1.6 0.8M3 364l-1.5 -1.6M349 312l-2.3 2.9M1 50l3.3 -4.4M257 29l2.1 0.9M265 288l-2.1 1.6M366 84l1.8 3.2M83 236l-0.7 -1.5M16 251l-0.7 -2.0M24 192l-0 -2.5M19 16l2.5 -2.5M247 120l3.4 3.1M224 171l1.2 2.8M342 111l1 2.1M74 338l-2.3 -1.8M300 60l2.8 2.5M355 201l-0.1 1.6M89 224l-1.5 -4.2M295 247l-1.2 2.2M115 225l-0.8 -1.5M115 49l1.7 -0.9M313 14l1.4 1.0M309 54l2.1 2.0M204 308l-3.7 0.5M366 46l3.1 4.0M240 71l3.8 1.8M333 209l-0.8 4.6M224 172l1.3 3.9M242 211l-1.6 3.5M9 263l-1.1 -2.5M92 204l-0.5 -3.2M47 67l2.4 -2.7M222 200l-1.6 3.6M55 34l3.3 -2.8M152 166l2.2 -3.3M354 94l2 3.7M119 299l-3 -1.9M163 158l2.1 -1.6M175 99l5.2 -0.6M360 35l1.1 1.2M286 366l-1.9 1.0M208 251l-3 0.9M156 125l3.8 -1.7M322 90l1.9 2.8M336 180l0.1 4.4M286 365l-3.9 2.1M235 373l-2.6 0.6M267 244l-3.1 4.1M355 277l-1.4 2.5M341 294l-1.6 2.3M222 95l1.9 0.8M259 331l-2.3 1.1M236 16l3.4 1.0M319 339l-2.1 1.8M247 116l3.6 3.2M267 336l-3.9 2.0M132 95l3.9 -2.2M70 198l-0.3 -3.2M29 12l1.8 -1.6M309 314l-1.4 1.3M106 121l1.2 -1.5M223 203l-2.6 4.9M177 31l5.1 -0.3M321 34l1.6 1.4M57 325l-2.7 -2.6M8 152l0.9 -4.2M183 23l3.4 -0.1M317 238l-1 2.6M24 320l-1.9 -2.4M40 46l3.6 -3.7M190 303l-3.5 0.0M109 21l3.7 -1.7M167 296l-5 -1.1M314 340l-2.1 1.7M221 179l0.6 3.3M188 34l1.6 0.0M142 35l3.9 -1.1M308 51l2.3 2.1M141 81l4.8 -2.0M235 211l-1.3 2.4M349 49l1.7 2.1M350 37l3.2 3.6M296 84l1.4 1.5M110 232l-1.9 -3.5M321 301l-2.6 3.0M5 191l-0 -3.6M360 219l-0.6 3.3M80 300l-2.4 -2.3M58 173l0.5 -3.6M23 241l-1.5 -4.9M272 207l-0.4 1.5M349 246l-1.3 3.6M72 322l-2.4 -2.1M273 177l0.3 2.8M303 261l-1 1.5M232 299l-4.4 1.6M317 196l-0.3 3.3M128 179l0.4 -2.6M254 323l-4.3 2.0M216 319l-4.9 1.0M211 162l1.2 1.1M29 296l-1 -1.4M369 325l-2.4 3.1M223 374l-5.4 0.9M98 294l-1.5 -1.3M266 347l-4.4 2.1M370 66l2.8 4.2M49 266l-2.2 -4.0M177 299l-3.8 -0.4M288 73l1.3 1.1M12 341l-1.3 -1.5M246 59l4.5 2.2M196 257l-4.9 0.4M88 257l-1.5 -2.1M251 160l1.9 4.9M184 126l5.4 0M112 333l-4.4 -2.4M227 268l-4.1 1.9M187 355l-3.4 0M63 186l0.1 -4.0M66 195l-0.2 -4.1M372 278l-1.3 2.5M331 82l2.3 3.1M61 195l-0.2 -4.9M183 338l-2.4 -0.1M239 374l-2 0.6M362 47l2.8 3.5M238 203l-1 2.9M34 313l-2.4 -3.0M243 173l1.1 5.1M174 221l-3.9 -1.9M245 119l2.4 2.1M256 113l2.5 2.4M40 76l1.5 -2.0M234 200l-0.8 2.4M298 242l-2.4 4.7M288 278l-1.5 1.6M51 100l2.7 -4.1M311 4l4.3 3.0M83 172l0.7 -4.4M326 365l-1.5 1.2M281 135l2.3 4.5M294 215l-1.1 4.0M35 344l-3.2 -3.1M189 145l2.2 0.1M279 330l-4.4 2.8M327 65l2.1 2.5M348 129l0.6 1.6M137 32l1.9 -0.6M232 277l-2.8 1.4M211 27l3.8 0.6M240 127l3.9 3.7M223 304l-2.9 0.8M323 32l2.3 2.1M211 125l1.4 0.6M315 11l4.1 3.1M138 332l-3.1 -1.1M169 265l-3.7 -0.9M334 174l0.3 4.1M37 169l0.7 -4.9M325 48l2.9 3.0M330 3l1.7 1.3M280 125l0.9 1.4M118 297l-2.3 -1.5M374 335l-1.2 1.5M232 26l3.3 0.9M227 8l1.7 0.4M113 177l0.3 -1.9M358 335l-3.6 4.0M211 152l2.6 1.9M124 306l-2.3 -1.2M70 296l-2.5 -2.8M39 28l2 -1.8M186 27l5 0.0M71 276l-2 -2.7M116 329l-2.5 -1.3M93 360l-2.8 -1.6M194 56l4.7 0.3M246 140l2.3 3.0M58 351l-2 -1.6M241 331l-4 1.4M329 13l1.7 1.4M357 121l1 2.7M215 212l-2.2 2.3M351 251l-1.9 4.7M95 301l-2.2 -1.8M19 178l0.3 -4.3M35 6l3.9 -3.2M81 158l1.4 -4.7M256 62l3.7 2.1M217 328l-3.3 0.7M210 8l4.3 0.6M293 178l0.3 5.4M39 53l3.3 -3.6M272 339l-3.8 2.1M171 308l-4.5 -0.7M251 316l-2.5 1.2M3 10l1.7 -1.7M275 110l2.5 2.9M120 368l-3.4 -1.3M286 232l-2 4.2M48 220l-0.6 -2.6M342 113l1.1 2.3M44 182l0.2 -4.4M25 72l2.6 -3.6M106 253l-2 -2.6M314 75l2.2 2.5M296 203l-0.9 5.2M206 236l-1.8 0.7M2 237l-1.3 -5.3M260 263l-2.9 2.7M34 300l-3.2 -4.4M316 98l1.1 1.7M127 294l-2.2 -1.3M282 187l-0 1.8" stroke="#222222" stroke-width="1.5" stroke-linecap="round" fill="none"/><path d="M35 357l-1.6 -1.4M134 272l-4.5 -3.0M269 159l1.1 3.5M164 113l1.9 -0.6M271 308l-3.2 2.1M10 285l-2.1 -3.9M298 266l-2.6 3.6M188 30l2.9 0.0M308 306l-2.5 2.5M40 225l-1 -3.9M112 88l1.8 -1.3M366 270l-1.6 3.5M169 199l-2.3 -5.0M272 324l-1.9 1.1M204 75l4 0.7M332 102l2.5 4.4M94 207l-0.4 -2.3M344 322l-2.6 3.0M295 361l-1.4 0.8M176 154l3.2 -0.9M315 336l-2.5 2.1M271 352l-4 2.0M113 40l4.6 -2.2M256 269l-1.8 1.5M97 332l-4.1 -2.6M226 330l-4.2 1.1M35 124l1.8 -4.2M73 203l-0.3 -2.4M364 41l2.8 3.5M347 256l-0.7 1.6M337 322l-1.3 1.4M183 274l-3.3 -0.2M241 193l-0.2 1.7M20 53l3.3 -4.0M345 231l-0.8 2.9M72 259l-1.3 -2.1M163 248l-3.6 -1.6M349 121l0.6 1.4M222 24l2.3 0.5M246 218l-1.1 2.0M275 298l-4.2 3.2M365 149l0.5 2.2M308 37l1.7 1.4M354 247l-0.9 2.4M196 106l4.9 0.7M126 351l-4.1 -1.6M199 149l4.2 1.6M12 347l-2.6 -2.8M20 143l1.1 -4.0M293 36l2.4 1.7M115 244l-2.7 -3.6M272 151l0.6 1.4M184 126l4.8 -0.1M18 237l-1 -3.5M122 121l3.7 -3.5M190 214l-3.1 0.1M371 344l-2.5 2.8M210 80l3.6 0.8M312 9l1.6 1.1M82 212l-1.1 -5.3M40 279l-2.8 -4.6M215 66l4.6 1.1M249 106l1.6 1.2M66 11l1.3 -0.9M248 231l-2.7 3.5M265 228l-1.9 3.6M316 151l0.8 2.9M39 366l-2.5 -2.1M238 102l4.1 2.6M15 285l-0.8 -1.5M128 270l-3 -2.2M67 58l2.8 -2.6M44 346l-2.1 -1.9M282 202l-0.8 4.4M186 287l-2.4 -0.1M364 290l-1.2 2.1M308 141l0.9 2.4M81 244l-1.8 -3.5M218 313l-2.2 0.5M44 46l3.8 -3.8M291 200l-0.5 3.5M87 353l-2.5 -1.5M323 177l0.2 3.8M14 176l0.2 -2.8M300 342l-1.2 0.9M13 172l0.2 -1.7M101 115l3.3 -3.8M69 100l2.9 -3.8M367 26l1.8 2.0M216 137l4.4 2.8M185 197l-4.2 -2.5M109 158l1.1 -2.7M70 116l2.3 -3.6M147 255l-4 -2.6M287 120l1.3 1.9M151 306l-2.2 -0.7M190 145l2.1 0.2M331 157l0.5 2.5M4 31l3.3 -3.7M37 73l1.5 -1.9M225 54l3.2 0.9M28 104l2.2 -4.1M220 82l2.3 0.7M315 161l0.9 4.7M120 91l2.1 -1.5M78 189l-0 -1.8M261 102l3 2.7M95 152l0.8 -2.1M138 316l-3.8 -1.5M94 34l4.7 -2.8M242 20l4.9 1.7M333 353l-1.5 1.3M32 37l3.1 -3.2M58 317l-1.3 -1.3M208 141l2.9 1.4M90 246l-1 -1.7M236 200l-0.4 1.5M75 315l-3.9 -3.5M234 136l3.3 3.2M75 38l3.5 -2.6M249 46l4.9 2.3M360 247l-1.5 4.1M159 272l-3.1 -1.1M132 32l4.3 -1.5M203 17l3.4 0.4M301 340l-2.9 2.1M89 240l-0.8 -1.5M203 132l5 1.7M56 26l3 -2.4M106 101l1.8 -1.7M165 222l-3.5 -2.5M255 101l2.5 2.0M251 38l3.4 1.5M282 77l3.7 3.2M120 375l-2.2 -0.8M246 152l1.6 2.9M286 371l-1.8 1.0M143 235l-3 -3.0M284 371l-3.5 1.8M208 7l3.2 0.4M87 18l2.4 -1.4M238 80l4.7 2.3M13 28l1.7 -1.8M40 284l-2.4 -3.7M202 295l-4 0.5M149 344l-3.3 -0.8M162 51l3 -0.5M292 362l-3.1 1.8M57 249l-1.4 -3.0M19 93l2.3 -4.0M197 329l-2.6 0.2M93 274l-2.4 -2.7M321 179l0.2 4.6M247 41l3.9 1.6M21 33l1.3 -1.4M234 251l-2.9 2.1M277 238l-1.4 2.4M151 255l-1.6 -0.9M183 45l1.6 0M349 212l-0.6 3.6M43 308l-2.2 -2.7M304 51l1.2 1.0M62 143l0.7 -2.0M314 219l-1.3 4.7M25 80l2.2 -3.2M314 184l0 5.3M263 175l0.5 3.2M99 189l-0 -1.8M10 60l3 -4.1M348 317l-2.7 3.2M262 294l-4.5 3.0M69 348l-2.6 -2.0M93 256l-1.6 -2.2M268 132l2.5 3.9M260 20l3.1 1.4M29 21l2.4 -2.3M193 297l-4.5 0.1M170 321l-3.8 -0.6M73 81l3.2 -3.3M168 210l-3.1 -3.0M40 63l1.7 -2.0M21 154l0.8 -3.7M224 59l3.2 1.0M281 126l2.2 3.5M127 2l2.3 -0.7M269 363l-2.9 1.3M124 302l-4.1 -2.3M182 350l-3.9 -0.2M364 159l0.3 1.9M374 239l-0.7 2.4M341 333l-1.9 2.0M352 361l-1.3 1.2M291 174l0.3 3.0M102 349l-2 -1.1M236 14l2.3 0.7M137 213l-1 -2.1M182 265l-2.8 -0.2M360 198l-0.3 3.7M11 310l-2.3 -3.4M204 358l-1.5 0.1M330 59l2.3 2.6M286 43l1.8 1.2M6 29l1.1 -1.3M207 330l-3.4 0.4M135 311l-3 -1.3M269 4l3.9 1.8M144 66l2.3 -0.8M349 18l3.1 3.1M232 369l-4.9 1.1M254 218l-1 2.2M294 124l1.4 2.4M175 233l-4.4 -1.5M120 127l1.5 -1.6M3 327l-1 -1.3M181 261l-5.4 -0.7M37 95l2.4 -3.8M99 118l2.9 -3.6M65 344l-2.1 -1.7M230 58l3.5 1.2M68 203l-0.6 -5.3M121 112l2.6 -2.2M20 244l-1.1 -3.5M150 168l2.5 -4.3M25 282l-1.5 -2.6M166 292l-2.4 -0.5M306 53l2 1.8M162 195l-0.9 -3.9M190 266l-4.8 0M94 87l2.2 -2.0M301 109l2.6 3.9M296 51l2.9 2.4M251 109l3.8 3.3M239 158l1.7 3.2M51 169l0.6 -4.3M354 26l2.4 2.5M317 172l0.3 2.9M180 363l-4.6 -0.2M259 344l-2.2 1.0M83 226l-1.6 -4.5M124 174l0.8 -3.3M192 293l-2.4 0.1M93 156l0.9 -2.5M134 169l1.6 -4.2M125 34l5.1 -2.0M318 132l2 5.0M82 75l1.3 -1.2M78 331l-1.7 -1.3M272 149l1.4 3.2M12 367l-1.1 -1.1M128 299l-3.6 -2.0M129 129l2.1 -2.1M322 239l-1.3 3.2M339 226l-0.8 2.9M199 66l4 0.4M274 150l1.1 2.7M76 203l-0.5 -3.6M123 130l2.1 -2.2M271 66l2.2 1.5M13 164l0.7 -4.7M5 167l0.2 -2.0M4 86l2.6 -4.6M173 82l1.7 -0.2M44 333l-1.6 -1.6M203 99l2.7 0.5M230 54l2 0.7M265 306l-4 2.6M360 136l0.5 1.6M352 282l-2 3.3M83 321l-2.9 -2.3M76 298l-2.8 -2.9M106 158l1.7 -4.4M40 361l-2.5 -2.2M356 72l2.2 3.4M237 14l3.8 1.2M207 106l2.2 0.6M127 125l1.2 -1.1M210 173l1.6 2.8M67 23l1.9 -1.3M323 198l-0.2 2.1M13 312l-3 -4.3M287 354l-2.2 1.3M75 103l3.2 -4.1M216 245l-4.6 2.1M230 126l3.2 2.3M357 202l-0.3 3.1M94 259l-3 -4.1M140 218l-1.7 -2.7M240 215l-1.8 3.2M273 43l3 1.8M346 137l1 3.2M353 304l-1.3 1.8M37 76l2.8 -3.7M241 325l-4 1.5M114 180l0.5 -4.0M274 334l-4.7 2.7M238 227l-3.5 4.1M259 97l3.6 3.0M239 176l0.6 3.0M145 248l-2.6 -1.9M304 353l-1.3 0.9M73 217l-0.9 -3.7M294 64l1.7 1.5M360 11l2 2.0M341 255l-1.6 3.4M27 211l-0.5 -3.5M68 122l1.4 -2.5M262 359l-2.4 1.0M131 86l3.5 -1.9M275 181l0.2 4.4M333 60l1.6 1.9M236 131l3.3 3.1M33 84l2.6 -3.7M373 32l3.4 4.2M38 155l1.2 -5.2M193 57l3.8 0.2M283 216l-1.6 4.8M115 235l-2.8 -4.5M112 70l2.6 -1.6M223 194l-0.5 2.2M77 108l1.8 -2.4M225 115l4.5 2.5M247 284l-4 2.4M133 176l0.9 -3.6M115 49l2.1 -1.1M224 289l-3.1 1.1M144 37l2.8 -0.8M331 355l-3.8 3.2M26 81l2.1 -3.2M295 322l-1.8 1.4M169 207l-2.2 -2.3M359 214l-0.8 4.9M326 149l0.5 1.9M100 233l-1.6 -3.1M311 305l-2.5 2.6M243 124l2.1 1.9M299 202l-0.3 2.0M271 249l-2.8 3.6M33 337l-2.2 -2.3M190 91l5.1 0.3M14 249l-0.7 -2.0M350 87l2.7 4.5M261 15l4.1 1.8M287 281l-3.6 3.7M357 163l0.4 3.4M298 94l3.2 3.9M63 325l-1.3 -1.2M187 94l3.3 0.0M128 265l-2.6 -2.1M98 209l-0.6 -2.6M259 23l3.4 1.5M175 34l4.8 -0.3M367 62l1.6 2.3M218 90l1.6 0.5M42 291l-1.7 -2.4M84 80l3.2 -3.0M335 135l0.8 2.2M40 268l-1.4 -2.6M130 330l-4.3 -1.8M172 29l4.5 -0.4M352 74l2.2 3.2M216 196l-1.1 3.1M298 267l-1.2 1.7M245 57l2.7 1.2M129 190l-0 -5.4M195 335l-3.6 0.2M279 26l2.8 1.6M71 235l-1.5 -3.9M361 28l1.8 2.0M28 110l2.2 -4.4M32 260l-1.9 -4.1M248 233l-1.7 2.2M159 265l-3.1 -1.2M90 98l2.6 -2.7M197 319l-2.4 0.1M243 333l-4.1 1.5M37 334l-2.7 -2.8M165 29l5.1 -0.6M318 289l-1.6 2.0M201 233l-3.6 0.9M210 40l1.9 0.3M49 63l2.3 -2.5M105 155l2.1 -4.9M331 4l1.4 1.1M325 366l-2.3 1.7M49 33l2.3 -2.0M332 358l-3.4 2.9M102 147l1.8 -3.7M83 56l2.1 -1.7M276 232l-1 1.9M231 40l3.4 1.0M12 52l1.8 -2.3M37 135l0.9 -2.6M131 98l4.4 -2.6M231 195l-1.2 5.1M265 169l1 5.1M171 286l-4.7 -0.9M60 45l2.8 -2.4M37 331l-2.8 -3.0M255 82l3.3 2.2M349 193l-0.1 2.1M14 220l-0.7 -4.3M370 238l-0.6 2.0M148 11l2.7 -0.6M183 144l2.1 -0.2M128 266l-3.5 -2.7M122 35l3 -1.2M62 317l-2.4 -2.4M167 17l4 -0.4M352 185l-0 4.2M20 282l-1.1 -1.9M59 308l-2 -2.1M64 30l3.1 -2.4M161 233l-1.6 -1.0M73 154l1.4 -4.3M266 36l3.3 1.8M184 167l5.4 -0.1M250 218l-2.1 4.0M223 330l-4.9 1.2M222 293l-2.9 0.9M282 177l0.3 2.9M253 37l1.8 0.8M81 63l1.5 -1.3M353 169l0.4 4.2M359 230l-0.4 1.5M24 290l-1.5 -2.4M39 281l-1.8 -2.8M353 204l-0.4 3.6M283 342l-3.2 1.9M294 15l2.5 1.6M269 345l-4.3 2.2M154 39l2.1 -0.5M13 305l-0.9 -1.3M185 35l2.8 0M186 62l3.7 0.0M116 26l4.2 -1.8M268 148l2.2 4.8M177 192l-0.7 -2.0M88 24l4.5 -2.7M22 220l-0.4 -2.1M297 52l3.1 2.6M343 131l1.6 4.5M95 90l2.1 -2.0M97 7l3 -1.5M300 149l1.2 3.8M158 109l3.8 -1.3M96 232l-1.4 -3.0M322 173l0.4 5.2M70 330l-3.2 -2.7M147 65l4.4 -1.4M119 334l-1.5 -0.7M187 310l-5.5 -0.1M85 78l2.6 -2.4M4 35l1.1 -1.3M88 172l1 -5.2M127 37l4.2 -1.6M305 67l1.9 1.9M216 82l3 0.9M121 331l-1.6 -0.7M123 335l-2.8 -1.3M110 92l2.9 -2.3M113 81l4.1 -2.8M159 301l-3.7 -1.0M313 10l4 2.9M269 59l2.5 1.6M155 201l-0.8 -2.1M218 57l3.1 0.8M215 332l-4.4 0.8M275 89l3 2.8M205 105l4.3 1.0M144 154l2.8 -3.3M268 247l-1 1.3M342 293l-2.7 3.8M239 113l3.5 2.5M149 79l2 -0.7M144 91l4.4 -1.9M105 253l-2.6 -3.4M98 218l-1.4 -4.3M10 171l0.4 -3.6M71 365l-3.1 -2.1M258 118l1.3 1.3M205 346l-4.3 0.4M203 125l1.5 0.4M36 168l0.5 -3.6M372 86l1.7 3.1M167 160l1.3 -0.9M218 21l4.8 0.9M297 213l-0.7 2.9M164 372l-5.4 -0.8M12 199l-0.2 -3.6M65 218l-0.6 -2.5M351 98l0.9 1.7M314 56l3.1 3.1M356 302l-1.1 1.6M136 27l4.8 -1.4M210 343l-3.9 0.5M110 158l1.9 -4.8M362 172l0.4 4.9M288 293l-1.9 1.8M302 231l-0.8 2.1M278 214l-1.1 3.5" stroke="#2b2b2b" stroke-width="1.5" stroke-linecap="round" fill="none"/><filter id="bl2" x="-10%" y="-10%" width="120%" height="120%"><feGaussianBlur stdDeviation="1.6"/></filter><filter id="bl1" x="-10%" y="-10%" width="120%" height="120%"><feGaussianBlur stdDeviation="0.6"/></filter><g clip-path="url(#fanclip)"><g filter="url(#bl2)"><radialGradient id="gb100" gradientUnits="userSpaceOnUse" cx="187.3" cy="187.3" r="100"><stop offset="0" stop-color="#fff" stop-opacity="1"/><stop offset="0.12" stop-color="#fff" stop-opacity="0.96"/><stop offset="0.22" stop-color="#fff" stop-opacity="0.88"/><stop offset="0.34" stop-color="#fff" stop-opacity="0.76"/><stop offset="0.45" stop-color="#fff" stop-opacity="0.64"/><stop offset="0.65" stop-color="#fff" stop-opacity="0.35"/><stop offset="0.89" stop-color="#fff" stop-opacity="0.1"/><stop offset="1" stop-color="#fff" stop-opacity="0"/></radialGradient><path d="M187.3 187.3L33.2 59.8L42 49.9Z" fill="url(#gb100)"/><path d="M187.3 187.3L40.1 51.9L49.4 42.5Z" fill="url(#gb100)"/><radialGradient id="gb105" gradientUnits="userSpaceOnUse" cx="187.3" cy="187.3" r="105"><stop offset="0" stop-color="#fff" stop-opacity="1"/><stop offset="0.12" stop-color="#fff" stop-opacity="0.96"/><stop offset="0.22" stop-color="#fff" stop-opacity="0.88"/><stop offset="0.34" stop-color="#fff" stop-opacity="0.76"/><stop offset="0.45" stop-color="#fff" stop-opacity="0.64"/><stop offset="0.65" stop-color="#fff" stop-opacity="0.35"/><stop offset="0.89" stop-color="#fff" stop-opacity="0.1"/><stop offset="1" stop-color="#fff" stop-opacity="0"/></radialGradient><path d="M187.3 187.3L47.4 44.4L57.2 35.5Z" fill="url(#gb105)"/><path d="M187.3 187.3L55.1 37.3L65.3 28.9Z" fill="url(#gb105)"/><path d="M187.3 187.3L63.1 30.6L73.8 22.7Z" fill="url(#gb100)"/><path d="M187.3 187.3L71.5 24.3L82.6 17Z" fill="url(#gb105)"/><path d="M187.3 187.3L80.2 18.5L91.6 11.7Z" fill="url(#gb105)"/><radialGradient id="gb110" gradientUnits="userSpaceOnUse" cx="187.3" cy="187.3" r="110"><stop offset="0" stop-color="#fff" stop-opacity="1"/><stop offset="0.12" stop-color="#fff" stop-opacity="0.96"/><stop offset="0.22" stop-color="#fff" stop-opacity="0.88"/><stop offset="0.34" stop-color="#fff" stop-opacity="0.76"/><stop offset="0.45" stop-color="#fff" stop-opacity="0.64"/><stop offset="0.65" stop-color="#fff" stop-opacity="0.35"/><stop offset="0.89" stop-color="#fff" stop-opacity="0.1"/><stop offset="1" stop-color="#fff" stop-opacity="0"/></radialGradient><path d="M187.3 187.3L89.2 13.1L100.9 7Z" fill="url(#gb110)"/><path d="M187.3 187.3L98.4 8.2L110.5 2.7Z" fill="url(#gb110)"/><path d="M187.3 187.3L107.9 3.8L120.3 -1.1Z" fill="url(#gb110)"/><radialGradient id="gb115" gradientUnits="userSpaceOnUse" cx="187.3" cy="187.3" r="115"><stop offset="0" stop-color="#fff" stop-opacity="1"/><stop offset="0.12" stop-color="#fff" stop-opacity="0.96"/><stop offset="0.22" stop-color="#fff" stop-opacity="0.88"/><stop offset="0.34" stop-color="#fff" stop-opacity="0.76"/><stop offset="0.45" stop-color="#fff" stop-opacity="0.64"/><stop offset="0.65" stop-color="#fff" stop-opacity="0.35"/><stop offset="0.89" stop-color="#fff" stop-opacity="0.1"/><stop offset="1" stop-color="#fff" stop-opacity="0"/></radialGradient><path d="M187.3 187.3L117.6 -0.1L130.2 -4.3Z" fill="url(#gb115)"/><path d="M187.3 187.3L127.5 -3.5L140.3 -7.1Z" fill="url(#gb115)"/><path d="M187.3 187.3L137.6 -6.4L150.6 -9.3Z" fill="url(#gb115)"/><path d="M187.3 187.3L147.8 -8.7L160.9 -10.9Z" fill="url(#gb115)"/><path d="M187.3 187.3L158.1 -10.5L171.3 -12Z" fill="url(#gb115)"/><path d="M187.3 187.3L168.5 -11.8L181.8 -12.6Z" fill="url(#gb110)"/><path d="M187.3 187.3L179 -12.5L192.2 -12.6Z" fill="url(#gb115)"/><path d="M187.3 187.3L189.4 -12.7L202.7 -12.1Z" fill="url(#gb115)"/><path d="M187.3 187.3L199.9 -12.3L213.1 -11Z" fill="url(#gb115)"/><path d="M187.3 187.3L210.3 -11.3L223.5 -9.4Z" fill="url(#gb115)"/><path d="M187.3 187.3L220.7 -9.9L233.7 -7.2Z" fill="url(#gb115)"/><path d="M187.3 187.3L231 -7.9L243.8 -4.5Z" fill="url(#gb115)"/><path d="M187.3 187.3L241.1 -5.3L253.8 -1.3Z" fill="url(#gb115)"/><path d="M187.3 187.3L251.1 -2.2L263.6 2.4Z" fill="url(#gb110)"/><path d="M187.3 187.3L261 1.4L273.1 6.7Z" fill="url(#gb110)"/><path d="M187.3 187.3L270.6 5.5L282.5 11.4Z" fill="url(#gb115)"/><path d="M187.3 187.3L280 10.1L291.6 16.6Z" fill="url(#gb115)"/><path d="M187.3 187.3L289.2 15.2L300.3 22.3Z" fill="url(#gb110)"/><path d="M187.3 187.3L298 20.7L308.8 28.4Z" fill="url(#gb110)"/><path d="M187.3 187.3L306.6 26.8L317 35Z" fill="url(#gb110)"/><path d="M187.3 187.3L314.8 33.2L324.8 42Z" fill="url(#gb110)"/><path d="M187.3 187.3L322.7 40.1L332.2 49.4Z" fill="url(#gb110)"/><path d="M187.3 187.3L330.2 47.4L339.2 57.2Z" fill="url(#gb110)"/><path d="M187.3 187.3L337.4 55.1L345.8 65.3Z" fill="url(#gb110)"/><path d="M187.3 187.3L344.1 63.1L352 73.8Z" fill="url(#gb115)"/><path d="M187.3 187.3L350.4 71.5L357.7 82.5Z" fill="url(#gb110)"/><path d="M187.3 187.3L356.2 80.2L362.9 91.6Z" fill="url(#gb115)"/><radialGradient id="gb120" gradientUnits="userSpaceOnUse" cx="187.3" cy="187.3" r="120"><stop offset="0" stop-color="#fff" stop-opacity="1"/><stop offset="0.12" stop-color="#fff" stop-opacity="0.96"/><stop offset="0.22" stop-color="#fff" stop-opacity="0.88"/><stop offset="0.34" stop-color="#fff" stop-opacity="0.76"/><stop offset="0.45" stop-color="#fff" stop-opacity="0.64"/><stop offset="0.65" stop-color="#fff" stop-opacity="0.35"/><stop offset="0.89" stop-color="#fff" stop-opacity="0.1"/><stop offset="1" stop-color="#fff" stop-opacity="0"/></radialGradient><path d="M187.3 187.3L361.6 89.1L367.7 100.9Z" fill="url(#gb120)"/><radialGradient id="gb125" gradientUnits="userSpaceOnUse" cx="187.3" cy="187.3" r="125"><stop offset="0" stop-color="#fff" stop-opacity="1"/><stop offset="0.12" stop-color="#fff" stop-opacity="0.96"/><stop offset="0.22" stop-color="#fff" stop-opacity="0.88"/><stop offset="0.34" stop-color="#fff" stop-opacity="0.76"/><stop offset="0.45" stop-color="#fff" stop-opacity="0.64"/><stop offset="0.65" stop-color="#fff" stop-opacity="0.35"/><stop offset="0.89" stop-color="#fff" stop-opacity="0.1"/><stop offset="1" stop-color="#fff" stop-opacity="0"/></radialGradient><path d="M187.3 187.3L366.5 98.4L372 110.5Z" fill="url(#gb125)"/><path d="M187.3 187.3L370.9 107.9L375.8 120.2Z" fill="url(#gb120)"/><path d="M187.3 187.3L374.8 117.6L379 130.2Z" fill="url(#gb125)"/><path d="M187.3 187.3L378.2 127.5L381.7 140.3Z" fill="url(#gb125)"/><path d="M187.3 187.3L381.1 137.6L383.9 150.5Z" fill="url(#gb125)"/><radialGradient id="gb130" gradientUnits="userSpaceOnUse" cx="187.3" cy="187.3" r="130"><stop offset="0" stop-color="#fff" stop-opacity="1"/><stop offset="0.12" stop-color="#fff" stop-opacity="0.96"/><stop offset="0.22" stop-color="#fff" stop-opacity="0.88"/><stop offset="0.34" stop-color="#fff" stop-opacity="0.76"/><stop offset="0.45" stop-color="#fff" stop-opacity="0.64"/><stop offset="0.65" stop-color="#fff" stop-opacity="0.35"/><stop offset="0.89" stop-color="#fff" stop-opacity="0.1"/><stop offset="1" stop-color="#fff" stop-opacity="0"/></radialGradient><path d="M187.3 187.3L383.4 147.8L385.6 160.9Z" fill="url(#gb130)"/><radialGradient id="gb135" gradientUnits="userSpaceOnUse" cx="187.3" cy="187.3" r="135"><stop offset="0" stop-color="#fff" stop-opacity="1"/><stop offset="0.12" stop-color="#fff" stop-opacity="0.96"/><stop offset="0.22" stop-color="#fff" stop-opacity="0.88"/><stop offset="0.34" stop-color="#fff" stop-opacity="0.76"/><stop offset="0.45" stop-color="#fff" stop-opacity="0.64"/><stop offset="0.65" stop-color="#fff" stop-opacity="0.35"/><stop offset="0.89" stop-color="#fff" stop-opacity="0.1"/><stop offset="1" stop-color="#fff" stop-opacity="0"/></radialGradient><path d="M187.3 187.3L385.2 158.1L386.7 171.3Z" fill="url(#gb135)"/><path d="M187.3 187.3L386.5 168.5L387.3 181.7Z" fill="url(#gb135)"/><radialGradient id="gb140" gradientUnits="userSpaceOnUse" cx="187.3" cy="187.3" r="140"><stop offset="0" stop-color="#fff" stop-opacity="1"/><stop offset="0.12" stop-color="#fff" stop-opacity="0.96"/><stop offset="0.22" stop-color="#fff" stop-opacity="0.88"/><stop offset="0.34" stop-color="#fff" stop-opacity="0.76"/><stop offset="0.45" stop-color="#fff" stop-opacity="0.64"/><stop offset="0.65" stop-color="#fff" stop-opacity="0.35"/><stop offset="0.89" stop-color="#fff" stop-opacity="0.1"/><stop offset="1" stop-color="#fff" stop-opacity="0"/></radialGradient><path d="M187.3 187.3L387.2 178.9L387.3 192.2Z" fill="url(#gb140)"/><path d="M187.3 187.3L387.3 189.4L386.8 202.7Z" fill="url(#gb135)"/><path d="M187.3 187.3L387 199.9L385.7 213.1Z" fill="url(#gb140)"/><path d="M187.3 187.3L386 210.3L384.1 223.4Z" fill="url(#gb135)"/><path d="M187.3 187.3L384.5 220.7L381.9 233.7Z" fill="url(#gb130)"/><path d="M187.3 187.3L382.5 231L379.2 243.8Z" fill="url(#gb130)"/><path d="M187.3 187.3L380 241.1L376 253.8Z" fill="url(#gb130)"/><path d="M187.3 187.3L376.9 251.1L372.3 263.5Z" fill="url(#gb130)"/><path d="M187.3 187.3L373.3 260.9L368 273.1Z" fill="url(#gb125)"/><path d="M187.3 187.3L369.2 270.6L363.3 282.4Z" fill="url(#gb130)"/><path d="M187.3 187.3L364.6 280L358.1 291.5Z" fill="url(#gb125)"/><path d="M187.3 187.3L359.5 289.1L352.4 300.3Z" fill="url(#gb125)"/><path d="M187.3 187.3L353.9 298L346.2 308.8Z" fill="url(#gb115)"/><path d="M187.3 187.3L347.9 306.6L339.7 316.9Z" fill="url(#gb120)"/><path d="M187.3 187.3L341.5 314.8L332.7 324.7Z" fill="url(#gb120)"/><path d="M187.3 187.3L334.6 322.7L325.3 332.2Z" fill="url(#gb115)"/><path d="M187.3 187.3L327.3 330.2L317.5 339.2Z" fill="url(#gb115)"/><path d="M187.3 187.3L319.6 337.3L309.4 345.8Z" fill="url(#gb115)"/><path d="M187.3 187.3L311.6 344.1L300.9 352Z" fill="url(#gb120)"/><path d="M187.3 187.3L303.2 350.4L292.1 357.7Z" fill="url(#gb115)"/><path d="M187.3 187.3L294.5 356.2L283.1 362.9Z" fill="url(#gb115)"/><path d="M187.3 187.3L285.5 361.6L273.8 367.7Z" fill="url(#gb110)"/><path d="M187.3 187.3L276.3 366.5L264.2 372Z" fill="url(#gb110)"/><path d="M187.3 187.3L266.8 370.9L254.4 375.7Z" fill="url(#gb110)"/><path d="M187.3 187.3L257.1 374.8L244.5 379Z" fill="url(#gb110)"/><path d="M187.3 187.3L247.2 378.2L234.4 381.7Z" fill="url(#gb110)"/><path d="M187.3 187.3L237.1 381L224.1 383.9Z" fill="url(#gb110)"/><path d="M187.3 187.3L226.9 383.4L213.8 385.6Z" fill="url(#gb110)"/><path d="M187.3 187.3L216.6 385.2L203.4 386.7Z" fill="url(#gb110)"/><path d="M187.3 187.3L206.2 386.4L192.9 387.2Z" fill="url(#gb110)"/><path d="M187.3 187.3L195.7 387.1L182.5 387.3Z" fill="url(#gb110)"/><path d="M187.3 187.3L185.3 387.3L172 386.7Z" fill="url(#gb110)"/><path d="M187.3 187.3L174.8 386.9L161.6 385.7Z" fill="url(#gb105)"/><path d="M187.3 187.3L164.4 386L151.2 384Z" fill="url(#gb110)"/><path d="M187.3 187.3L154 384.5L141 381.9Z" fill="url(#gb105)"/><path d="M187.3 187.3L143.7 382.5L130.9 379.2Z" fill="url(#gb110)"/><path d="M187.3 187.3L133.6 380L120.9 376Z" fill="url(#gb110)"/><path d="M187.3 187.3L123.6 376.9L111.1 372.2Z" fill="url(#gb110)"/><path d="M187.3 187.3L113.7 373.3L101.6 368Z" fill="url(#gb110)"/><path d="M187.3 187.3L104.1 369.2L92.2 363.3Z" fill="url(#gb110)"/><path d="M187.3 187.3L94.7 364.6L83.1 358Z" fill="url(#gb105)"/><path d="M187.3 187.3L85.5 359.5L74.4 352.3Z" fill="url(#gb105)"/><path d="M187.3 187.3L26.4 306L18.9 295.1Z" fill="url(#gb125)"/><path d="M187.3 187.3L20.4 297.4L13.5 286.1Z" fill="url(#gb120)"/><path d="M187.3 187.3L14.8 288.5L8.5 276.9Z" fill="url(#gb125)"/><path d="M187.3 187.3L9.8 279.4L4.1 267.4Z" fill="url(#gb120)"/><path d="M187.3 187.3L5.2 269.9L0.1 257.7Z" fill="url(#gb120)"/><path d="M187.3 187.3L1.1 260.3L-3.3 247.8Z" fill="url(#gb125)"/><path d="M187.3 187.3L-2.4 250.5L-6.2 237.7Z" fill="url(#gb115)"/><path d="M187.3 187.3L-5.5 240.4L-8.6 227.5Z" fill="url(#gb110)"/><path d="M187.3 187.3L-8 230.3L-10.4 217.2Z" fill="url(#gb110)"/><path d="M187.3 187.3L-10 220L-11.7 206.8Z" fill="url(#gb110)"/><path d="M187.3 187.3L-11.4 209.6L-12.4 196.4Z" fill="url(#gb105)"/><radialGradient id="gb95" gradientUnits="userSpaceOnUse" cx="187.3" cy="187.3" r="95"><stop offset="0" stop-color="#fff" stop-opacity="1"/><stop offset="0.12" stop-color="#fff" stop-opacity="0.96"/><stop offset="0.22" stop-color="#fff" stop-opacity="0.88"/><stop offset="0.34" stop-color="#fff" stop-opacity="0.76"/><stop offset="0.45" stop-color="#fff" stop-opacity="0.64"/><stop offset="0.65" stop-color="#fff" stop-opacity="0.35"/><stop offset="0.89" stop-color="#fff" stop-opacity="0.1"/><stop offset="1" stop-color="#fff" stop-opacity="0"/></radialGradient><path d="M187.3 187.3L-12.3 199.2L-12.6 185.9Z" fill="url(#gb95)"/><radialGradient id="gb90" gradientUnits="userSpaceOnUse" cx="187.3" cy="187.3" r="90"><stop offset="0" stop-color="#fff" stop-opacity="1"/><stop offset="0.12" stop-color="#fff" stop-opacity="0.96"/><stop offset="0.22" stop-color="#fff" stop-opacity="0.88"/><stop offset="0.34" stop-color="#fff" stop-opacity="0.76"/><stop offset="0.45" stop-color="#fff" stop-opacity="0.64"/><stop offset="0.65" stop-color="#fff" stop-opacity="0.35"/><stop offset="0.89" stop-color="#fff" stop-opacity="0.1"/><stop offset="1" stop-color="#fff" stop-opacity="0"/></radialGradient><path d="M187.3 187.3L-12.6 188.7L-12.3 175.5Z" fill="url(#gb90)"/></g><g filter="url(#bl1)"><path d="M187.3 187.3L41.1 50.9L50.9 41.1Z" fill="url(#streakw)" opacity="0.19"/><path d="M187.3 187.3L50.9 41.1L57.6 35.1Z" fill="url(#streak)" opacity="0.15"/><path d="M187.3 187.3L57.6 35.1L68.3 26.6Z" fill="url(#streakw)" opacity="0.16"/><path d="M187.3 187.3L68.3 26.6L73.3 23Z" fill="url(#streak)" opacity="0.12"/><path d="M187.3 187.3L73.3 23L83.7 16.3Z" fill="url(#streakw)" opacity="0.16"/><path d="M187.3 187.3L83.7 16.3L89.4 13Z" fill="url(#streak)" opacity="0.13"/><path d="M187.3 187.3L89.4 13L101.2 6.8Z" fill="url(#streak)" opacity="0.22"/><path d="M187.3 187.3L101.2 6.8L110.9 2.5Z" fill="url(#streak)" opacity="0.23"/><path d="M187.3 187.3L110.9 2.5L116.2 0.4Z" fill="url(#streak)" opacity="0.12"/><path d="M187.3 187.3L116.2 0.4L125.6 -2.9Z" fill="url(#streak)" opacity="0.14"/><path d="M187.3 187.3L125.6 -2.9L133.9 -5.4Z" fill="url(#streakw)" opacity="0.17"/><path d="M187.3 187.3L133.9 -5.4L139.7 -6.9Z" fill="url(#streakw)" opacity="0.17"/><path d="M187.3 187.3L139.7 -6.9L146.9 -8.6Z" fill="url(#streak)" opacity="0.14"/><path d="M187.3 187.3L146.9 -8.6L153.3 -9.7Z" fill="url(#streakw)" opacity="0.13"/><path d="M187.3 187.3L153.3 -9.7L161.6 -11Z" fill="url(#streak)" opacity="0.20"/><path d="M187.3 187.3L161.6 -11L171.2 -12Z" fill="url(#streakw)" opacity="0.08"/><path d="M187.3 187.3L171.2 -12L181.3 -12.6Z" fill="url(#streakw)" opacity="0.11"/><path d="M187.3 187.3L181.3 -12.6L195 -12.5Z" fill="url(#streak)" opacity="0.09"/><path d="M187.3 187.3L195 -12.5L203.7 -12Z" fill="url(#streakw)" opacity="0.12"/><path d="M187.3 187.3L203.7 -12L211.2 -11.3Z" fill="url(#streakw)" opacity="0.15"/><path d="M187.3 187.3L211.2 -11.3L215.6 -10.7Z" fill="url(#streak)" opacity="0.15"/><path d="M187.3 187.3L215.6 -10.7L222.1 -9.6Z" fill="url(#streak)" opacity="0.10"/><path d="M187.3 187.3L222.1 -9.6L233.4 -7.3Z" fill="url(#streak)" opacity="0.17"/><path d="M187.3 187.3L233.4 -7.3L246.4 -3.8Z" fill="url(#streak)" opacity="0.17"/><path d="M187.3 187.3L246.4 -3.8L252.6 -1.7Z" fill="url(#streakw)" opacity="0.11"/><path d="M187.3 187.3L252.6 -1.7L263.2 2.3Z" fill="url(#streak)" opacity="0.15"/><path d="M187.3 187.3L263.2 2.3L269.8 5.1Z" fill="url(#streakw)" opacity="0.20"/><path d="M187.3 187.3L269.8 5.1L277.1 8.6Z" fill="url(#streak)" opacity="0.18"/><path d="M187.3 187.3L277.1 8.6L288.5 14.8Z" fill="url(#streakw)" opacity="0.18"/><path d="M187.3 187.3L288.5 14.8L292.4 17.2Z" fill="url(#streak)" opacity="0.18"/><path d="M187.3 187.3L292.4 17.2L299.2 21.5Z" fill="url(#streak)" opacity="0.17"/><path d="M187.3 187.3L299.2 21.5L305.6 26.1Z" fill="url(#streakw)" opacity="0.14"/><path d="M187.3 187.3L305.6 26.1L310.3 29.6Z" fill="url(#streak)" opacity="0.22"/><path d="M187.3 187.3L310.3 29.6L313.9 32.4Z" fill="url(#streakw)" opacity="0.19"/><path d="M187.3 187.3L313.9 32.4L321.1 38.6Z" fill="url(#streak)" opacity="0.16"/><path d="M187.3 187.3L321.1 38.6L325.6 42.8Z" fill="url(#streakw)" opacity="0.14"/><path d="M187.3 187.3L325.6 42.8L332 49.2Z" fill="url(#streakw)" opacity="0.13"/><path d="M187.3 187.3L332 49.2L336.2 53.8Z" fill="url(#streak)" opacity="0.11"/><path d="M187.3 187.3L336.2 53.8L345.1 64.4Z" fill="url(#streakw)" opacity="0.22"/><path d="M187.3 187.3L345.1 64.4L350.4 71.5Z" fill="url(#streakw)" opacity="0.10"/><path d="M187.3 187.3L350.4 71.5L355.4 78.9Z" fill="url(#streak)" opacity="0.21"/><path d="M187.3 187.3L355.4 78.9L362.3 90.4Z" fill="url(#streak)" opacity="0.21"/><path d="M187.3 187.3L362.3 90.4L366.2 97.8Z" fill="url(#streakw)" opacity="0.15"/><path d="M187.3 187.3L366.2 97.8L369 103.5Z" fill="url(#streakw)" opacity="0.14"/><path d="M187.3 187.3L369 103.5L373.2 113.4Z" fill="url(#streak)" opacity="0.13"/><path d="M187.3 187.3L373.2 113.4L376.1 121.1Z" fill="url(#streak)" opacity="0.25"/><path d="M187.3 187.3L376.1 121.1L379 130.2Z" fill="url(#streakw)" opacity="0.11"/><path d="M187.3 187.3L379 130.2L381.7 140.3Z" fill="url(#streak)" opacity="0.10"/><path d="M187.3 187.3L381.7 140.3L383.6 148.9Z" fill="url(#streak)" opacity="0.08"/><path d="M187.3 187.3L383.6 148.9L384.6 154.2Z" fill="url(#streak)" opacity="0.17"/><path d="M187.3 187.3L384.6 154.2L386.3 166.6Z" fill="url(#streakw)" opacity="0.09"/><path d="M187.3 187.3L386.3 166.6L386.7 171.1Z" fill="url(#streakw)" opacity="0.17"/><path d="M187.3 187.3L386.7 171.1L387.2 179.1Z" fill="url(#streak)" opacity="0.12"/><path d="M187.3 187.3L387.2 179.1L387.3 190.7Z" fill="url(#streak)" opacity="0.18"/><path d="M187.3 187.3L387.3 190.7L386.8 202.7Z" fill="url(#streakw)" opacity="0.19"/><path d="M187.3 187.3L386.8 202.7L385.5 214.8Z" fill="url(#streakw)" opacity="0.12"/><path d="M187.3 187.3L385.5 214.8L384.1 223Z" fill="url(#streak)" opacity="0.10"/><path d="M187.3 187.3L384.1 223L381.4 235.8Z" fill="url(#streak)" opacity="0.13"/><path d="M187.3 187.3L381.4 235.8L378.8 245.3Z" fill="url(#streak)" opacity="0.12"/><path d="M187.3 187.3L378.8 245.3L375.1 256.3Z" fill="url(#streak)" opacity="0.20"/><path d="M187.3 187.3L375.1 256.3L372.2 263.6Z" fill="url(#streak)" opacity="0.23"/><path d="M187.3 187.3L372.2 263.6L367.5 274.1Z" fill="url(#streakw)" opacity="0.15"/><path d="M187.3 187.3L367.5 274.1L361.6 285.5Z" fill="url(#streakw)" opacity="0.19"/><path d="M187.3 187.3L361.6 285.5L354.5 297.2Z" fill="url(#streakw)" opacity="0.21"/><path d="M187.3 187.3L354.5 297.2L352 300.8Z" fill="url(#streak)" opacity="0.10"/><path d="M187.3 187.3L352 300.8L346.9 307.9Z" fill="url(#streak)" opacity="0.12"/><path d="M187.3 187.3L346.9 307.9L339.9 316.7Z" fill="url(#streakw)" opacity="0.18"/><path d="M187.3 187.3L339.9 316.7L331.4 326.1Z" fill="url(#streak)" opacity="0.14"/><path d="M187.3 187.3L331.4 326.1L323.8 333.5Z" fill="url(#streak)" opacity="0.24"/><path d="M187.3 187.3L323.8 333.5L314.8 341.4Z" fill="url(#streak)" opacity="0.25"/><path d="M187.3 187.3L314.8 341.4L307.5 347.2Z" fill="url(#streak)" opacity="0.12"/><path d="M187.3 187.3L307.5 347.2L301.4 351.6Z" fill="url(#streakw)" opacity="0.08"/><path d="M187.3 187.3L301.4 351.6L289.7 359.1Z" fill="url(#streak)" opacity="0.24"/><path d="M187.3 187.3L289.7 359.1L285.7 361.5Z" fill="url(#streak)" opacity="0.16"/><path d="M187.3 187.3L285.7 361.5L274.3 367.4Z" fill="url(#streakw)" opacity="0.22"/><path d="M187.3 187.3L274.3 367.4L261.7 373Z" fill="url(#streak)" opacity="0.20"/><path d="M187.3 187.3L261.7 373L248.9 377.6Z" fill="url(#streakw)" opacity="0.13"/><path d="M187.3 187.3L248.9 377.6L243.2 379.4Z" fill="url(#streak)" opacity="0.11"/><path d="M187.3 187.3L243.2 379.4L233.4 382Z" fill="url(#streakw)" opacity="0.18"/><path d="M187.3 187.3L233.4 382L220 384.6Z" fill="url(#streakw)" opacity="0.12"/><path d="M187.3 187.3L220 384.6L211 385.9Z" fill="url(#streak)" opacity="0.22"/><path d="M187.3 187.3L211 385.9L199.2 387Z" fill="url(#streakw)" opacity="0.12"/><path d="M187.3 187.3L199.2 387L192.6 387.3Z" fill="url(#streakw)" opacity="0.08"/><path d="M187.3 187.3L192.6 387.3L183.7 387.3Z" fill="url(#streakw)" opacity="0.14"/><path d="M187.3 187.3L183.7 387.3L176.6 387Z" fill="url(#streak)" opacity="0.17"/><path d="M187.3 187.3L176.6 387L171 386.7Z" fill="url(#streakw)" opacity="0.09"/><path d="M187.3 187.3L171 386.7L163.8 385.9Z" fill="url(#streak)" opacity="0.12"/><path d="M187.3 187.3L163.8 385.9L154.8 384.7Z" fill="url(#streakw)" opacity="0.13"/><path d="M187.3 187.3L154.8 384.7L143.6 382.5Z" fill="url(#streakw)" opacity="0.17"/><path d="M187.3 187.3L143.6 382.5L134.5 380.2Z" fill="url(#streakw)" opacity="0.12"/><path d="M187.3 187.3L134.5 380.2L128.6 378.5Z" fill="url(#streak)" opacity="0.11"/><path d="M187.3 187.3L128.6 378.5L117 374.5Z" fill="url(#streakw)" opacity="0.19"/><path d="M187.3 187.3L117 374.5L109 371.4Z" fill="url(#streak)" opacity="0.20"/><path d="M187.3 187.3L109 371.4L97.7 366.1Z" fill="url(#streak)" opacity="0.12"/><path d="M187.3 187.3L97.7 366.1L92.1 363.2Z" fill="url(#streak)" opacity="0.24"/><path d="M187.3 187.3L92.1 363.2L81.9 357.3Z" fill="url(#streakw)" opacity="0.21"/><path d="M187.3 187.3L81.9 357.3L74.7 352.5Z" fill="url(#streakw)" opacity="0.18"/><path d="M187.3 187.3L19.6 296.3L15.5 289.6Z" fill="url(#streakw)" opacity="0.14"/><path d="M187.3 187.3L15.5 289.6L10.6 280.9Z" fill="url(#streakw)" opacity="0.11"/><path d="M187.3 187.3L10.6 280.9L5.5 270.6Z" fill="url(#streakw)" opacity="0.16"/><path d="M187.3 187.3L5.5 270.6L0.3 258.1Z" fill="url(#streakw)" opacity="0.13"/><path d="M187.3 187.3L0.3 258.1L-4.2 244.9Z" fill="url(#streakw)" opacity="0.17"/><path d="M187.3 187.3L-4.2 244.9L-6 238.3Z" fill="url(#streak)" opacity="0.08"/><path d="M187.3 187.3L-6 238.3L-8 230.3Z" fill="url(#streak)" opacity="0.12"/><path d="M187.3 187.3L-8 230.3L-10 220Z" fill="url(#streakw)" opacity="0.10"/><path d="M187.3 187.3L-10 220L-11.4 209.4Z" fill="url(#streak)" opacity="0.15"/><path d="M187.3 187.3L-11.4 209.4L-12.3 198.9Z" fill="url(#streak)" opacity="0.12"/><path d="M187.3 187.3L-12.3 198.9L-12.6 187.9Z" fill="url(#streak)" opacity="0.17"/><path d="M187.3 187.3L-12.6 187.9L-12.6 183Z" fill="url(#streakw)" opacity="0.09"/></g><radialGradient id="nmg" gradientUnits="userSpaceOnUse" cx="187.3" cy="187.3" r="130"><stop offset="0.25" stop-color="#000"/><stop offset="0.6" stop-color="#fff"/></radialGradient><mask id="nm"><rect width="374.7" height="374.6" fill="url(#nmg)"/></mask><rect width="374.7" height="374.6" filter="url(#noised)" opacity="0.55" mask="url(#nm)"/></g><linearGradient id="tl0" gradientUnits="userSpaceOnUse" x1="182.8" y1="185.3" x2="102.9" y2="150.8"><stop offset="0" stop-color="#f0f0f0"/><stop offset="1" stop-color="#707070"/></linearGradient><path d="M187.3 187.3L102.4 152.1L103.5 149.5Z" fill="url(#tl0)" filter="url(#bl1)"/><line x1="182.8" y1="185.3" x2="102.9" y2="150.8" stroke="url(#tl0)" stroke-width="1.1"/><linearGradient id="tl1" gradientUnits="userSpaceOnUse" x1="184.5" y1="191.5" x2="150.2" y2="241.8"><stop offset="0" stop-color="#f4f4f4"/><stop offset="1" stop-color="#a0a0a0"/></linearGradient><path d="M187.3 187.3L150.7 242.2L149.6 241.5Z" fill="url(#tl1)" filter="url(#bl1)"/><line x1="184.5" y1="191.5" x2="150.2" y2="241.8" stroke="url(#tl1)" stroke-width="1.1"/><path d="M177.2 162.7h1v1h-1zM182.2 162.7h1v1h-1zM186.2 162.7h1v1h-1zM176.2 163.7h3v1h-3zM181.2 163.7h2v1h-2zM185.2 163.7h2v1h-2zM190.2 163.7h1v1h-1zM194.2 163.7h1v1h-1zM176.2 164.7h3v1h-3zM181.2 164.7h1v1h-1zM185.2 164.7h2v1h-2zM189.2 164.7h1v1h-1zM193.2 164.7h1v1h-1zM177.2 165.7h2v1h-2zM181.2 165.7h1v1h-1zM186.2 165.7h1v1h-1zM193.2 165.7h1v1h-1zM177.2 166.7h3v1h-3zM186.2 166.7h1v1h-1zM192.2 166.7h1v1h-1zM197.2 166.7h1v1h-1zM177.2 167.7h3v1h-3zM186.2 167.7h1v1h-1zM192.2 167.7h1v1h-1zM196.2 167.7h1v1h-1zM186.2 168.7h1v1h-1zM191.2 168.7h2v1h-2zM177.2 169.7h1v1h-1zM186.2 169.7h1v1h-1zM191.2 169.7h1v1h-1zM195.2 169.7h1v1h-1zM176.2 170.7h3v1h-3zM191.2 170.7h1v1h-1zM194.2 170.7h1v1h-1zM176.2 171.7h3v1h-3zM194.2 171.7h1v1h-1zM177.2 172.7h3v1h-3zM193.2 172.7h1v1h-1zM179.2 173.7h1v1h-1zM176.2 174.7h1v1h-1zM175.2 175.7h3v1h-3zM201.2 175.7h1v1h-1zM175.2 176.7h4v1h-4zM200.2 176.7h1v1h-1zM176.2 177.7h3v1h-3zM177.2 178.7h3v1h-3zM177.2 179.7h4v1h-4zM202.2 179.7h1v1h-1zM178.2 180.7h3v1h-3zM179.2 181.7h3v1h-3zM208.2 181.7h2v1h-2zM179.2 182.7h1v1h-1zM208.2 183.7h3v1h-3zM204.2 184.7h6v1h-6zM171.2 185.7h3v1h-3zM204.2 185.7h2v1h-2zM170.2 186.7h5v1h-5zM172.2 187.7h2v1h-2zM173.2 188.7h3v1h-3zM172.2 189.7h1v1h-1zM201.2 189.7h6v1h-6zM172.2 190.7h1v1h-1zM174.2 190.7h2v1h-2zM203.2 190.7h9v1h-9zM171.2 191.7h5v1h-5zM205.2 191.7h6v1h-6zM171.2 192.7h1v1h-1zM174.2 192.7h3v1h-3zM179.2 192.7h2v1h-2zM174.2 193.7h8v1h-8zM200.2 193.7h2v1h-2zM175.2 194.7h2v1h-2zM179.2 194.7h3v1h-3zM201.2 194.7h3v1h-3zM180.2 195.7h3v1h-3zM185.2 195.7h3v1h-3zM203.2 195.7h4v1h-4zM180.2 196.7h9v1h-9zM204.2 196.7h4v1h-4zM22.2 197.7h1v1h-1zM181.2 197.7h2v1h-2zM186.2 197.7h3v1h-3zM193.2 197.7h1v1h-1zM201.2 197.7h1v1h-1zM206.2 197.7h1v1h-1zM21.2 198.7h2v1h-2zM187.2 198.7h3v1h-3zM194.2 198.7h1v1h-1zM201.2 198.7h3v1h-3zM21.2 199.7h2v1h-2zM187.2 199.7h4v1h-4zM194.2 199.7h3v1h-3zM202.2 199.7h3v1h-3zM21.2 200.7h2v1h-2zM188.2 200.7h3v1h-3zM195.2 200.7h3v1h-3zM203.2 200.7h1v1h-1zM21.2 201.7h1v1h-1zM23.2 201.7h1v1h-1zM189.2 201.7h2v1h-2zM195.2 201.7h4v1h-4zM201.2 201.7h1v1h-1zM21.2 202.7h2v1h-2zM189.2 202.7h3v1h-3zM196.2 202.7h4v1h-4zM202.2 202.7h1v1h-1zM20.2 203.7h1v1h-1zM22.2 203.7h1v1h-1zM189.2 203.7h3v1h-3zM197.2 203.7h7v1h-7zM21.2 204.7h2v1h-2zM190.2 204.7h3v1h-3zM198.2 204.7h2v1h-2zM201.2 204.7h2v1h-2zM21.2 205.7h2v1h-2zM190.2 205.7h3v1h-3zM21.2 206.7h1v1h-1zM23.2 206.7h1v1h-1zM191.2 206.7h2v1h-2zM21.2 207.7h1v1h-1zM173.2 207.7h3v1h-3zM191.2 207.7h3v1h-3zM20.2 208.7h3v1h-3zM172.2 208.7h4v1h-4zM191.2 208.7h3v1h-3zM20.2 209.7h3v1h-3zM174.2 209.7h3v1h-3zM192.2 209.7h3v1h-3zM21.2 210.7h2v1h-2zM174.2 210.7h6v1h-6zM192.2 210.7h3v1h-3zM21.2 211.7h3v1h-3zM175.2 211.7h6v1h-6zM193.2 211.7h3v1h-3zM21.2 212.7h4v1h-4zM178.2 212.7h3v1h-3zM193.2 212.7h2v1h-2zM22.2 213.7h1v1h-1zM179.2 213.7h5v1h-5zM22.2 214.7h3v1h-3zM179.2 214.7h4v1h-4zM21.2 215.7h3v1h-3zM182.2 215.7h2v1h-2zM23.2 216.7h1v1h-1zM29.2 216.7h1v1h-1zM181.2 216.7h3v1h-3zM185.2 216.7h1v1h-1zM22.2 217.7h1v1h-1zM182.2 217.7h5v1h-5zM22.2 218.7h2v1h-2zM182.2 218.7h1v1h-1zM184.2 218.7h3v1h-3zM21.2 219.7h5v1h-5zM185.2 219.7h4v1h-4zM22.2 220.7h3v1h-3zM185.2 220.7h3v1h-3zM189.2 220.7h1v1h-1zM24.2 221.7h2v1h-2zM187.2 221.7h3v1h-3zM23.2 222.7h3v1h-3zM186.2 222.7h1v1h-1zM188.2 222.7h2v1h-2zM24.2 223.7h2v1h-2zM188.2 223.7h3v1h-3zM24.2 224.7h2v1h-2zM188.2 224.7h4v1h-4zM24.2 225.7h3v1h-3zM189.2 225.7h4v1h-4zM24.2 226.7h3v1h-3zM190.2 226.7h4v1h-4zM25.2 227.7h4v1h-4zM48.2 227.7h1v1h-1zM191.2 227.7h2v1h-2zM25.2 228.7h4v1h-4zM44.2 228.7h1v1h-1zM192.2 228.7h1v1h-1zM194.2 228.7h1v1h-1zM27.2 229.7h2v1h-2zM43.2 229.7h3v1h-3zM191.2 229.7h4v1h-4zM27.2 230.7h4v1h-4zM43.2 230.7h3v1h-3zM191.2 230.7h1v1h-1zM193.2 230.7h2v1h-2zM27.2 231.7h5v1h-5zM44.2 231.7h5v1h-5zM193.2 231.7h2v1h-2zM29.2 232.7h3v1h-3zM44.2 232.7h6v1h-6zM193.2 232.7h3v1h-3zM30.2 233.7h2v1h-2zM33.2 233.7h1v1h-1zM47.2 233.7h3v1h-3zM51.2 233.7h1v1h-1zM193.2 233.7h4v1h-4zM30.2 234.7h1v1h-1zM32.2 234.7h1v1h-1zM48.2 234.7h4v1h-4zM194.2 234.7h4v1h-4zM48.2 235.7h1v1h-1zM50.2 235.7h1v1h-1zM195.2 235.7h4v1h-4zM50.2 236.7h2v1h-2zM54.2 236.7h1v1h-1zM196.2 236.7h4v1h-4zM49.2 237.7h1v1h-1zM197.2 237.7h3v1h-3zM201.2 237.7h1v1h-1zM49.2 238.7h1v1h-1zM198.2 238.7h4v1h-4zM48.2 239.7h2v1h-2zM198.2 239.7h1v1h-1zM200.2 239.7h1v1h-1zM48.2 240.7h1v1h-1zM200.2 240.7h4v1h-4zM52.2 241.7h1v1h-1zM199.2 241.7h5v1h-5zM51.2 242.7h1v1h-1zM202.2 242.7h3v1h-3zM48.2 243.7h1v1h-1zM202.2 243.7h3v1h-3zM47.2 244.7h3v1h-3zM203.2 244.7h2v1h-2zM47.2 245.7h2v1h-2zM203.2 245.7h4v1h-4zM41.2 246.7h1v1h-1zM43.2 246.7h2v1h-2zM203.2 246.7h4v1h-4zM40.2 247.7h4v1h-4zM205.2 247.7h2v1h-2zM40.2 248.7h1v1h-1zM205.2 248.7h2v1h-2zM205.2 249.7h3v1h-3zM205.2 250.7h4v1h-4zM206.2 251.7h3v1h-3zM30.2 252.7h1v1h-1zM207.2 252.7h4v1h-4zM29.2 253.7h1v1h-1zM207.2 253.7h4v1h-4zM23.2 254.7h1v1h-1zM25.2 254.7h1v1h-1zM209.2 254.7h2v1h-2zM212.2 254.7h1v1h-1zM22.2 255.7h4v1h-4zM27.2 255.7h2v1h-2zM30.2 255.7h1v1h-1zM32.2 255.7h1v1h-1zM209.2 255.7h3v1h-3zM215.2 255.7h2v1h-2zM223.2 255.7h1v1h-1zM22.2 256.7h1v1h-1zM24.2 256.7h8v1h-8zM33.2 256.7h1v1h-1zM209.2 256.7h1v1h-1zM214.2 256.7h3v1h-3zM222.2 256.7h1v1h-1zM24.2 257.7h1v1h-1zM27.2 257.7h1v1h-1zM29.2 257.7h1v1h-1zM31.2 257.7h4v1h-4zM215.2 257.7h1v1h-1zM30.2 258.7h1v1h-1zM32.2 258.7h4v1h-4zM33.2 259.7h2v1h-2zM214.2 259.7h2v1h-2zM34.2 260.7h3v1h-3zM213.2 260.7h3v1h-3zM33.2 261.7h5v1h-5zM214.2 261.7h3v1h-3zM35.2 262.7h2v1h-2zM214.2 262.7h4v1h-4zM227.2 262.7h1v1h-1zM36.2 263.7h2v1h-2zM215.2 263.7h4v1h-4zM226.2 263.7h1v1h-1zM35.2 264.7h4v1h-4zM216.2 264.7h2v1h-2zM226.2 264.7h1v1h-1zM36.2 265.7h3v1h-3zM40.2 265.7h1v1h-1zM44.2 265.7h1v1h-1zM225.2 265.7h2v1h-2zM37.2 266.7h5v1h-5zM43.2 266.7h2v1h-2zM225.2 266.7h3v1h-3zM37.2 267.7h1v1h-1zM39.2 267.7h3v1h-3zM43.2 267.7h4v1h-4zM225.2 267.7h2v1h-2zM232.2 267.7h2v1h-2zM40.2 268.7h1v1h-1zM43.2 268.7h5v1h-5zM226.2 268.7h1v1h-1zM230.2 268.7h1v1h-1zM232.2 268.7h3v1h-3zM45.2 269.7h3v1h-3zM225.2 269.7h2v1h-2zM232.2 269.7h2v1h-2zM46.2 270.7h4v1h-4zM225.2 270.7h3v1h-3zM46.2 271.7h4v1h-4zM225.2 271.7h2v1h-2zM48.2 272.7h4v1h-4zM55.2 272.7h1v1h-1zM226.2 272.7h1v1h-1zM48.2 273.7h5v1h-5zM54.2 273.7h3v1h-3zM225.2 273.7h2v1h-2zM239.2 273.7h1v1h-1zM50.2 274.7h3v1h-3zM54.2 274.7h2v1h-2zM225.2 274.7h1v1h-1zM238.2 274.7h3v1h-3zM264.2 274.7h1v1h-1zM266.2 274.7h1v1h-1zM51.2 275.7h1v1h-1zM225.2 275.7h2v1h-2zM238.2 275.7h2v1h-2zM263.2 275.7h6v1h-6zM224.2 276.7h2v1h-2zM239.2 276.7h2v1h-2zM248.2 276.7h1v1h-1zM263.2 276.7h1v1h-1zM265.2 276.7h3v1h-3zM269.2 276.7h1v1h-1zM225.2 277.7h3v1h-3zM238.2 277.7h4v1h-4zM260.2 277.7h1v1h-1zM268.2 277.7h1v1h-1zM224.2 278.7h3v1h-3zM239.2 278.7h4v1h-4zM244.2 278.7h1v1h-1zM256.2 278.7h5v1h-5zM229.2 279.7h1v1h-1zM240.2 279.7h7v1h-7zM248.2 279.7h1v1h-1zM257.2 279.7h1v1h-1zM259.2 279.7h1v1h-1zM225.2 280.7h2v1h-2zM241.2 280.7h1v1h-1zM243.2 280.7h5v1h-5zM249.2 280.7h1v1h-1zM255.2 280.7h1v1h-1zM224.2 281.7h3v1h-3zM245.2 281.7h1v1h-1zM247.2 281.7h5v1h-5zM225.2 282.7h4v1h-4zM246.2 282.7h1v1h-1zM248.2 282.7h6v1h-6zM225.2 283.7h3v1h-3zM250.2 283.7h3v1h-3zM227.2 284.7h1v1h-1zM226.2 285.7h2v1h-2zM226.2 286.7h2v1h-2zM226.2 287.7h2v1h-2zM226.2 288.7h1v1h-1z" fill="#e4e4e4" opacity="0.8"/><path d="M178.2 161.7h2v1h-2zM183.2 161.7h2v1h-2zM187.2 161.7h1v1h-1zM178.2 162.7h2v1h-2zM183.2 162.7h2v1h-2zM187.2 162.7h2v1h-2zM191.2 162.7h1v1h-1zM195.2 162.7h2v1h-2zM179.2 163.7h1v1h-1zM183.2 163.7h2v1h-2zM187.2 163.7h2v1h-2zM191.2 163.7h1v1h-1zM195.2 163.7h2v1h-2zM179.2 164.7h2v1h-2zM182.2 164.7h3v1h-3zM187.2 164.7h2v1h-2zM190.2 164.7h2v1h-2zM194.2 164.7h2v1h-2zM199.2 164.7h1v1h-1zM179.2 165.7h2v1h-2zM182.2 165.7h4v1h-4zM187.2 165.7h5v1h-5zM194.2 165.7h2v1h-2zM198.2 165.7h2v1h-2zM180.2 166.7h6v1h-6zM187.2 166.7h5v1h-5zM193.2 166.7h3v1h-3zM198.2 166.7h2v1h-2zM180.2 167.7h6v1h-6zM187.2 167.7h4v1h-4zM193.2 167.7h2v1h-2zM197.2 167.7h2v1h-2zM202.2 167.7h2v1h-2zM178.2 168.7h8v1h-8zM187.2 168.7h4v1h-4zM193.2 168.7h2v1h-2zM196.2 168.7h2v1h-2zM201.2 168.7h3v1h-3zM178.2 169.7h8v1h-8zM187.2 169.7h4v1h-4zM192.2 169.7h2v1h-2zM196.2 169.7h2v1h-2zM200.2 169.7h3v1h-3zM179.2 170.7h12v1h-12zM192.2 170.7h2v1h-2zM195.2 170.7h2v1h-2zM199.2 170.7h3v1h-3zM179.2 171.7h15v1h-15zM195.2 171.7h2v1h-2zM198.2 171.7h4v1h-4zM204.2 171.7h2v1h-2zM180.2 172.7h13v1h-13zM194.2 172.7h2v1h-2zM197.2 172.7h8v1h-8zM177.2 173.7h2v1h-2zM180.2 173.7h24v1h-24zM177.2 174.7h26v1h-26zM178.2 175.7h23v1h-23zM179.2 176.7h21v1h-21zM179.2 177.7h20v1h-20zM202.2 177.7h3v1h-3zM180.2 178.7h18v1h-18zM200.2 178.7h4v1h-4zM181.2 179.7h16v1h-16zM198.2 179.7h4v1h-4zM208.2 179.7h4v1h-4zM181.2 180.7h22v1h-22zM204.2 180.7h7v1h-7zM182.2 181.7h26v1h-26zM210.2 181.7h2v1h-2zM180.2 182.7h32v1h-32zM179.2 183.7h29v1h-29zM172.2 184.7h32v1h-32zM174.2 185.7h30v1h-30zM175.2 186.7h31v1h-31zM174.2 187.7h33v1h-33zM176.2 188.7h37v1h-37zM173.2 189.7h28v1h-28zM207.2 189.7h6v1h-6zM173.2 190.7h1v1h-1zM176.2 190.7h27v1h-27zM176.2 191.7h27v1h-27zM177.2 192.7h2v1h-2zM181.2 192.7h23v1h-23zM182.2 193.7h18v1h-18zM202.2 193.7h4v1h-4zM182.2 194.7h19v1h-19zM204.2 194.7h4v1h-4zM183.2 195.7h2v1h-2zM188.2 195.7h15v1h-15zM207.2 195.7h2v1h-2zM23.2 196.7h1v1h-1zM189.2 196.7h15v1h-15zM23.2 197.7h2v1h-2zM26.2 197.7h2v1h-2zM189.2 197.7h4v1h-4zM194.2 197.7h7v1h-7zM202.2 197.7h4v1h-4zM23.2 198.7h5v1h-5zM190.2 198.7h4v1h-4zM195.2 198.7h6v1h-6zM204.2 198.7h2v1h-2zM23.2 199.7h6v1h-6zM191.2 199.7h3v1h-3zM197.2 199.7h5v1h-5zM23.2 200.7h6v1h-6zM191.2 200.7h4v1h-4zM198.2 200.7h5v1h-5zM22.2 201.7h1v1h-1zM24.2 201.7h5v1h-5zM191.2 201.7h4v1h-4zM199.2 201.7h2v1h-2zM202.2 201.7h2v1h-2zM23.2 202.7h6v1h-6zM192.2 202.7h4v1h-4zM200.2 202.7h2v1h-2zM203.2 202.7h2v1h-2zM23.2 203.7h6v1h-6zM192.2 203.7h4v1h-4zM23.2 204.7h6v1h-6zM177.2 204.7h1v1h-1zM193.2 204.7h3v1h-3zM23.2 205.7h6v1h-6zM175.2 205.7h2v1h-2zM193.2 205.7h2v1h-2zM22.2 206.7h1v1h-1zM24.2 206.7h5v1h-5zM174.2 206.7h5v1h-5zM193.2 206.7h3v1h-3zM22.2 207.7h7v1h-7zM176.2 207.7h4v1h-4zM194.2 207.7h2v1h-2zM23.2 208.7h5v1h-5zM176.2 208.7h6v1h-6zM194.2 208.7h2v1h-2zM23.2 209.7h5v1h-5zM177.2 209.7h6v1h-6zM195.2 209.7h2v1h-2zM23.2 210.7h5v1h-5zM180.2 210.7h4v1h-4zM195.2 210.7h2v1h-2zM24.2 211.7h5v1h-5zM181.2 211.7h5v1h-5zM25.2 212.7h4v1h-4zM181.2 212.7h5v1h-5zM23.2 213.7h6v1h-6zM184.2 213.7h3v1h-3zM25.2 214.7h5v1h-5zM183.2 214.7h6v1h-6zM24.2 215.7h7v1h-7zM184.2 215.7h5v1h-5zM24.2 216.7h5v1h-5zM184.2 216.7h1v1h-1zM186.2 216.7h4v1h-4zM23.2 217.7h8v1h-8zM187.2 217.7h3v1h-3zM24.2 218.7h7v1h-7zM187.2 218.7h4v1h-4zM26.2 219.7h6v1h-6zM189.2 219.7h4v1h-4zM25.2 220.7h7v1h-7zM188.2 220.7h1v1h-1zM190.2 220.7h3v1h-3zM26.2 221.7h6v1h-6zM190.2 221.7h3v1h-3zM26.2 222.7h7v1h-7zM190.2 222.7h5v1h-5zM26.2 223.7h8v1h-8zM191.2 223.7h4v1h-4zM26.2 224.7h8v1h-8zM192.2 224.7h3v1h-3zM27.2 225.7h6v1h-6zM34.2 225.7h1v1h-1zM193.2 225.7h3v1h-3zM27.2 226.7h8v1h-8zM49.2 226.7h1v1h-1zM194.2 226.7h3v1h-3zM29.2 227.7h6v1h-6zM45.2 227.7h3v1h-3zM193.2 227.7h5v1h-5zM29.2 228.7h6v1h-6zM45.2 228.7h7v1h-7zM193.2 228.7h1v1h-1zM195.2 228.7h3v1h-3zM29.2 229.7h6v1h-6zM46.2 229.7h7v1h-7zM195.2 229.7h3v1h-3zM31.2 230.7h3v1h-3zM46.2 230.7h8v1h-8zM195.2 230.7h3v1h-3zM32.2 231.7h2v1h-2zM35.2 231.7h1v1h-1zM49.2 231.7h4v1h-4zM195.2 231.7h4v1h-4zM32.2 232.7h1v1h-1zM34.2 232.7h1v1h-1zM50.2 232.7h5v1h-5zM196.2 232.7h4v1h-4zM50.2 233.7h1v1h-1zM52.2 233.7h3v1h-3zM197.2 233.7h3v1h-3zM52.2 234.7h4v1h-4zM198.2 234.7h5v1h-5zM51.2 235.7h5v1h-5zM199.2 235.7h6v1h-6zM52.2 236.7h2v1h-2zM200.2 236.7h5v1h-5zM50.2 237.7h5v1h-5zM200.2 237.7h1v1h-1zM202.2 237.7h3v1h-3zM50.2 238.7h5v1h-5zM202.2 238.7h3v1h-3zM50.2 239.7h5v1h-5zM201.2 239.7h6v1h-6zM49.2 240.7h5v1h-5zM204.2 240.7h3v1h-3zM48.2 241.7h4v1h-4zM204.2 241.7h3v1h-3zM47.2 242.7h4v1h-4zM205.2 242.7h3v1h-3zM45.2 243.7h3v1h-3zM49.2 243.7h2v1h-2zM205.2 243.7h5v1h-5zM44.2 244.7h3v1h-3zM205.2 244.7h5v1h-5zM42.2 245.7h4v1h-4zM207.2 245.7h3v1h-3zM42.2 246.7h1v1h-1zM207.2 246.7h4v1h-4zM207.2 247.7h5v1h-5zM207.2 248.7h5v1h-5zM208.2 249.7h5v1h-5zM209.2 250.7h4v1h-4zM31.2 251.7h1v1h-1zM34.2 251.7h1v1h-1zM209.2 251.7h5v1h-5zM221.2 251.7h3v1h-3zM31.2 252.7h5v1h-5zM211.2 252.7h3v1h-3zM219.2 252.7h4v1h-4zM24.2 253.7h5v1h-5zM30.2 253.7h6v1h-6zM211.2 253.7h3v1h-3zM218.2 253.7h6v1h-6zM24.2 254.7h1v1h-1zM26.2 254.7h11v1h-11zM211.2 254.7h1v1h-1zM216.2 254.7h7v1h-7zM224.2 254.7h1v1h-1zM26.2 255.7h1v1h-1zM29.2 255.7h1v1h-1zM31.2 255.7h1v1h-1zM33.2 255.7h5v1h-5zM217.2 255.7h6v1h-6zM32.2 256.7h1v1h-1zM34.2 256.7h5v1h-5zM217.2 256.7h5v1h-5zM35.2 257.7h5v1h-5zM216.2 257.7h5v1h-5zM36.2 258.7h5v1h-5zM215.2 258.7h6v1h-6zM35.2 259.7h5v1h-5zM216.2 259.7h5v1h-5zM37.2 260.7h5v1h-5zM216.2 260.7h5v1h-5zM38.2 261.7h6v1h-6zM217.2 261.7h3v1h-3zM228.2 261.7h1v1h-1zM232.2 261.7h2v1h-2zM37.2 262.7h6v1h-6zM44.2 262.7h3v1h-3zM48.2 262.7h2v1h-2zM218.2 262.7h2v1h-2zM228.2 262.7h2v1h-2zM231.2 262.7h3v1h-3zM38.2 263.7h13v1h-13zM227.2 263.7h8v1h-8zM39.2 264.7h14v1h-14zM227.2 264.7h9v1h-9zM39.2 265.7h1v1h-1zM41.2 265.7h3v1h-3zM45.2 265.7h9v1h-9zM227.2 265.7h10v1h-10zM42.2 266.7h1v1h-1zM45.2 266.7h9v1h-9zM228.2 266.7h9v1h-9zM47.2 267.7h9v1h-9zM227.2 267.7h5v1h-5zM234.2 267.7h2v1h-2zM48.2 268.7h8v1h-8zM227.2 268.7h3v1h-3zM231.2 268.7h1v1h-1zM265.2 268.7h3v1h-3zM48.2 269.7h8v1h-8zM227.2 269.7h4v1h-4zM262.2 269.7h5v1h-5zM50.2 270.7h8v1h-8zM228.2 270.7h3v1h-3zM257.2 270.7h11v1h-11zM50.2 271.7h8v1h-8zM227.2 271.7h5v1h-5zM241.2 271.7h4v1h-4zM253.2 271.7h1v1h-1zM255.2 271.7h14v1h-14zM52.2 272.7h3v1h-3zM56.2 272.7h2v1h-2zM227.2 272.7h4v1h-4zM240.2 272.7h6v1h-6zM252.2 272.7h18v1h-18zM53.2 273.7h1v1h-1zM227.2 273.7h4v1h-4zM240.2 273.7h6v1h-6zM251.2 273.7h20v1h-20zM226.2 274.7h5v1h-5zM241.2 274.7h6v1h-6zM250.2 274.7h14v1h-14zM265.2 274.7h1v1h-1zM267.2 274.7h3v1h-3zM271.2 274.7h1v1h-1zM227.2 275.7h4v1h-4zM240.2 275.7h7v1h-7zM249.2 275.7h14v1h-14zM270.2 275.7h1v1h-1zM226.2 276.7h6v1h-6zM241.2 276.7h7v1h-7zM249.2 276.7h13v1h-13zM228.2 277.7h3v1h-3zM242.2 277.7h18v1h-18zM261.2 277.7h1v1h-1zM227.2 278.7h4v1h-4zM243.2 278.7h1v1h-1zM245.2 278.7h11v1h-11zM226.2 279.7h3v1h-3zM247.2 279.7h1v1h-1zM249.2 279.7h8v1h-8zM227.2 280.7h3v1h-3zM248.2 280.7h1v1h-1zM250.2 280.7h5v1h-5zM227.2 281.7h3v1h-3zM252.2 281.7h3v1h-3zM230.2 282.7h1v1h-1zM228.2 283.7h3v1h-3zM228.2 284.7h2v1h-2zM228.2 285.7h1v1h-1zM228.2 286.7h1v1h-1z" fill="#ffff00"/><line x1="245.8" y1="160.7" x2="250.6" y2="159.3" stroke="#ffff00" stroke-width="2.2" stroke-linecap="round"/><line x1="149.6" y1="240.5" x2="146.5" y2="245.5" stroke="#ffff00" stroke-width="2.4" stroke-linecap="round"/><circle cx="187.3" cy="187.3" r="4.8" fill="#6c6c6c"/><circle cx="154.6" cy="73.4" r="1.6" fill="#8a8a8a"/><polyline points="39.2,0 39.2,2.9 36.6,5.8 33.7,8 31.9,10.2 33,14.6 33,19.8 32.2,22 35.2,23.5 36.7,25.7 38.1,29.4 40.3,33.1 42.5,36 47,36.8 49.2,37.5 52.1,34.2 55.1,34.9 58,33.1 61.7,32.3 63.9,27.9 63.2,25 68.3,23.1 68.7,20.2 70.5,16.5 75,15.4 73.1,12.4 74.2,8 72.8,3.6 72.8,0" fill="none" stroke="#fff" stroke-width="1.35" stroke-linejoin="round"/><polyline points="0,105 10,105 12.1,103.6 13.5,100.2 15.6,98.8 20.4,101.2 23.8,103 28.7,107.1 35.6,105 45.2,100.9 57.6,94 67.3,87.8 68.4,81.6 68.7,80.2 70.7,79.5 71.1,75.4 74.2,73.3 72.1,70.5 70,69.2 68,71.2 65.6,67.5 68,65.7 69.4,62.9 71.4,60.2 94.2,58.8 94.9,71.6 103.1,71.6 104.3,65 103.1,60.2 106.6,59.5 109.4,56.7 110.7,59.5 114.2,61.6 119.1,61.6 126.1,64.8 131.1,62.6 137.5,63.3 143.8,65.4 146.3,68.6 151.4,68.3 155.2,66 159,67.9 162.7,66 165.3,62.2 167.8,63.3 172.9,62.2 175.4,58.2 179.2,61.6 183.6,56.9 180.5,55.9 185.5,52.8 189.3,51.5 191.8,52.1 195.6,49 198.1,48.3 195.6,52.1 198.8,54 201.3,52.1 202,48.3 204.2,42 209.7,42.5 211.7,42.5 212.3,45.1 215,44.4 215.6,46.4 217.6,45.8 219.6,48.4 220.9,49 221.5,52.3 222.9,56.3 222.9,61.5 222.2,64.2 218.9,62.9 216.3,63.5 218.3,71.4 224.2,69.4 225.5,67.5 227.5,68.8 230.8,70.8 234,68.8 233.4,64.2 234.7,63.5 236,66.8 245.2,62.2 243.9,55 241.3,55 235.4,57.6 229.4,55 234.7,51 228.8,35.2 240,30.2 249.2,49.7 253.1,49 253.8,51.7 249.2,53.6 250.5,57.6 259.7,53.6 257.7,48.4 255.8,43.1 258.4,41.8 260.4,43.8 265,41.1 262.3,37.9 261,39.2 252.5,29.3 259,22.1 272.9,33.3 278.1,27.3 275.5,25.4 272.2,27.3 261,16 263.9,7.2 270.8,4.9 277.7,7.2 292.1,10.9 293.8,0" fill="none" stroke="#fff" stroke-width="1.35" stroke-linejoin="round"/><polyline points="188.7,38.9 190.6,42.7" fill="none" stroke="#fff" stroke-width="1.6" stroke-linecap="round"/><polyline points="27.2,10.6 28.6,11.2" fill="none" stroke="#fff" stroke-width="1.6" stroke-linecap="round"/></g><clipPath id="fanclipd"><polygon points="187.3,187.3 130,132 129,131 129,128 129,124 133,122 132,120 132,118 134,117 135,117 138,115 139,115 141,116 144,118 145,114 147,117 150,118 151,115 152,116 154,112 153,110 154,108 154,105 155,102 158,101 161,100 162,103 166,104 169,105 170,107 172,109 175,108 176,105 174,101 176,100 178,97 175,96 177,93 178,96 178,98 180,100 180,102 184,102 185,102 186,98 189,100 188,104 190,107 190,105 193,104 193,100 196,99 196,97 198,100 200,98 204,100 206,102 207,104 207,107 209,109 210,111 211,107 213,106 214,103 219,102 220,104 223,106 223,109 224,111 227,109 231,109 234,110 234,112 233,114 233,118 236,120 238,120 239,118 241,114 243,113 246,111 248,109 249,110 252,112 249,113 248,115 247,117 245,120 242,121 241,124 241,127 244,129 247,130 249,129 252,128 254,128 254,129 249,132 248,135 247,138 247,140 245,142 249,141 251,142 254,142 256,144 260,147 261,148 260,151 257,153 257,155 253,158 252,158 254,159 256,163 258,163 260,161 262,162 263,165 266,167 267,168 268,173 270,174 273,174 274,174 276,174 278,175 281,176 284,178 284,182 282,183 279,181 276,183 273,183 270,186 269,185 266,185 267,187 265,190 267,193 264,195 266,197 265,198 263,199 258,197 257,200 254,200 254,199 250,199 248,201 246,199 242,200 245,200 246,204 249,203 249,205 252,206 255,208 258,209 260,209 261,209 264,211 266,211 267,213 265,217 266,218 263,219 260,221 259,220 259,222 261,225 260,229 262,229 262,232 262,232 259,229 257,229 254,227 252,228 248,231 248,234 245,236 242,237 241,239 238,238 237,239 232,239 231,239 230,240 227.4,242.9 223.9,241.1 216,248 214,242.5 209.8,235.2 204.6,229.9 204.6,220.4 200.4,215.2 201.4,204.6 192,192"/></clipPath><g transform="translate(480.1,74.3)" clip-path="url(#pc)"><rect width="374.7" height="374.6" fill="#fff"/><g clip-path="url(#fanclipd)"><g filter="url(#bl1)"><radialGradient id="d0" gradientUnits="userSpaceOnUse" cx="187.3" cy="187.3" r="100"><stop offset="0.1" stop-color="#ff5414"/><stop offset="0.5" stop-color="#ff4718"/><stop offset="0.95" stop-color="#ff380a"/></radialGradient><path d="M187.3 187.3L33.5 59.6L40.6 51.4Z" fill="url(#d0)"/><radialGradient id="d1" gradientUnits="userSpaceOnUse" cx="187.3" cy="187.3" r="100"><stop offset="0.1" stop-color="#ff4a11"/><stop offset="0.5" stop-color="#ff3f08"/><stop offset="0.95" stop-color="#ff2500"/></radialGradient><path d="M187.3 187.3L39.2 53L46.7 45.2Z" fill="url(#d1)"/><radialGradient id="d2" gradientUnits="userSpaceOnUse" cx="187.3" cy="187.3" r="100"><stop offset="0.1" stop-color="#ff3a0a"/><stop offset="0.5" stop-color="#ff4411"/><stop offset="0.95" stop-color="#ff1f06"/></radialGradient><path d="M187.3 187.3L45.2 46.6L53 39.2Z" fill="url(#d2)"/><radialGradient id="d3" gradientUnits="userSpaceOnUse" cx="187.3" cy="187.3" r="100"><stop offset="0.1" stop-color="#ff3b19"/><stop offset="0.5" stop-color="#ff3e0d"/><stop offset="0.95" stop-color="#ff290b"/></radialGradient><path d="M187.3 187.3L51.5 40.6L59.6 33.4Z" fill="url(#d3)"/><radialGradient id="d4" gradientUnits="userSpaceOnUse" cx="187.3" cy="187.3" r="100"><stop offset="0.1" stop-color="#ff4608"/><stop offset="0.5" stop-color="#ff4809"/><stop offset="0.95" stop-color="#ff350c"/></radialGradient><path d="M187.3 187.3L58 34.8L66.4 28Z" fill="url(#d4)"/><radialGradient id="d5" gradientUnits="userSpaceOnUse" cx="187.3" cy="187.3" r="100"><stop offset="0.1" stop-color="#ff4b0b"/><stop offset="0.5" stop-color="#ff420e"/><stop offset="0.95" stop-color="#ff3106"/></radialGradient><path d="M187.3 187.3L64.8 29.3L73.5 22.9Z" fill="url(#d5)"/><radialGradient id="d6" gradientUnits="userSpaceOnUse" cx="187.3" cy="187.3" r="100"><stop offset="0.1" stop-color="#ff4d08"/><stop offset="0.5" stop-color="#ff4417"/><stop offset="0.95" stop-color="#ff2e05"/></radialGradient><path d="M187.3 187.3L71.8 24.1L80.8 18.1Z" fill="url(#d6)"/><radialGradient id="d7" gradientUnits="userSpaceOnUse" cx="187.3" cy="187.3" r="100"><stop offset="0.1" stop-color="#ff4a0b"/><stop offset="0.5" stop-color="#ff4f0c"/><stop offset="0.95" stop-color="#ff2d05"/></radialGradient><path d="M187.3 187.3L79 19.2L88.3 13.6Z" fill="url(#d7)"/><radialGradient id="d8" gradientUnits="userSpaceOnUse" cx="187.3" cy="187.3" r="100"><stop offset="0.1" stop-color="#ff4417"/><stop offset="0.5" stop-color="#ff4f0b"/><stop offset="0.95" stop-color="#ff3d19"/></radialGradient><path d="M187.3 187.3L86.4 14.6L95.9 9.4Z" fill="url(#d8)"/><radialGradient id="d9" gradientUnits="userSpaceOnUse" cx="187.3" cy="187.3" r="100"><stop offset="0.1" stop-color="#ff4f0f"/><stop offset="0.5" stop-color="#ff5516"/><stop offset="0.95" stop-color="#ff3e09"/></radialGradient><path d="M187.3 187.3L94.1 10.4L103.8 5.6Z" fill="url(#d9)"/><radialGradient id="d10" gradientUnits="userSpaceOnUse" cx="187.3" cy="187.3" r="100"><stop offset="0.1" stop-color="#ff5909"/><stop offset="0.5" stop-color="#ff580c"/><stop offset="0.95" stop-color="#ff3d11"/></radialGradient><path d="M187.3 187.3L101.9 6.5L111.8 2.2Z" fill="url(#d10)"/><radialGradient id="d11" gradientUnits="userSpaceOnUse" cx="187.3" cy="187.3" r="100"><stop offset="0.1" stop-color="#ff5015"/><stop offset="0.5" stop-color="#ff6311"/><stop offset="0.95" stop-color="#ff4616"/></radialGradient><path d="M187.3 187.3L109.8 3L119.9 -1Z" fill="url(#d11)"/><radialGradient id="d12" gradientUnits="userSpaceOnUse" cx="187.3" cy="187.3" r="100"><stop offset="0.1" stop-color="#ff4e17"/><stop offset="0.5" stop-color="#ff7823"/><stop offset="0.95" stop-color="#ff5616"/></radialGradient><path d="M187.3 187.3L118 -0.3L128.2 -3.7Z" fill="url(#d12)"/><radialGradient id="d13" gradientUnits="userSpaceOnUse" cx="187.3" cy="187.3" r="100"><stop offset="0.1" stop-color="#ff5c1d"/><stop offset="0.5" stop-color="#ff7b26"/><stop offset="0.95" stop-color="#ff6816"/></radialGradient><path d="M187.3 187.3L126.2 -3.1L136.6 -6.1Z" fill="url(#d13)"/><radialGradient id="d14" gradientUnits="userSpaceOnUse" cx="187.3" cy="187.3" r="100"><stop offset="0.1" stop-color="#ff6211"/><stop offset="0.5" stop-color="#ff8120"/><stop offset="0.95" stop-color="#ff7310"/></radialGradient><path d="M187.3 187.3L134.6 -5.6L145.1 -8.2Z" fill="url(#d14)"/><radialGradient id="d15" gradientUnits="userSpaceOnUse" cx="187.3" cy="187.3" r="100"><stop offset="0.1" stop-color="#ff5d1c"/><stop offset="0.5" stop-color="#ff962c"/><stop offset="0.95" stop-color="#ff811d"/></radialGradient><path d="M187.3 187.3L143 -7.7L153.7 -9.8Z" fill="url(#d15)"/><radialGradient id="d16" gradientUnits="userSpaceOnUse" cx="187.3" cy="187.3" r="100"><stop offset="0.1" stop-color="#ff6014"/><stop offset="0.5" stop-color="#ff9a2e"/><stop offset="0.95" stop-color="#ff8413"/></radialGradient><path d="M187.3 187.3L151.6 -9.5L162.3 -11.1Z" fill="url(#d16)"/><radialGradient id="d17" gradientUnits="userSpaceOnUse" cx="187.3" cy="187.3" r="100"><stop offset="0.1" stop-color="#ff6824"/><stop offset="0.5" stop-color="#ff9a23"/><stop offset="0.95" stop-color="#ff851d"/></radialGradient><path d="M187.3 187.3L160.2 -10.8L171 -12Z" fill="url(#d17)"/><radialGradient id="d18" gradientUnits="userSpaceOnUse" cx="187.3" cy="187.3" r="100"><stop offset="0.1" stop-color="#ff5c11"/><stop offset="0.5" stop-color="#ff9a30"/><stop offset="0.95" stop-color="#ff891e"/></radialGradient><path d="M187.3 187.3L168.9 -11.8L179.7 -12.5Z" fill="url(#d18)"/><radialGradient id="d19" gradientUnits="userSpaceOnUse" cx="187.3" cy="187.3" r="100"><stop offset="0.1" stop-color="#ff6912"/><stop offset="0.5" stop-color="#ffa526"/><stop offset="0.95" stop-color="#ff8417"/></radialGradient><path d="M187.3 187.3L177.6 -12.4L188.4 -12.7Z" fill="url(#d19)"/><radialGradient id="d20" gradientUnits="userSpaceOnUse" cx="187.3" cy="187.3" r="100"><stop offset="0.1" stop-color="#ff6420"/><stop offset="0.5" stop-color="#ffa826"/><stop offset="0.95" stop-color="#ff9529"/></radialGradient><path d="M187.3 187.3L186.3 -12.7L197.1 -12.4Z" fill="url(#d20)"/><radialGradient id="d21" gradientUnits="userSpaceOnUse" cx="187.3" cy="187.3" r="100"><stop offset="0.1" stop-color="#ff7526"/><stop offset="0.5" stop-color="#ff9c2f"/><stop offset="0.95" stop-color="#ff9c1a"/></radialGradient><path d="M187.3 187.3L195 -12.5L205.8 -11.8Z" fill="url(#d21)"/><radialGradient id="d22" gradientUnits="userSpaceOnUse" cx="187.3" cy="187.3" r="100"><stop offset="0.1" stop-color="#ff7628"/><stop offset="0.5" stop-color="#ffa82f"/><stop offset="0.95" stop-color="#ff9325"/></radialGradient><path d="M187.3 187.3L203.7 -12L214.5 -10.8Z" fill="url(#d22)"/><radialGradient id="d23" gradientUnits="userSpaceOnUse" cx="187.3" cy="187.3" r="100"><stop offset="0.1" stop-color="#ff7919"/><stop offset="0.5" stop-color="#ffaf2b"/><stop offset="0.95" stop-color="#ffa824"/></radialGradient><path d="M187.3 187.3L212.4 -11.1L223.1 -9.5Z" fill="url(#d23)"/><radialGradient id="d24" gradientUnits="userSpaceOnUse" cx="187.3" cy="187.3" r="100"><stop offset="0.1" stop-color="#ff7521"/><stop offset="0.5" stop-color="#ffb431"/><stop offset="0.95" stop-color="#ffa12b"/></radialGradient><path d="M187.3 187.3L221 -9.8L231.7 -7.7Z" fill="url(#d24)"/><radialGradient id="d25" gradientUnits="userSpaceOnUse" cx="187.3" cy="187.3" r="100"><stop offset="0.1" stop-color="#ff712a"/><stop offset="0.5" stop-color="#ffa42a"/><stop offset="0.95" stop-color="#ffaa28"/></radialGradient><path d="M187.3 187.3L229.6 -8.2L240.1 -5.6Z" fill="url(#d25)"/><radialGradient id="d26" gradientUnits="userSpaceOnUse" cx="187.3" cy="187.3" r="100"><stop offset="0.1" stop-color="#ff6717"/><stop offset="0.5" stop-color="#ffaa36"/><stop offset="0.95" stop-color="#ffa12d"/></radialGradient><path d="M187.3 187.3L238.1 -6.1L248.5 -3.1Z" fill="url(#d26)"/><radialGradient id="d27" gradientUnits="userSpaceOnUse" cx="187.3" cy="187.3" r="100"><stop offset="0.1" stop-color="#ff7125"/><stop offset="0.5" stop-color="#ffb52b"/><stop offset="0.95" stop-color="#ff9f22"/></radialGradient><path d="M187.3 187.3L246.5 -3.7L256.7 -0.3Z" fill="url(#d27)"/><radialGradient id="d28" gradientUnits="userSpaceOnUse" cx="187.3" cy="187.3" r="100"><stop offset="0.1" stop-color="#ff7a1e"/><stop offset="0.5" stop-color="#ffa434"/><stop offset="0.95" stop-color="#ff9f30"/></radialGradient><path d="M187.3 187.3L254.8 -1L264.9 3Z" fill="url(#d28)"/><radialGradient id="d29" gradientUnits="userSpaceOnUse" cx="187.3" cy="187.3" r="100"><stop offset="0.1" stop-color="#ff6e24"/><stop offset="0.5" stop-color="#ffae2f"/><stop offset="0.95" stop-color="#ffa22d"/></radialGradient><path d="M187.3 187.3L262.9 2.2L272.8 6.5Z" fill="url(#d29)"/><radialGradient id="d30" gradientUnits="userSpaceOnUse" cx="187.3" cy="187.3" r="100"><stop offset="0.1" stop-color="#ff742a"/><stop offset="0.5" stop-color="#ffa735"/><stop offset="0.95" stop-color="#ffaa2c"/></radialGradient><path d="M187.3 187.3L270.9 5.6L280.6 10.4Z" fill="url(#d30)"/><radialGradient id="d31" gradientUnits="userSpaceOnUse" cx="187.3" cy="187.3" r="100"><stop offset="0.1" stop-color="#ff701a"/><stop offset="0.5" stop-color="#ffb829"/><stop offset="0.95" stop-color="#ffa131"/></radialGradient><path d="M187.3 187.3L278.8 9.4L288.3 14.6Z" fill="url(#d31)"/><radialGradient id="d32" gradientUnits="userSpaceOnUse" cx="187.3" cy="187.3" r="100"><stop offset="0.1" stop-color="#ff7320"/><stop offset="0.5" stop-color="#ffad35"/><stop offset="0.95" stop-color="#ffa023"/></radialGradient><path d="M187.3 187.3L286.4 13.6L295.7 19.2Z" fill="url(#d32)"/><radialGradient id="d33" gradientUnits="userSpaceOnUse" cx="187.3" cy="187.3" r="100"><stop offset="0.1" stop-color="#ff7324"/><stop offset="0.5" stop-color="#ffa023"/><stop offset="0.95" stop-color="#ff952c"/></radialGradient><path d="M187.3 187.3L293.9 18.1L302.9 24.1Z" fill="url(#d33)"/><radialGradient id="d34" gradientUnits="userSpaceOnUse" cx="187.3" cy="187.3" r="100"><stop offset="0.1" stop-color="#ff6015"/><stop offset="0.5" stop-color="#ff8f22"/><stop offset="0.95" stop-color="#ff941f"/></radialGradient><path d="M187.3 187.3L301.2 22.9L309.9 29.3Z" fill="url(#d34)"/><radialGradient id="d35" gradientUnits="userSpaceOnUse" cx="187.3" cy="187.3" r="100"><stop offset="0.1" stop-color="#ff711d"/><stop offset="0.5" stop-color="#ff7619"/><stop offset="0.95" stop-color="#ff8d19"/></radialGradient><path d="M187.3 187.3L308.3 28L316.7 34.8Z" fill="url(#d35)"/><radialGradient id="d36" gradientUnits="userSpaceOnUse" cx="187.3" cy="187.3" r="100"><stop offset="0.1" stop-color="#ff5b1e"/><stop offset="0.5" stop-color="#ff6418"/><stop offset="0.95" stop-color="#ff9118"/></radialGradient><path d="M187.3 187.3L315.1 33.4L323.2 40.6Z" fill="url(#d36)"/><radialGradient id="d37" gradientUnits="userSpaceOnUse" cx="187.3" cy="187.3" r="100"><stop offset="0.1" stop-color="#ff570f"/><stop offset="0.5" stop-color="#ff521b"/><stop offset="0.95" stop-color="#ff8d2b"/></radialGradient><path d="M187.3 187.3L321.7 39.2L329.5 46.6Z" fill="url(#d37)"/><radialGradient id="d38" gradientUnits="userSpaceOnUse" cx="187.3" cy="187.3" r="100"><stop offset="0.1" stop-color="#ff5d0d"/><stop offset="0.5" stop-color="#ff420b"/><stop offset="0.95" stop-color="#ff861f"/></radialGradient><path d="M187.3 187.3L328 45.2L335.5 53Z" fill="url(#d38)"/><radialGradient id="d39" gradientUnits="userSpaceOnUse" cx="187.3" cy="187.3" r="100"><stop offset="0.1" stop-color="#ff5218"/><stop offset="0.5" stop-color="#ff3f03"/><stop offset="0.95" stop-color="#ff7523"/></radialGradient><path d="M187.3 187.3L334.1 51.4L341.2 59.6Z" fill="url(#d39)"/><radialGradient id="d40" gradientUnits="userSpaceOnUse" cx="187.3" cy="187.3" r="100"><stop offset="0.1" stop-color="#ff5c0f"/><stop offset="0.5" stop-color="#ff3d0e"/><stop offset="0.95" stop-color="#ff691e"/></radialGradient><path d="M187.3 187.3L339.9 58L346.7 66.4Z" fill="url(#d40)"/><radialGradient id="d41" gradientUnits="userSpaceOnUse" cx="187.3" cy="187.3" r="100"><stop offset="0.1" stop-color="#ff580b"/><stop offset="0.5" stop-color="#ff2703"/><stop offset="0.95" stop-color="#ff6722"/></radialGradient><path d="M187.3 187.3L345.4 64.7L351.8 73.5Z" fill="url(#d41)"/><radialGradient id="d42" gradientUnits="userSpaceOnUse" cx="187.3" cy="187.3" r="100"><stop offset="0.1" stop-color="#ff5207"/><stop offset="0.5" stop-color="#ff2a0c"/><stop offset="0.95" stop-color="#ff5b0e"/></radialGradient><path d="M187.3 187.3L350.6 71.8L356.6 80.7Z" fill="url(#d42)"/><radialGradient id="d43" gradientUnits="userSpaceOnUse" cx="187.3" cy="187.3" r="100"><stop offset="0.1" stop-color="#ff4d08"/><stop offset="0.5" stop-color="#ff330a"/><stop offset="0.95" stop-color="#ff5715"/></radialGradient><path d="M187.3 187.3L355.5 79L361.1 88.2Z" fill="url(#d43)"/><radialGradient id="d44" gradientUnits="userSpaceOnUse" cx="187.3" cy="187.3" r="100"><stop offset="0.1" stop-color="#ff4412"/><stop offset="0.5" stop-color="#ff3109"/><stop offset="0.95" stop-color="#ff581e"/></radialGradient><path d="M187.3 187.3L360 86.4L365.2 95.9Z" fill="url(#d44)"/><radialGradient id="d45" gradientUnits="userSpaceOnUse" cx="187.3" cy="187.3" r="100"><stop offset="0.1" stop-color="#ff4919"/><stop offset="0.5" stop-color="#ff2a0f"/><stop offset="0.95" stop-color="#ff5314"/></radialGradient><path d="M187.3 187.3L364.3 94L369.1 103.8Z" fill="url(#d45)"/><radialGradient id="d46" gradientUnits="userSpaceOnUse" cx="187.3" cy="187.3" r="100"><stop offset="0.1" stop-color="#ff4609"/><stop offset="0.5" stop-color="#ff4213"/><stop offset="0.95" stop-color="#ff4e18"/></radialGradient><path d="M187.3 187.3L368.2 101.9L372.5 111.8Z" fill="url(#d46)"/><radialGradient id="d47" gradientUnits="userSpaceOnUse" cx="187.3" cy="187.3" r="100"><stop offset="0.1" stop-color="#ff461a"/><stop offset="0.5" stop-color="#ff3212"/><stop offset="0.95" stop-color="#ff521e"/></radialGradient><path d="M187.3 187.3L371.7 109.8L375.6 119.9Z" fill="url(#d47)"/><radialGradient id="d48" gradientUnits="userSpaceOnUse" cx="187.3" cy="187.3" r="100"><stop offset="0.1" stop-color="#ff4f15"/><stop offset="0.5" stop-color="#ff4019"/><stop offset="0.95" stop-color="#ff5121"/></radialGradient><path d="M187.3 187.3L374.9 117.9L378.4 128.2Z" fill="url(#d48)"/><radialGradient id="d49" gradientUnits="userSpaceOnUse" cx="187.3" cy="187.3" r="100"><stop offset="0.1" stop-color="#ff4219"/><stop offset="0.5" stop-color="#ff3815"/><stop offset="0.95" stop-color="#ff4915"/></radialGradient><path d="M187.3 187.3L377.8 126.2L380.8 136.6Z" fill="url(#d49)"/><radialGradient id="d50" gradientUnits="userSpaceOnUse" cx="187.3" cy="187.3" r="100"><stop offset="0.1" stop-color="#ff4e10"/><stop offset="0.5" stop-color="#ff470b"/><stop offset="0.95" stop-color="#ff5715"/></radialGradient><path d="M187.3 187.3L380.3 134.6L382.8 145.1Z" fill="url(#d50)"/><radialGradient id="d51" gradientUnits="userSpaceOnUse" cx="187.3" cy="187.3" r="100"><stop offset="0.1" stop-color="#ff4513"/><stop offset="0.5" stop-color="#ff470c"/><stop offset="0.95" stop-color="#ff5012"/></radialGradient><path d="M187.3 187.3L382.4 143L384.5 153.6Z" fill="url(#d51)"/><radialGradient id="d52" gradientUnits="userSpaceOnUse" cx="187.3" cy="187.3" r="100"><stop offset="0.1" stop-color="#ff500e"/><stop offset="0.5" stop-color="#ff3714"/><stop offset="0.95" stop-color="#ff5020"/></radialGradient><path d="M187.3 187.3L384.1 151.6L385.8 162.3Z" fill="url(#d52)"/><radialGradient id="d53" gradientUnits="userSpaceOnUse" cx="187.3" cy="187.3" r="100"><stop offset="0.1" stop-color="#ff420d"/><stop offset="0.5" stop-color="#ff4912"/><stop offset="0.95" stop-color="#ff4618"/></radialGradient><path d="M187.3 187.3L385.5 160.2L386.7 170.9Z" fill="url(#d53)"/><radialGradient id="d54" gradientUnits="userSpaceOnUse" cx="187.3" cy="187.3" r="100"><stop offset="0.1" stop-color="#ff4a11"/><stop offset="0.5" stop-color="#ff3f09"/><stop offset="0.95" stop-color="#ff491a"/></radialGradient><path d="M187.3 187.3L386.5 168.9L387.2 179.6Z" fill="url(#d54)"/><radialGradient id="d55" gradientUnits="userSpaceOnUse" cx="187.3" cy="187.3" r="100"><stop offset="0.1" stop-color="#ff4c13"/><stop offset="0.5" stop-color="#ff4a06"/><stop offset="0.95" stop-color="#ff5518"/></radialGradient><path d="M187.3 187.3L387.1 177.6L387.3 188.4Z" fill="url(#d55)"/><radialGradient id="d56" gradientUnits="userSpaceOnUse" cx="187.3" cy="187.3" r="100"><stop offset="0.1" stop-color="#ff4f0c"/><stop offset="0.5" stop-color="#ff3806"/><stop offset="0.95" stop-color="#ff591e"/></radialGradient><path d="M187.3 187.3L387.3 186.3L387.1 197.1Z" fill="url(#d56)"/><radialGradient id="d57" gradientUnits="userSpaceOnUse" cx="187.3" cy="187.3" r="100"><stop offset="0.1" stop-color="#ff4811"/><stop offset="0.5" stop-color="#ff4718"/><stop offset="0.95" stop-color="#ff4921"/></radialGradient><path d="M187.3 187.3L387.2 195L386.5 205.8Z" fill="url(#d57)"/><radialGradient id="d58" gradientUnits="userSpaceOnUse" cx="187.3" cy="187.3" r="100"><stop offset="0.1" stop-color="#ff4309"/><stop offset="0.5" stop-color="#ff3a14"/><stop offset="0.95" stop-color="#ff4e10"/></radialGradient><path d="M187.3 187.3L386.7 203.7L385.5 214.5Z" fill="url(#d58)"/><radialGradient id="d59" gradientUnits="userSpaceOnUse" cx="187.3" cy="187.3" r="100"><stop offset="0.1" stop-color="#ff4f06"/><stop offset="0.5" stop-color="#ff400d"/><stop offset="0.95" stop-color="#ff5a10"/></radialGradient><path d="M187.3 187.3L385.8 212.4L384.1 223.1Z" fill="url(#d59)"/><radialGradient id="d60" gradientUnits="userSpaceOnUse" cx="187.3" cy="187.3" r="100"><stop offset="0.1" stop-color="#ff3f10"/><stop offset="0.5" stop-color="#ff4512"/><stop offset="0.95" stop-color="#ff501d"/></radialGradient><path d="M187.3 187.3L384.5 221L382.4 231.6Z" fill="url(#d60)"/><radialGradient id="d61" gradientUnits="userSpaceOnUse" cx="187.3" cy="187.3" r="100"><stop offset="0.1" stop-color="#ff520b"/><stop offset="0.5" stop-color="#ff490e"/><stop offset="0.95" stop-color="#ff590e"/></radialGradient><path d="M187.3 187.3L382.8 229.6L380.3 240.1Z" fill="url(#d61)"/><radialGradient id="d62" gradientUnits="userSpaceOnUse" cx="187.3" cy="187.3" r="100"><stop offset="0.1" stop-color="#ff4f14"/><stop offset="0.5" stop-color="#ff4d0d"/><stop offset="0.95" stop-color="#ff550d"/></radialGradient><path d="M187.3 187.3L380.8 238.1L377.8 248.5Z" fill="url(#d62)"/><radialGradient id="d63" gradientUnits="userSpaceOnUse" cx="187.3" cy="187.3" r="100"><stop offset="0.1" stop-color="#ff5016"/><stop offset="0.5" stop-color="#ff4f12"/><stop offset="0.95" stop-color="#ff521c"/></radialGradient><path d="M187.3 187.3L378.4 246.5L374.9 256.7Z" fill="url(#d63)"/><radialGradient id="d64" gradientUnits="userSpaceOnUse" cx="187.3" cy="187.3" r="100"><stop offset="0.1" stop-color="#ff500b"/><stop offset="0.5" stop-color="#ff3f18"/><stop offset="0.95" stop-color="#ff561b"/></radialGradient><path d="M187.3 187.3L375.6 254.7L371.7 264.8Z" fill="url(#d64)"/><radialGradient id="d65" gradientUnits="userSpaceOnUse" cx="187.3" cy="187.3" r="100"><stop offset="0.1" stop-color="#ff4710"/><stop offset="0.5" stop-color="#ff4518"/><stop offset="0.95" stop-color="#ff5316"/></radialGradient><path d="M187.3 187.3L372.5 262.9L368.2 272.8Z" fill="url(#d65)"/><radialGradient id="d66" gradientUnits="userSpaceOnUse" cx="187.3" cy="187.3" r="100"><stop offset="0.1" stop-color="#ff5509"/><stop offset="0.5" stop-color="#ff4a17"/><stop offset="0.95" stop-color="#ff4713"/></radialGradient><path d="M187.3 187.3L369.1 270.9L364.3 280.6Z" fill="url(#d66)"/><radialGradient id="d67" gradientUnits="userSpaceOnUse" cx="187.3" cy="187.3" r="100"><stop offset="0.1" stop-color="#ff4811"/><stop offset="0.5" stop-color="#ff4716"/><stop offset="0.95" stop-color="#ff4215"/></radialGradient><path d="M187.3 187.3L365.2 278.7L360 288.2Z" fill="url(#d67)"/><radialGradient id="d68" gradientUnits="userSpaceOnUse" cx="187.3" cy="187.3" r="100"><stop offset="0.1" stop-color="#ff570e"/><stop offset="0.5" stop-color="#ff3f0d"/><stop offset="0.95" stop-color="#ff5117"/></radialGradient><path d="M187.3 187.3L361.1 286.4L355.5 295.7Z" fill="url(#d68)"/><radialGradient id="d69" gradientUnits="userSpaceOnUse" cx="187.3" cy="187.3" r="100"><stop offset="0.1" stop-color="#ff520f"/><stop offset="0.5" stop-color="#ff4315"/><stop offset="0.95" stop-color="#ff510a"/></radialGradient><path d="M187.3 187.3L356.6 293.9L350.6 302.9Z" fill="url(#d69)"/><radialGradient id="d70" gradientUnits="userSpaceOnUse" cx="187.3" cy="187.3" r="100"><stop offset="0.1" stop-color="#ff5908"/><stop offset="0.5" stop-color="#ff520f"/><stop offset="0.95" stop-color="#ff410c"/></radialGradient><path d="M187.3 187.3L351.8 301.2L345.4 309.9Z" fill="url(#d70)"/><radialGradient id="d71" gradientUnits="userSpaceOnUse" cx="187.3" cy="187.3" r="100"><stop offset="0.1" stop-color="#ff5209"/><stop offset="0.5" stop-color="#ff4f09"/><stop offset="0.95" stop-color="#ff430b"/></radialGradient><path d="M187.3 187.3L346.7 308.2L339.9 316.7Z" fill="url(#d71)"/><radialGradient id="d72" gradientUnits="userSpaceOnUse" cx="187.3" cy="187.3" r="100"><stop offset="0.1" stop-color="#ff5510"/><stop offset="0.5" stop-color="#ff500d"/><stop offset="0.95" stop-color="#ff4414"/></radialGradient><path d="M187.3 187.3L341.2 315.1L334.1 323.2Z" fill="url(#d72)"/><radialGradient id="d73" gradientUnits="userSpaceOnUse" cx="187.3" cy="187.3" r="100"><stop offset="0.1" stop-color="#ff4d12"/><stop offset="0.5" stop-color="#ff3e16"/><stop offset="0.95" stop-color="#ff480f"/></radialGradient><path d="M187.3 187.3L335.5 321.7L328 329.5Z" fill="url(#d73)"/><radialGradient id="d74" gradientUnits="userSpaceOnUse" cx="187.3" cy="187.3" r="100"><stop offset="0.1" stop-color="#ff4916"/><stop offset="0.5" stop-color="#ff4e15"/><stop offset="0.95" stop-color="#ff4e07"/></radialGradient><path d="M187.3 187.3L329.5 328L321.7 335.5Z" fill="url(#d74)"/><radialGradient id="d75" gradientUnits="userSpaceOnUse" cx="187.3" cy="187.3" r="100"><stop offset="0.1" stop-color="#ff5809"/><stop offset="0.5" stop-color="#ff4c11"/><stop offset="0.95" stop-color="#ff4410"/></radialGradient><path d="M187.3 187.3L323.2 334.1L315.1 341.2Z" fill="url(#d75)"/><radialGradient id="d76" gradientUnits="userSpaceOnUse" cx="187.3" cy="187.3" r="100"><stop offset="0.1" stop-color="#ff4909"/><stop offset="0.5" stop-color="#ff4415"/><stop offset="0.95" stop-color="#ff4818"/></radialGradient><path d="M187.3 187.3L316.7 339.9L308.3 346.6Z" fill="url(#d76)"/><radialGradient id="d77" gradientUnits="userSpaceOnUse" cx="187.3" cy="187.3" r="100"><stop offset="0.1" stop-color="#ff5409"/><stop offset="0.5" stop-color="#ff4206"/><stop offset="0.95" stop-color="#ff450a"/></radialGradient><path d="M187.3 187.3L309.9 345.4L301.2 351.8Z" fill="url(#d77)"/><radialGradient id="d78" gradientUnits="userSpaceOnUse" cx="187.3" cy="187.3" r="100"><stop offset="0.1" stop-color="#ff5214"/><stop offset="0.5" stop-color="#ff4816"/><stop offset="0.95" stop-color="#ff4719"/></radialGradient><path d="M187.3 187.3L302.9 350.6L293.9 356.6Z" fill="url(#d78)"/><radialGradient id="d79" gradientUnits="userSpaceOnUse" cx="187.3" cy="187.3" r="100"><stop offset="0.1" stop-color="#ff4912"/><stop offset="0.5" stop-color="#ff4d1a"/><stop offset="0.95" stop-color="#ff460a"/></radialGradient><path d="M187.3 187.3L295.7 355.4L286.4 361.1Z" fill="url(#d79)"/><radialGradient id="d80" gradientUnits="userSpaceOnUse" cx="187.3" cy="187.3" r="100"><stop offset="0.1" stop-color="#ff480b"/><stop offset="0.5" stop-color="#ff4514"/><stop offset="0.95" stop-color="#ff3e0e"/></radialGradient><path d="M187.3 187.3L288.3 360L278.8 365.2Z" fill="url(#d80)"/><radialGradient id="d81" gradientUnits="userSpaceOnUse" cx="187.3" cy="187.3" r="100"><stop offset="0.1" stop-color="#ff5917"/><stop offset="0.5" stop-color="#ff420c"/><stop offset="0.95" stop-color="#ff4806"/></radialGradient><path d="M187.3 187.3L280.6 364.2L270.9 369Z" fill="url(#d81)"/><radialGradient id="d82" gradientUnits="userSpaceOnUse" cx="187.3" cy="187.3" r="100"><stop offset="0.1" stop-color="#ff5011"/><stop offset="0.5" stop-color="#ff400b"/><stop offset="0.95" stop-color="#ff4710"/></radialGradient><path d="M187.3 187.3L272.8 368.1L262.9 372.5Z" fill="url(#d82)"/><radialGradient id="d83" gradientUnits="userSpaceOnUse" cx="187.3" cy="187.3" r="100"><stop offset="0.1" stop-color="#ff5713"/><stop offset="0.5" stop-color="#ff470a"/><stop offset="0.95" stop-color="#ff3d12"/></radialGradient><path d="M187.3 187.3L264.9 371.7L254.8 375.6Z" fill="url(#d83)"/><radialGradient id="d84" gradientUnits="userSpaceOnUse" cx="187.3" cy="187.3" r="100"><stop offset="0.1" stop-color="#ff4618"/><stop offset="0.5" stop-color="#ff410a"/><stop offset="0.95" stop-color="#ff3d08"/></radialGradient><path d="M187.3 187.3L256.7 374.9L246.5 378.4Z" fill="url(#d84)"/><radialGradient id="d85" gradientUnits="userSpaceOnUse" cx="187.3" cy="187.3" r="100"><stop offset="0.1" stop-color="#ff4b1a"/><stop offset="0.5" stop-color="#ff4215"/><stop offset="0.95" stop-color="#ff3f17"/></radialGradient><path d="M187.3 187.3L248.5 377.8L238.1 380.8Z" fill="url(#d85)"/><radialGradient id="d86" gradientUnits="userSpaceOnUse" cx="187.3" cy="187.3" r="100"><stop offset="0.1" stop-color="#ff5208"/><stop offset="0.5" stop-color="#ff4c0f"/><stop offset="0.95" stop-color="#ff3812"/></radialGradient><path d="M187.3 187.3L240.1 380.2L229.6 382.8Z" fill="url(#d86)"/><radialGradient id="d87" gradientUnits="userSpaceOnUse" cx="187.3" cy="187.3" r="100"><stop offset="0.1" stop-color="#ff5415"/><stop offset="0.5" stop-color="#ff4b10"/><stop offset="0.95" stop-color="#ff450d"/></radialGradient><path d="M187.3 187.3L231.7 382.4L221 384.5Z" fill="url(#d87)"/><radialGradient id="d88" gradientUnits="userSpaceOnUse" cx="187.3" cy="187.3" r="100"><stop offset="0.1" stop-color="#ff4f07"/><stop offset="0.5" stop-color="#ff5009"/><stop offset="0.95" stop-color="#ff3617"/></radialGradient><path d="M187.3 187.3L223.1 384.1L212.4 385.7Z" fill="url(#d88)"/><radialGradient id="d89" gradientUnits="userSpaceOnUse" cx="187.3" cy="187.3" r="100"><stop offset="0.1" stop-color="#ff5911"/><stop offset="0.5" stop-color="#ff5213"/><stop offset="0.95" stop-color="#ff360e"/></radialGradient><path d="M187.3 187.3L214.5 385.5L203.7 386.7Z" fill="url(#d89)"/></g></g><rect x="137" y="141" width="2" height="2" fill="#fff"/><rect x="138" y="138" width="2" height="3" fill="#fff"/><rect x="126" y="115" width="3" height="2" fill="#ff2c0b"/><rect x="140" y="112" width="2" height="1" fill="#ff310d"/><rect x="135" y="111" width="1" height="2" fill="#ff310d"/><rect x="141" y="118" width="1" height="1" fill="#fff"/><rect x="143" y="116" width="1" height="1" fill="#ff330e"/><rect x="148" y="127" width="2" height="2" fill="#fff"/><rect x="144" y="111" width="3" height="2" fill="#ff350e"/><rect x="145" y="118" width="2" height="1" fill="#fff"/><rect x="153" y="127" width="2" height="3" fill="#fff"/><rect x="157" y="129" width="2" height="3" fill="#fff"/><rect x="146" y="112" width="3" height="2" fill="#ff370f"/><rect x="155" y="123" width="1" height="2" fill="#fff"/><rect x="162" y="122" width="2" height="3" fill="#fff"/><rect x="154" y="109" width="1" height="2" fill="#ff3e10"/><rect x="156" y="119" width="2" height="1" fill="#fff"/><rect x="159" y="104" width="1" height="3" fill="#fff"/><rect x="155" y="97" width="2" height="2" fill="#ff5613"/><rect x="160" y="105" width="2" height="1" fill="#fff"/><rect x="159" y="99" width="2" height="1" fill="#ff5613"/><rect x="163" y="103" width="2" height="2" fill="#fff"/><rect x="164" y="105" width="1" height="2" fill="#fff"/><rect x="163" y="105" width="3" height="3" fill="#fff"/><rect x="159" y="95" width="1" height="1" fill="#ff6014"/><rect x="162" y="108" width="1" height="3" fill="#fff"/><rect x="164" y="101" width="2" height="1" fill="#ff6c16"/><rect x="165" y="108" width="2" height="3" fill="#fff"/><rect x="162" y="96" width="2" height="2" fill="#ff6c16"/><rect x="170" y="118" width="3" height="2" fill="#fff"/><rect x="172" y="115" width="3" height="3" fill="#fff"/><rect x="169" y="106" width="2" height="2" fill="#ff7a17"/><rect x="170" y="110" width="3" height="2" fill="#fff"/><rect x="177" y="115" width="3" height="2" fill="#fff"/><rect x="177" y="114" width="3" height="3" fill="#fff"/><rect x="178" y="97" width="2" height="2" fill="#ff841a"/><rect x="175" y="93" width="2" height="2" fill="#ff841a"/><rect x="179" y="104" width="1" height="2" fill="#fff"/><rect x="178" y="87" width="3" height="2" fill="#ff861b"/><rect x="175" y="95" width="2" height="2" fill="#ff871b"/><rect x="178" y="111" width="2" height="1" fill="#fff"/><rect x="182" y="102" width="1" height="2" fill="#ff881c"/><rect x="181" y="113" width="1" height="3" fill="#fff"/><rect x="186" y="116" width="3" height="1" fill="#fff"/><rect x="182" y="95" width="2" height="2" fill="#ff8d1e"/><rect x="186" y="114" width="2" height="3" fill="#fff"/><rect x="185" y="103" width="1" height="2" fill="#fff"/><rect x="185" y="93" width="2" height="1" fill="#ff8f1f"/><rect x="189" y="96" width="2" height="2" fill="#ff9121"/><rect x="189" y="106" width="1" height="2" fill="#fff"/><rect x="189" y="103" width="3" height="2" fill="#ff9322"/><rect x="188" y="121" width="1" height="1" fill="#fff"/><rect x="194" y="97" width="2" height="2" fill="#ff9623"/><rect x="195" y="113" width="3" height="3" fill="#fff"/><rect x="194" y="92" width="1" height="1" fill="#ff9925"/><rect x="197" y="105" width="2" height="2" fill="#fff"/><rect x="197" y="95" width="2" height="1" fill="#ff9c26"/><rect x="199" y="115" width="2" height="1" fill="#fff"/><rect x="198" y="96" width="1" height="2" fill="#ff9c26"/><rect x="197" y="105" width="1" height="2" fill="#fff"/><rect x="205" y="102" width="1" height="2" fill="#fff"/><rect x="206" y="96" width="1" height="1" fill="#ffa028"/><rect x="201" y="105" width="2" height="2" fill="#fff"/><rect x="207" y="97" width="2" height="2" fill="#ffa028"/><rect x="207" y="115" width="3" height="3" fill="#fff"/><rect x="208" y="96" width="3" height="2" fill="#ffa028"/><rect x="213" y="108" width="2" height="2" fill="#ffa028"/><rect x="209" y="115" width="2" height="2" fill="#fff"/><rect x="212" y="104" width="2" height="2" fill="#ffa028"/><rect x="213" y="115" width="1" height="2" fill="#fff"/><rect x="215" y="100" width="2" height="2" fill="#ffa028"/><rect x="223" y="98" width="1" height="2" fill="#ffa028"/><rect x="215" y="111" width="3" height="2" fill="#fff"/><rect x="219" y="103" width="2" height="2" fill="#ffa028"/><rect x="219" y="106" width="2" height="1" fill="#fff"/><rect x="222" y="114" width="2" height="2" fill="#fff"/><rect x="218" y="117" width="2" height="1" fill="#fff"/><rect x="229" y="102" width="2" height="1" fill="#ffa028"/><rect x="225" y="113" width="2" height="1" fill="#fff"/><rect x="228" y="103" width="2" height="1" fill="#ffa028"/><rect x="227" y="118" width="1" height="2" fill="#fff"/><rect x="222" y="122" width="2" height="1" fill="#fff"/><rect x="231" y="105" width="3" height="2" fill="#ffa028"/><rect x="227" y="120" width="2" height="3" fill="#fff"/><rect x="235" y="114" width="3" height="2" fill="#ff9c26"/><rect x="233" y="117" width="2" height="3" fill="#fff"/><rect x="235" y="111" width="1" height="2" fill="#ff9c26"/><rect x="240" y="117" width="1" height="2" fill="#ff9724"/><rect x="233" y="125" width="2" height="1" fill="#fff"/><rect x="233" y="132" width="2" height="2" fill="#fff"/><rect x="246" y="112" width="3" height="2" fill="#ff9724"/><rect x="237" y="121" width="2" height="3" fill="#fff"/><rect x="249" y="102" width="1" height="2" fill="#ff9624"/><rect x="245" y="113" width="2" height="3" fill="#fff"/><rect x="246" y="111" width="2" height="1" fill="#fff"/><rect x="248" y="118" width="2" height="1" fill="#fff"/><rect x="256" y="105" width="2" height="2" fill="#ff9222"/><rect x="247" y="112" width="2" height="2" fill="#ff9222"/><rect x="240" y="127" width="1" height="2" fill="#fff"/><rect x="243" y="124" width="3" height="2" fill="#ff9022"/><rect x="251" y="123" width="2" height="2" fill="#ff871f"/><rect x="250" y="127" width="2" height="2" fill="#ff871f"/><rect x="242" y="132" width="2" height="2" fill="#fff"/><rect x="239" y="138" width="2" height="3" fill="#fff"/><rect x="260" y="122" width="3" height="1" fill="#ff7d1d"/><rect x="253" y="133" width="1" height="1" fill="#fff"/><rect x="253" y="130" width="2" height="2" fill="#fff"/><rect x="252" y="130" width="2" height="2" fill="#ff781c"/><rect x="242" y="144" width="1" height="1" fill="#fff"/><rect x="252" y="136" width="1" height="1" fill="#ff6d1a"/><rect x="234" y="152" width="2" height="1" fill="#fff"/><rect x="252" y="139" width="2" height="1" fill="#ff6d1a"/><rect x="237" y="151" width="3" height="1" fill="#fff"/><rect x="259" y="145" width="2" height="2" fill="#ff5d18"/><rect x="259" y="144" width="1" height="2" fill="#ff5d18"/><rect x="251" y="148" width="3" height="1" fill="#fff"/><rect x="262" y="144" width="3" height="2" fill="#ff5918"/><rect x="247" y="154" width="3" height="1" fill="#fff"/><rect x="263" y="145" width="3" height="1" fill="#ff5918"/><rect x="256" y="151" width="3" height="2" fill="#fff"/><rect x="265" y="151" width="2" height="2" fill="#ff5718"/><rect x="253" y="157" width="2" height="2" fill="#fff"/><rect x="253" y="154" width="1" height="2" fill="#fff"/><rect x="263" y="152" width="2" height="2" fill="#ff5718"/><rect x="242" y="162" width="2" height="2" fill="#fff"/><rect x="261" y="165" width="2" height="1" fill="#ff5018"/><rect x="247" y="163" width="2" height="2" fill="#fff"/><rect x="244" y="166" width="3" height="2" fill="#fff"/><rect x="252" y="163" width="1" height="1" fill="#fff"/><rect x="265" y="163" width="3" height="2" fill="#ff5018"/><rect x="259" y="163" width="1" height="2" fill="#fff"/><rect x="266" y="163" width="3" height="2" fill="#ff5018"/><rect x="258" y="168" width="2" height="2" fill="#fff"/><rect x="265" y="177" width="2" height="2" fill="#fff"/><rect x="272" y="177" width="3" height="2" fill="#ff5018"/><rect x="266" y="179" width="2" height="2" fill="#fff"/><rect x="284" y="175" width="3" height="2" fill="#ff5018"/><rect x="274" y="176" width="2" height="2" fill="#fff"/><rect x="284" y="178" width="1" height="2" fill="#ff5018"/><rect x="277" y="176" width="1" height="2" fill="#fff"/><rect x="286" y="183" width="1" height="1" fill="#ff5018"/><rect x="273" y="180" width="3" height="2" fill="#fff"/><rect x="284" y="182" width="1" height="1" fill="#ff5018"/><rect x="283" y="184" width="2" height="2" fill="#ff5018"/><rect x="275" y="184" width="3" height="1" fill="#fff"/><rect x="270" y="185" width="2" height="2" fill="#fff"/><rect x="272" y="184" width="1" height="2" fill="#ff5018"/><rect x="253" y="184" width="1" height="1" fill="#fff"/><rect x="256" y="186" width="2" height="2" fill="#fff"/><rect x="267" y="197" width="3" height="2" fill="#ff5018"/><rect x="254" y="198" width="2" height="3" fill="#fff"/><rect x="259" y="195" width="1" height="1" fill="#fff"/><rect x="258" y="201" width="2" height="2" fill="#ff5018"/><rect x="242" y="198" width="1" height="2" fill="#fff"/><rect x="235" y="194" width="1" height="2" fill="#fff"/><rect x="239" y="198" width="3" height="2" fill="#fff"/><rect x="247" y="199" width="2" height="2" fill="#ff4f17"/><rect x="231" y="199" width="2" height="1" fill="#fff"/><rect x="256" y="205" width="1" height="1" fill="#ff4e16"/><rect x="243" y="202" width="2" height="3" fill="#fff"/><rect x="257" y="208" width="3" height="1" fill="#ff4e16"/><rect x="244" y="203" width="2" height="2" fill="#fff"/><rect x="270" y="212" width="3" height="2" fill="#ff4e16"/><rect x="254" y="207" width="2" height="2" fill="#fff"/><rect x="272" y="218" width="1" height="2" fill="#ff4d15"/><rect x="256" y="211" width="1" height="1" fill="#fff"/><rect x="257" y="215" width="3" height="2" fill="#fff"/><rect x="254" y="215" width="1" height="2" fill="#fff"/><rect x="266" y="235" width="2" height="1" fill="#ff4a12"/><rect x="257" y="228" width="3" height="2" fill="#ff4a12"/><rect x="246" y="220" width="2" height="2" fill="#fff"/><rect x="253" y="232" width="2" height="2" fill="#ff4911"/><rect x="236" y="222" width="2" height="1" fill="#fff"/><rect x="256" y="234" width="2" height="2" fill="#ff4911"/><rect x="247" y="236" width="2" height="1" fill="#ff4810"/><rect x="244" y="234" width="2" height="1" fill="#fff"/><rect x="245" y="241" width="2" height="2" fill="#ff4810"/><rect x="241" y="234" width="1" height="2" fill="#fff"/><rect x="242" y="240" width="1" height="2" fill="#ff4710"/><rect x="229" y="228" width="2" height="3" fill="#fff"/><rect x="240" y="243" width="3" height="2" fill="#ff4710"/><rect x="231" y="232" width="3" height="2" fill="#fff"/><rect x="235" y="240" width="2" height="2" fill="#ff4510"/><rect x="226" y="234" width="3" height="2" fill="#fff"/><polygon points="182.5,192 179.3,208.9 183.6,214.1 190.9,220.4 196.2,229.9 201.4,238.3 207.8,244.7 211,250 215.1,257.8 217.5,263.3 219.9,261.8 222,256 216,248 214,242.5 209.8,235.2 204.6,229.9 204.6,220.4 200.4,215.2 201.4,204.6 192,192" fill="#00007a"/><rect x="203.2" y="224.7" width="6.4" height="1.8" fill="#f01000" transform="rotate(55 203.2 224.7)"/><rect x="196.2" y="227.7" width="6.5" height="2.2" fill="#f01000" transform="rotate(55 196.2 227.7)"/><rect x="197.8" y="209.2" width="3.8" height="1.6" fill="#f01000" transform="rotate(55 197.8 209.2)"/><rect x="184.1" y="207" width="6.7" height="1.6" fill="#f01000" transform="rotate(55 184.1 207)"/><rect x="200.4" y="216" width="3.4" height="1.8" fill="#f01000" transform="rotate(55 200.4 216)"/><rect x="196" y="209.9" width="6.5" height="1.5" fill="#f01000" transform="rotate(55 196 209.9)"/><rect x="204.6" y="221.6" width="4.2" height="2.2" fill="#f01000" transform="rotate(55 204.6 221.6)"/><rect x="208.9" y="248" width="7.5" height="1.7" fill="#f01000" transform="rotate(55 208.9 248)"/><rect x="183.6" y="202.1" width="5.5" height="2.1" fill="#f01000" transform="rotate(55 183.6 202.1)"/><rect x="206.2" y="229.7" width="6.2" height="1.6" fill="#f01000" transform="rotate(55 206.2 229.7)"/><rect x="210.1" y="233.3" width="3.2" height="1.8" fill="#f01000" transform="rotate(55 210.1 233.3)"/><rect x="212.2" y="239.2" width="5.9" height="1.5" fill="#f01000" transform="rotate(55 212.2 239.2)"/><rect x="218.8" y="247.6" width="6.1" height="1.5" fill="#f01000" transform="rotate(55 218.8 247.6)"/><rect x="190.6" y="218.9" width="7.4" height="1.9" fill="#f01000" transform="rotate(55 190.6 218.9)"/><rect x="199.2" y="212.1" width="3.1" height="2.3" fill="#f01000" transform="rotate(55 199.2 212.1)"/><rect x="198.4" y="217.3" width="4.3" height="2.3" fill="#f01000" transform="rotate(55 198.4 217.3)"/><rect x="197.7" y="218.3" width="3.1" height="2.3" fill="#f01000" transform="rotate(55 197.7 218.3)"/><rect x="214" y="246.3" width="5.8" height="1.6" fill="#f01000" transform="rotate(55 214 246.3)"/><linearGradient id="bgw" x1="0" y1="0" x2="0" y2="1"><stop offset="0" stop-color="#0a20e0"/><stop offset="0.5" stop-color="#1a48ea"/><stop offset="1" stop-color="#3078f5"/></linearGradient><polygon points="182.3,188.7 113.9,191 120.9,193.1 115.6,196.6 124.4,198.3 135,200.1 133.2,203.6 120.9,207.1 117.4,212.4 122.7,214.1 115.6,215.9 119.1,219.4 124.4,224.6 120.9,227.3 124.4,228.2 182.3,191.7" fill="url(#bgw)"/><line x1="181.9" y1="184.9" x2="116" y2="155.8" stroke="#00008c" stroke-width="1.1" stroke-dasharray="1.6 1.8"/><line x1="184" y1="192.3" x2="175" y2="205.6" stroke="#00008c" stroke-width="1.1" stroke-dasharray="1.6 1.8"/><path d="M21.9 197.7h3v1h-3zM21.9 198.7h3v1h-3zM21.9 199.7h3v1h-3zM21.9 200.7h3v1h-3zM22.9 201.7h3v1h-3zM21.9 202.7h3v1h-3zM21.9 203.7h3v1h-3zM21.9 204.7h3v1h-3zM22.9 205.7h3v1h-3zM21.9 206.7h3v1h-3zM21.9 207.7h3v1h-3zM20.9 208.7h3v1h-3zM21.9 209.7h3v1h-3zM21.9 210.7h3v1h-3zM21.9 211.7h3v1h-3zM21.9 212.7h3v1h-3zM22.9 213.7h3v1h-3zM22.9 214.7h3v1h-3zM22.9 215.7h3v1h-3zM22.9 216.7h3v1h-3zM22.9 217.7h3v1h-3zM23.9 218.7h3v1h-3zM23.9 219.7h3v1h-3zM22.9 220.7h3v1h-3zM24.9 221.7h3v1h-3zM25.9 222.7h3v1h-3zM23.9 223.7h3v1h-3zM26.9 224.7h3v1h-3zM24.9 225.7h3v1h-3zM25.9 226.7h3v1h-3zM44.9 226.7h3v1h-3zM26.9 227.7h3v1h-3zM42.9 227.7h3v1h-3zM26.9 228.7h3v1h-3zM44.9 228.7h3v1h-3zM28.9 229.7h3v1h-3zM42.9 229.7h3v1h-3zM29.9 230.7h3v1h-3zM45.9 230.7h3v1h-3zM29.9 231.7h3v1h-3zM47.9 231.7h3v1h-3zM31.9 232.7h3v1h-3zM47.9 232.7h3v1h-3zM47.9 233.7h3v1h-3zM49.9 234.7h3v1h-3zM50.9 235.7h3v1h-3zM50.9 236.7h3v1h-3zM49.9 237.7h3v1h-3zM50.9 238.7h3v1h-3zM48.9 239.7h3v1h-3zM47.9 240.7h3v1h-3zM46.9 241.7h3v1h-3zM45.9 242.7h3v1h-3zM42.9 243.7h3v1h-3zM42.9 244.7h3v1h-3zM41.9 245.7h3v1h-3zM40.9 246.7h3v1h-3zM30.9 251.7h3v1h-3zM216.9 251.7h3v1h-3zM26.9 252.7h3v1h-3zM216.9 252.7h3v1h-3zM22.9 253.7h3v1h-3zM216.9 253.7h3v1h-3zM22.9 254.7h3v1h-3zM216.9 254.7h3v1h-3zM27.9 255.7h3v1h-3zM214.9 255.7h3v1h-3zM30.9 256.7h3v1h-3zM215.9 256.7h3v1h-3zM33.9 257.7h3v1h-3zM214.9 257.7h3v1h-3zM32.9 258.7h3v1h-3zM214.9 258.7h3v1h-3zM33.9 259.7h3v1h-3zM213.9 259.7h3v1h-3zM35.9 260.7h3v1h-3zM214.9 260.7h3v1h-3zM230.9 260.7h3v1h-3zM35.9 261.7h3v1h-3zM216.9 261.7h3v1h-3zM228.9 261.7h3v1h-3zM35.9 262.7h3v1h-3zM216.9 262.7h3v1h-3zM224.9 262.7h3v1h-3zM36.9 263.7h3v1h-3zM226.9 263.7h3v1h-3zM35.9 264.7h3v1h-3zM225.9 264.7h3v1h-3zM37.9 265.7h3v1h-3zM225.9 265.7h3v1h-3zM43.9 266.7h3v1h-3zM225.9 266.7h3v1h-3zM45.9 267.7h3v1h-3zM225.9 267.7h3v1h-3zM45.9 268.7h3v1h-3zM224.9 268.7h3v1h-3zM234.9 268.7h3v1h-3zM263.9 268.7h3v1h-3zM46.9 269.7h3v1h-3zM226.9 269.7h3v1h-3zM256.9 269.7h3v1h-3zM47.9 270.7h3v1h-3zM225.9 270.7h3v1h-3zM257.9 270.7h3v1h-3zM48.9 271.7h3v1h-3zM224.9 271.7h3v1h-3zM239.9 271.7h3v1h-3zM251.9 271.7h3v1h-3zM50.9 272.7h3v1h-3zM225.9 272.7h3v1h-3zM238.9 272.7h3v1h-3zM251.9 272.7h3v1h-3zM52.9 273.7h3v1h-3zM225.9 273.7h3v1h-3zM238.9 273.7h3v1h-3zM250.9 273.7h3v1h-3zM225.9 274.7h3v1h-3zM240.9 274.7h3v1h-3zM248.9 274.7h3v1h-3zM265.9 274.7h3v1h-3zM226.9 275.7h3v1h-3zM239.9 275.7h3v1h-3zM225.9 276.7h3v1h-3zM239.9 276.7h3v1h-3zM224.9 277.7h3v1h-3zM240.9 277.7h3v1h-3zM226.9 278.7h3v1h-3zM240.9 278.7h3v1h-3zM225.9 279.7h3v1h-3zM243.9 279.7h3v1h-3zM224.9 280.7h3v1h-3zM245.9 280.7h3v1h-3zM226.9 281.7h3v1h-3zM248.9 281.7h3v1h-3zM226.9 282.7h3v1h-3zM251.9 282.7h3v1h-3zM226.9 283.7h3v1h-3zM226.9 284.7h3v1h-3zM225.9 285.7h3v1h-3zM226.9 286.7h3v1h-3z" fill="#000080"/><path d="M24.9 197.7h4v1h-4zM24.9 198.7h3v1h-3zM24.9 199.7h4v1h-4zM24.9 200.7h5v1h-5zM25.9 201.7h5v1h-5zM24.9 202.7h5v1h-5zM24.9 203.7h5v1h-5zM24.9 204.7h5v1h-5zM25.9 205.7h5v1h-5zM24.9 206.7h4v1h-4zM24.9 207.7h4v1h-4zM23.9 208.7h5v1h-5zM24.9 209.7h4v1h-4zM24.9 210.7h4v1h-4zM24.9 211.7h5v1h-5zM24.9 212.7h6v1h-6zM25.9 213.7h3v1h-3zM25.9 214.7h5v1h-5zM25.9 215.7h6v1h-6zM25.9 216.7h5v1h-5zM25.9 217.7h5v1h-5zM26.9 218.7h6v1h-6zM26.9 219.7h5v1h-5zM25.9 220.7h7v1h-7zM27.9 221.7h5v1h-5zM28.9 222.7h5v1h-5zM26.9 223.7h7v1h-7zM29.9 224.7h5v1h-5zM27.9 225.7h8v1h-8zM28.9 226.7h7v1h-7zM47.9 226.7h1v1h-1zM29.9 227.7h5v1h-5zM45.9 227.7h5v1h-5zM29.9 228.7h6v1h-6zM47.9 228.7h5v1h-5zM31.9 229.7h5v1h-5zM45.9 229.7h8v1h-8zM32.9 230.7h3v1h-3zM48.9 230.7h6v1h-6zM32.9 231.7h3v1h-3zM50.9 231.7h4v1h-4zM50.9 232.7h5v1h-5zM50.9 233.7h4v1h-4zM52.9 234.7h2v1h-2zM53.9 235.7h3v1h-3zM53.9 236.7h1v1h-1zM52.9 237.7h3v1h-3zM53.9 238.7h2v1h-2zM51.9 239.7h4v1h-4zM50.9 240.7h4v1h-4zM49.9 241.7h3v1h-3zM48.9 242.7h2v1h-2zM45.9 243.7h6v1h-6zM45.9 244.7h2v1h-2zM44.9 245.7h1v1h-1zM43.9 246.7h1v1h-1zM219.9 251.7h5v1h-5zM29.9 252.7h5v1h-5zM219.9 252.7h5v1h-5zM25.9 253.7h11v1h-11zM219.9 253.7h5v1h-5zM25.9 254.7h12v1h-12zM219.9 254.7h6v1h-6zM30.9 255.7h8v1h-8zM217.9 255.7h6v1h-6zM33.9 256.7h6v1h-6zM218.9 256.7h5v1h-5zM36.9 257.7h4v1h-4zM217.9 257.7h6v1h-6zM35.9 258.7h5v1h-5zM217.9 258.7h5v1h-5zM36.9 259.7h5v1h-5zM216.9 259.7h5v1h-5zM38.9 260.7h4v1h-4zM217.9 260.7h5v1h-5zM38.9 261.7h5v1h-5zM219.9 261.7h2v1h-2zM231.9 261.7h3v1h-3zM38.9 262.7h12v1h-12zM227.9 262.7h8v1h-8zM39.9 263.7h12v1h-12zM229.9 263.7h7v1h-7zM38.9 264.7h14v1h-14zM228.9 264.7h9v1h-9zM40.9 265.7h14v1h-14zM228.9 265.7h9v1h-9zM46.9 266.7h8v1h-8zM228.9 266.7h9v1h-9zM48.9 267.7h7v1h-7zM228.9 267.7h9v1h-9zM48.9 268.7h8v1h-8zM227.9 268.7h4v1h-4zM266.9 268.7h1v1h-1zM49.9 269.7h8v1h-8zM229.9 269.7h2v1h-2zM259.9 269.7h8v1h-8zM50.9 270.7h7v1h-7zM228.9 270.7h4v1h-4zM260.9 270.7h8v1h-8zM51.9 271.7h7v1h-7zM227.9 271.7h4v1h-4zM242.9 271.7h3v1h-3zM254.9 271.7h14v1h-14zM53.9 272.7h4v1h-4zM228.9 272.7h3v1h-3zM241.9 272.7h3v1h-3zM254.9 272.7h15v1h-15zM55.9 273.7h2v1h-2zM228.9 273.7h2v1h-2zM241.9 273.7h5v1h-5zM253.9 273.7h16v1h-16zM228.9 274.7h3v1h-3zM243.9 274.7h3v1h-3zM251.9 274.7h13v1h-13zM268.9 274.7h2v1h-2zM229.9 275.7h2v1h-2zM242.9 275.7h21v1h-21zM228.9 276.7h3v1h-3zM242.9 276.7h21v1h-21zM227.9 277.7h4v1h-4zM243.9 277.7h17v1h-17zM229.9 278.7h1v1h-1zM243.9 278.7h16v1h-16zM228.9 279.7h2v1h-2zM246.9 279.7h10v1h-10zM227.9 280.7h3v1h-3zM248.9 280.7h7v1h-7zM229.9 281.7h1v1h-1zM251.9 281.7h4v1h-4zM229.9 282.7h1v1h-1zM229.9 283.7h1v1h-1zM228.9 285.7h1v1h-1zM229.9 286.7h1v1h-1z" fill="#ff0000"/><circle cx="187.3" cy="187.3" r="5.2" fill="#fff"/><polyline points="39.2,0 39.2,2.9 36.6,5.8 33.7,8 31.9,10.2 33,14.6 33,19.8 32.2,22 35.2,23.5 36.7,25.7 38.1,29.4 40.3,33.1 42.5,36 47,36.8 49.2,37.5 52.1,34.2 55.1,34.9 58,33.1 61.7,32.3 63.9,27.9 63.2,25 68.3,23.1 68.7,20.2 70.5,16.5 75,15.4 73.1,12.4 74.2,8 72.8,3.6 72.8,0" fill="none" stroke="#000" stroke-width="1.35" stroke-linejoin="round"/><polyline points="0,105 10,105 12.1,103.6 13.5,100.2 15.6,98.8 20.4,101.2 23.8,103 28.7,107.1 35.6,105 45.2,100.9 57.6,94 67.3,87.8 68.4,81.6 68.7,80.2 70.7,79.5 71.1,75.4 74.2,73.3 72.1,70.5 70,69.2 68,71.2 65.6,67.5 68,65.7 69.4,62.9 71.4,60.2 94.2,58.8 94.9,71.6 103.1,71.6 104.3,65 103.1,60.2 106.6,59.5 109.4,56.7 110.7,59.5 114.2,61.6 119.1,61.6 126.1,64.8 131.1,62.6 137.5,63.3 143.8,65.4 146.3,68.6 151.4,68.3 155.2,66 159,67.9 162.7,66 165.3,62.2 167.8,63.3 172.9,62.2 175.4,58.2 179.2,61.6 183.6,56.9 180.5,55.9 185.5,52.8 189.3,51.5 191.8,52.1 195.6,49 198.1,48.3 195.6,52.1 198.8,54 201.3,52.1 202,48.3 204.2,42 209.7,42.5 211.7,42.5 212.3,45.1 215,44.4 215.6,46.4 217.6,45.8 219.6,48.4 220.9,49 221.5,52.3 222.9,56.3 222.9,61.5 222.2,64.2 218.9,62.9 216.3,63.5 218.3,71.4 224.2,69.4 225.5,67.5 227.5,68.8 230.8,70.8 234,68.8 233.4,64.2 234.7,63.5 236,66.8 245.2,62.2 243.9,55 241.3,55 235.4,57.6 229.4,55 234.7,51 228.8,35.2 240,30.2 249.2,49.7 253.1,49 253.8,51.7 249.2,53.6 250.5,57.6 259.7,53.6 257.7,48.4 255.8,43.1 258.4,41.8 260.4,43.8 265,41.1 262.3,37.9 261,39.2 252.5,29.3 259,22.1 272.9,33.3 278.1,27.3 275.5,25.4 272.2,27.3 261,16 263.9,7.2 270.8,4.9 277.7,7.2 292.1,10.9 293.8,0" fill="none" stroke="#000" stroke-width="1.35" stroke-linejoin="round"/><polyline points="188.7,38.9 190.6,42.7" fill="none" stroke="#000" stroke-width="1.6" stroke-linecap="round"/><polyline points="27.2,10.6 28.6,11.2" fill="none" stroke="#000" stroke-width="1.6" stroke-linecap="round"/></g><line x1="58.8" y1="448.9" x2="58.8" y2="462.9" stroke="#000" stroke-width="2.1"/><line x1="58.8" y1="74.3" x2="58.8" y2="60.3" stroke="#000" stroke-width="2.1"/><line x1="58.8" y1="448.9" x2="44.8" y2="448.9" stroke="#000" stroke-width="2.1"/><line x1="433.5" y1="448.9" x2="447.5" y2="448.9" stroke="#000" stroke-width="2.1"/><line x1="70.5" y1="448.9" x2="70.5" y2="455.9" stroke="#000" stroke-width="1.3"/><line x1="70.5" y1="74.3" x2="70.5" y2="67.3" stroke="#000" stroke-width="1.3"/><line x1="58.8" y1="437.2" x2="51.8" y2="437.2" stroke="#000" stroke-width="1.3"/><line x1="433.5" y1="437.2" x2="440.5" y2="437.2" stroke="#000" stroke-width="1.3"/><line x1="82.2" y1="448.9" x2="82.2" y2="455.9" stroke="#000" stroke-width="1.3"/><line x1="82.2" y1="74.3" x2="82.2" y2="67.3" stroke="#000" stroke-width="1.3"/><line x1="58.8" y1="425.5" x2="51.8" y2="425.5" stroke="#000" stroke-width="1.3"/><line x1="433.5" y1="425.5" x2="440.5" y2="425.5" stroke="#000" stroke-width="1.3"/><line x1="93.9" y1="448.9" x2="93.9" y2="455.9" stroke="#000" stroke-width="1.3"/><line x1="93.9" y1="74.3" x2="93.9" y2="67.3" stroke="#000" stroke-width="1.3"/><line x1="58.8" y1="413.8" x2="51.8" y2="413.8" stroke="#000" stroke-width="1.3"/><line x1="433.5" y1="413.8" x2="440.5" y2="413.8" stroke="#000" stroke-width="1.3"/><line x1="105.6" y1="448.9" x2="105.6" y2="455.9" stroke="#000" stroke-width="1.3"/><line x1="105.6" y1="74.3" x2="105.6" y2="67.3" stroke="#000" stroke-width="1.3"/><line x1="58.8" y1="402.1" x2="51.8" y2="402.1" stroke="#000" stroke-width="1.3"/><line x1="433.5" y1="402.1" x2="440.5" y2="402.1" stroke="#000" stroke-width="1.3"/><line x1="117.3" y1="448.9" x2="117.3" y2="455.9" stroke="#000" stroke-width="1.3"/><line x1="117.3" y1="74.3" x2="117.3" y2="67.3" stroke="#000" stroke-width="1.3"/><line x1="58.8" y1="390.4" x2="51.8" y2="390.4" stroke="#000" stroke-width="1.3"/><line x1="433.5" y1="390.4" x2="440.5" y2="390.4" stroke="#000" stroke-width="1.3"/><line x1="129.1" y1="448.9" x2="129.1" y2="455.9" stroke="#000" stroke-width="1.3"/><line x1="129.1" y1="74.3" x2="129.1" y2="67.3" stroke="#000" stroke-width="1.3"/><line x1="58.8" y1="378.7" x2="51.8" y2="378.7" stroke="#000" stroke-width="1.3"/><line x1="433.5" y1="378.7" x2="440.5" y2="378.7" stroke="#000" stroke-width="1.3"/><line x1="140.8" y1="448.9" x2="140.8" y2="455.9" stroke="#000" stroke-width="1.3"/><line x1="140.8" y1="74.3" x2="140.8" y2="67.3" stroke="#000" stroke-width="1.3"/><line x1="58.8" y1="367" x2="51.8" y2="367" stroke="#000" stroke-width="1.3"/><line x1="433.5" y1="367" x2="440.5" y2="367" stroke="#000" stroke-width="1.3"/><line x1="152.5" y1="448.9" x2="152.5" y2="462.9" stroke="#000" stroke-width="2.1"/><line x1="152.5" y1="74.3" x2="152.5" y2="60.3" stroke="#000" stroke-width="2.1"/><line x1="58.8" y1="355.3" x2="44.8" y2="355.3" stroke="#000" stroke-width="2.1"/><line x1="433.5" y1="355.3" x2="447.5" y2="355.3" stroke="#000" stroke-width="2.1"/><line x1="164.2" y1="448.9" x2="164.2" y2="455.9" stroke="#000" stroke-width="1.3"/><line x1="164.2" y1="74.3" x2="164.2" y2="67.3" stroke="#000" stroke-width="1.3"/><line x1="58.8" y1="343.6" x2="51.8" y2="343.6" stroke="#000" stroke-width="1.3"/><line x1="433.5" y1="343.6" x2="440.5" y2="343.6" stroke="#000" stroke-width="1.3"/><line x1="175.9" y1="448.9" x2="175.9" y2="455.9" stroke="#000" stroke-width="1.3"/><line x1="175.9" y1="74.3" x2="175.9" y2="67.3" stroke="#000" stroke-width="1.3"/><line x1="58.8" y1="331.9" x2="51.8" y2="331.9" stroke="#000" stroke-width="1.3"/><line x1="433.5" y1="331.9" x2="440.5" y2="331.9" stroke="#000" stroke-width="1.3"/><line x1="187.6" y1="448.9" x2="187.6" y2="455.9" stroke="#000" stroke-width="1.3"/><line x1="187.6" y1="74.3" x2="187.6" y2="67.3" stroke="#000" stroke-width="1.3"/><line x1="58.8" y1="320.1" x2="51.8" y2="320.1" stroke="#000" stroke-width="1.3"/><line x1="433.5" y1="320.1" x2="440.5" y2="320.1" stroke="#000" stroke-width="1.3"/><line x1="199.3" y1="448.9" x2="199.3" y2="455.9" stroke="#000" stroke-width="1.3"/><line x1="199.3" y1="74.3" x2="199.3" y2="67.3" stroke="#000" stroke-width="1.3"/><line x1="58.8" y1="308.4" x2="51.8" y2="308.4" stroke="#000" stroke-width="1.3"/><line x1="433.5" y1="308.4" x2="440.5" y2="308.4" stroke="#000" stroke-width="1.3"/><line x1="211" y1="448.9" x2="211" y2="455.9" stroke="#000" stroke-width="1.3"/><line x1="211" y1="74.3" x2="211" y2="67.3" stroke="#000" stroke-width="1.3"/><line x1="58.8" y1="296.7" x2="51.8" y2="296.7" stroke="#000" stroke-width="1.3"/><line x1="433.5" y1="296.7" x2="440.5" y2="296.7" stroke="#000" stroke-width="1.3"/><line x1="222.7" y1="448.9" x2="222.7" y2="455.9" stroke="#000" stroke-width="1.3"/><line x1="222.7" y1="74.3" x2="222.7" y2="67.3" stroke="#000" stroke-width="1.3"/><line x1="58.8" y1="285" x2="51.8" y2="285" stroke="#000" stroke-width="1.3"/><line x1="433.5" y1="285" x2="440.5" y2="285" stroke="#000" stroke-width="1.3"/><line x1="234.4" y1="448.9" x2="234.4" y2="455.9" stroke="#000" stroke-width="1.3"/><line x1="234.4" y1="74.3" x2="234.4" y2="67.3" stroke="#000" stroke-width="1.3"/><line x1="58.8" y1="273.3" x2="51.8" y2="273.3" stroke="#000" stroke-width="1.3"/><line x1="433.5" y1="273.3" x2="440.5" y2="273.3" stroke="#000" stroke-width="1.3"/><line x1="246.1" y1="448.9" x2="246.1" y2="462.9" stroke="#000" stroke-width="2.1"/><line x1="246.1" y1="74.3" x2="246.1" y2="60.3" stroke="#000" stroke-width="2.1"/><line x1="58.8" y1="261.6" x2="44.8" y2="261.6" stroke="#000" stroke-width="2.1"/><line x1="433.5" y1="261.6" x2="447.5" y2="261.6" stroke="#000" stroke-width="2.1"/><line x1="257.9" y1="448.9" x2="257.9" y2="455.9" stroke="#000" stroke-width="1.3"/><line x1="257.9" y1="74.3" x2="257.9" y2="67.3" stroke="#000" stroke-width="1.3"/><line x1="58.8" y1="249.9" x2="51.8" y2="249.9" stroke="#000" stroke-width="1.3"/><line x1="433.5" y1="249.9" x2="440.5" y2="249.9" stroke="#000" stroke-width="1.3"/><line x1="269.6" y1="448.9" x2="269.6" y2="455.9" stroke="#000" stroke-width="1.3"/><line x1="269.6" y1="74.3" x2="269.6" y2="67.3" stroke="#000" stroke-width="1.3"/><line x1="58.8" y1="238.2" x2="51.8" y2="238.2" stroke="#000" stroke-width="1.3"/><line x1="433.5" y1="238.2" x2="440.5" y2="238.2" stroke="#000" stroke-width="1.3"/><line x1="281.3" y1="448.9" x2="281.3" y2="455.9" stroke="#000" stroke-width="1.3"/><line x1="281.3" y1="74.3" x2="281.3" y2="67.3" stroke="#000" stroke-width="1.3"/><line x1="58.8" y1="226.5" x2="51.8" y2="226.5" stroke="#000" stroke-width="1.3"/><line x1="433.5" y1="226.5" x2="440.5" y2="226.5" stroke="#000" stroke-width="1.3"/><line x1="293" y1="448.9" x2="293" y2="455.9" stroke="#000" stroke-width="1.3"/><line x1="293" y1="74.3" x2="293" y2="67.3" stroke="#000" stroke-width="1.3"/><line x1="58.8" y1="214.8" x2="51.8" y2="214.8" stroke="#000" stroke-width="1.3"/><line x1="433.5" y1="214.8" x2="440.5" y2="214.8" stroke="#000" stroke-width="1.3"/><line x1="304.7" y1="448.9" x2="304.7" y2="455.9" stroke="#000" stroke-width="1.3"/><line x1="304.7" y1="74.3" x2="304.7" y2="67.3" stroke="#000" stroke-width="1.3"/><line x1="58.8" y1="203.1" x2="51.8" y2="203.1" stroke="#000" stroke-width="1.3"/><line x1="433.5" y1="203.1" x2="440.5" y2="203.1" stroke="#000" stroke-width="1.3"/><line x1="316.4" y1="448.9" x2="316.4" y2="455.9" stroke="#000" stroke-width="1.3"/><line x1="316.4" y1="74.3" x2="316.4" y2="67.3" stroke="#000" stroke-width="1.3"/><line x1="58.8" y1="191.3" x2="51.8" y2="191.3" stroke="#000" stroke-width="1.3"/><line x1="433.5" y1="191.3" x2="440.5" y2="191.3" stroke="#000" stroke-width="1.3"/><line x1="328.1" y1="448.9" x2="328.1" y2="455.9" stroke="#000" stroke-width="1.3"/><line x1="328.1" y1="74.3" x2="328.1" y2="67.3" stroke="#000" stroke-width="1.3"/><line x1="58.8" y1="179.6" x2="51.8" y2="179.6" stroke="#000" stroke-width="1.3"/><line x1="433.5" y1="179.6" x2="440.5" y2="179.6" stroke="#000" stroke-width="1.3"/><line x1="339.8" y1="448.9" x2="339.8" y2="462.9" stroke="#000" stroke-width="2.1"/><line x1="339.8" y1="74.3" x2="339.8" y2="60.3" stroke="#000" stroke-width="2.1"/><line x1="58.8" y1="167.9" x2="44.8" y2="167.9" stroke="#000" stroke-width="2.1"/><line x1="433.5" y1="167.9" x2="447.5" y2="167.9" stroke="#000" stroke-width="2.1"/><line x1="351.5" y1="448.9" x2="351.5" y2="455.9" stroke="#000" stroke-width="1.3"/><line x1="351.5" y1="74.3" x2="351.5" y2="67.3" stroke="#000" stroke-width="1.3"/><line x1="58.8" y1="156.2" x2="51.8" y2="156.2" stroke="#000" stroke-width="1.3"/><line x1="433.5" y1="156.2" x2="440.5" y2="156.2" stroke="#000" stroke-width="1.3"/><line x1="363.2" y1="448.9" x2="363.2" y2="455.9" stroke="#000" stroke-width="1.3"/><line x1="363.2" y1="74.3" x2="363.2" y2="67.3" stroke="#000" stroke-width="1.3"/><line x1="58.8" y1="144.5" x2="51.8" y2="144.5" stroke="#000" stroke-width="1.3"/><line x1="433.5" y1="144.5" x2="440.5" y2="144.5" stroke="#000" stroke-width="1.3"/><line x1="375" y1="448.9" x2="375" y2="455.9" stroke="#000" stroke-width="1.3"/><line x1="375" y1="74.3" x2="375" y2="67.3" stroke="#000" stroke-width="1.3"/><line x1="58.8" y1="132.8" x2="51.8" y2="132.8" stroke="#000" stroke-width="1.3"/><line x1="433.5" y1="132.8" x2="440.5" y2="132.8" stroke="#000" stroke-width="1.3"/><line x1="386.7" y1="448.9" x2="386.7" y2="455.9" stroke="#000" stroke-width="1.3"/><line x1="386.7" y1="74.3" x2="386.7" y2="67.3" stroke="#000" stroke-width="1.3"/><line x1="58.8" y1="121.1" x2="51.8" y2="121.1" stroke="#000" stroke-width="1.3"/><line x1="433.5" y1="121.1" x2="440.5" y2="121.1" stroke="#000" stroke-width="1.3"/><line x1="398.4" y1="448.9" x2="398.4" y2="455.9" stroke="#000" stroke-width="1.3"/><line x1="398.4" y1="74.3" x2="398.4" y2="67.3" stroke="#000" stroke-width="1.3"/><line x1="58.8" y1="109.4" x2="51.8" y2="109.4" stroke="#000" stroke-width="1.3"/><line x1="433.5" y1="109.4" x2="440.5" y2="109.4" stroke="#000" stroke-width="1.3"/><line x1="410.1" y1="448.9" x2="410.1" y2="455.9" stroke="#000" stroke-width="1.3"/><line x1="410.1" y1="74.3" x2="410.1" y2="67.3" stroke="#000" stroke-width="1.3"/><line x1="58.8" y1="97.7" x2="51.8" y2="97.7" stroke="#000" stroke-width="1.3"/><line x1="433.5" y1="97.7" x2="440.5" y2="97.7" stroke="#000" stroke-width="1.3"/><line x1="421.8" y1="448.9" x2="421.8" y2="455.9" stroke="#000" stroke-width="1.3"/><line x1="421.8" y1="74.3" x2="421.8" y2="67.3" stroke="#000" stroke-width="1.3"/><line x1="58.8" y1="86" x2="51.8" y2="86" stroke="#000" stroke-width="1.3"/><line x1="433.5" y1="86" x2="440.5" y2="86" stroke="#000" stroke-width="1.3"/><line x1="433.5" y1="448.9" x2="433.5" y2="462.9" stroke="#000" stroke-width="2.1"/><line x1="433.5" y1="74.3" x2="433.5" y2="60.3" stroke="#000" stroke-width="2.1"/><line x1="58.8" y1="74.2" x2="44.8" y2="74.2" stroke="#000" stroke-width="2.1"/><line x1="433.5" y1="74.2" x2="447.5" y2="74.2" stroke="#000" stroke-width="2.1"/><rect x="58.8" y="74.3" width="374.7" height="374.6" fill="none" stroke="#000" stroke-width="2.1"/><text x="57.8" y="500" text-anchor="middle" font-family="Liberation Sans" font-weight="bold" font-size="30.3" letter-spacing="-2">−8</text><text x="29.2" y="459.6" text-anchor="end" font-family="Liberation Sans" font-weight="bold" font-size="30.3" letter-spacing="-2">−8</text><text x="151.5" y="500" text-anchor="middle" font-family="Liberation Sans" font-weight="bold" font-size="30.3" letter-spacing="-2">−4</text><text x="29.2" y="365.9" text-anchor="end" font-family="Liberation Sans" font-weight="bold" font-size="30.3" letter-spacing="-2">−4</text><text x="246.1" y="500" text-anchor="middle" font-family="Liberation Sans" font-weight="bold" font-size="30.3">0</text><text x="31.2" y="272.2" text-anchor="end" font-family="Liberation Sans" font-weight="bold" font-size="30.3">0</text><text x="339.8" y="500" text-anchor="middle" font-family="Liberation Sans" font-weight="bold" font-size="30.3">4</text><text x="31.2" y="178.5" text-anchor="end" font-family="Liberation Sans" font-weight="bold" font-size="30.3">4</text><text x="433.5" y="500" text-anchor="middle" font-family="Liberation Sans" font-weight="bold" font-size="30.3">8</text><text x="31.2" y="84.8" text-anchor="end" font-family="Liberation Sans" font-weight="bold" font-size="30.3">8</text><line x1="480.1" y1="448.9" x2="480.1" y2="462.9" stroke="#000" stroke-width="2.1"/><line x1="480.1" y1="74.3" x2="480.1" y2="60.3" stroke="#000" stroke-width="2.1"/><line x1="480.1" y1="448.9" x2="466.1" y2="448.9" stroke="#000" stroke-width="2.1"/><line x1="854.8" y1="448.9" x2="868.8" y2="448.9" stroke="#000" stroke-width="2.1"/><line x1="491.9" y1="448.9" x2="491.9" y2="455.9" stroke="#000" stroke-width="1.3"/><line x1="491.9" y1="74.3" x2="491.9" y2="67.3" stroke="#000" stroke-width="1.3"/><line x1="480.1" y1="437.2" x2="473.1" y2="437.2" stroke="#000" stroke-width="1.3"/><line x1="854.8" y1="437.2" x2="861.8" y2="437.2" stroke="#000" stroke-width="1.3"/><line x1="503.6" y1="448.9" x2="503.6" y2="455.9" stroke="#000" stroke-width="1.3"/><line x1="503.6" y1="74.3" x2="503.6" y2="67.3" stroke="#000" stroke-width="1.3"/><line x1="480.1" y1="425.5" x2="473.1" y2="425.5" stroke="#000" stroke-width="1.3"/><line x1="854.8" y1="425.5" x2="861.8" y2="425.5" stroke="#000" stroke-width="1.3"/><line x1="515.3" y1="448.9" x2="515.3" y2="455.9" stroke="#000" stroke-width="1.3"/><line x1="515.3" y1="74.3" x2="515.3" y2="67.3" stroke="#000" stroke-width="1.3"/><line x1="480.1" y1="413.8" x2="473.1" y2="413.8" stroke="#000" stroke-width="1.3"/><line x1="854.8" y1="413.8" x2="861.8" y2="413.8" stroke="#000" stroke-width="1.3"/><line x1="527" y1="448.9" x2="527" y2="455.9" stroke="#000" stroke-width="1.3"/><line x1="527" y1="74.3" x2="527" y2="67.3" stroke="#000" stroke-width="1.3"/><line x1="480.1" y1="402.1" x2="473.1" y2="402.1" stroke="#000" stroke-width="1.3"/><line x1="854.8" y1="402.1" x2="861.8" y2="402.1" stroke="#000" stroke-width="1.3"/><line x1="538.7" y1="448.9" x2="538.7" y2="455.9" stroke="#000" stroke-width="1.3"/><line x1="538.7" y1="74.3" x2="538.7" y2="67.3" stroke="#000" stroke-width="1.3"/><line x1="480.1" y1="390.4" x2="473.1" y2="390.4" stroke="#000" stroke-width="1.3"/><line x1="854.8" y1="390.4" x2="861.8" y2="390.4" stroke="#000" stroke-width="1.3"/><line x1="550.4" y1="448.9" x2="550.4" y2="455.9" stroke="#000" stroke-width="1.3"/><line x1="550.4" y1="74.3" x2="550.4" y2="67.3" stroke="#000" stroke-width="1.3"/><line x1="480.1" y1="378.7" x2="473.1" y2="378.7" stroke="#000" stroke-width="1.3"/><line x1="854.8" y1="378.7" x2="861.8" y2="378.7" stroke="#000" stroke-width="1.3"/><line x1="562.1" y1="448.9" x2="562.1" y2="455.9" stroke="#000" stroke-width="1.3"/><line x1="562.1" y1="74.3" x2="562.1" y2="67.3" stroke="#000" stroke-width="1.3"/><line x1="480.1" y1="367" x2="473.1" y2="367" stroke="#000" stroke-width="1.3"/><line x1="854.8" y1="367" x2="861.8" y2="367" stroke="#000" stroke-width="1.3"/><line x1="573.8" y1="448.9" x2="573.8" y2="462.9" stroke="#000" stroke-width="2.1"/><line x1="573.8" y1="74.3" x2="573.8" y2="60.3" stroke="#000" stroke-width="2.1"/><line x1="480.1" y1="355.3" x2="466.1" y2="355.3" stroke="#000" stroke-width="2.1"/><line x1="854.8" y1="355.3" x2="868.8" y2="355.3" stroke="#000" stroke-width="2.1"/><line x1="585.5" y1="448.9" x2="585.5" y2="455.9" stroke="#000" stroke-width="1.3"/><line x1="585.5" y1="74.3" x2="585.5" y2="67.3" stroke="#000" stroke-width="1.3"/><line x1="480.1" y1="343.6" x2="473.1" y2="343.6" stroke="#000" stroke-width="1.3"/><line x1="854.8" y1="343.6" x2="861.8" y2="343.6" stroke="#000" stroke-width="1.3"/><line x1="597.2" y1="448.9" x2="597.2" y2="455.9" stroke="#000" stroke-width="1.3"/><line x1="597.2" y1="74.3" x2="597.2" y2="67.3" stroke="#000" stroke-width="1.3"/><line x1="480.1" y1="331.9" x2="473.1" y2="331.9" stroke="#000" stroke-width="1.3"/><line x1="854.8" y1="331.9" x2="861.8" y2="331.9" stroke="#000" stroke-width="1.3"/><line x1="609" y1="448.9" x2="609" y2="455.9" stroke="#000" stroke-width="1.3"/><line x1="609" y1="74.3" x2="609" y2="67.3" stroke="#000" stroke-width="1.3"/><line x1="480.1" y1="320.1" x2="473.1" y2="320.1" stroke="#000" stroke-width="1.3"/><line x1="854.8" y1="320.1" x2="861.8" y2="320.1" stroke="#000" stroke-width="1.3"/><line x1="620.7" y1="448.9" x2="620.7" y2="455.9" stroke="#000" stroke-width="1.3"/><line x1="620.7" y1="74.3" x2="620.7" y2="67.3" stroke="#000" stroke-width="1.3"/><line x1="480.1" y1="308.4" x2="473.1" y2="308.4" stroke="#000" stroke-width="1.3"/><line x1="854.8" y1="308.4" x2="861.8" y2="308.4" stroke="#000" stroke-width="1.3"/><line x1="632.4" y1="448.9" x2="632.4" y2="455.9" stroke="#000" stroke-width="1.3"/><line x1="632.4" y1="74.3" x2="632.4" y2="67.3" stroke="#000" stroke-width="1.3"/><line x1="480.1" y1="296.7" x2="473.1" y2="296.7" stroke="#000" stroke-width="1.3"/><line x1="854.8" y1="296.7" x2="861.8" y2="296.7" stroke="#000" stroke-width="1.3"/><line x1="644.1" y1="448.9" x2="644.1" y2="455.9" stroke="#000" stroke-width="1.3"/><line x1="644.1" y1="74.3" x2="644.1" y2="67.3" stroke="#000" stroke-width="1.3"/><line x1="480.1" y1="285" x2="473.1" y2="285" stroke="#000" stroke-width="1.3"/><line x1="854.8" y1="285" x2="861.8" y2="285" stroke="#000" stroke-width="1.3"/><line x1="655.8" y1="448.9" x2="655.8" y2="455.9" stroke="#000" stroke-width="1.3"/><line x1="655.8" y1="74.3" x2="655.8" y2="67.3" stroke="#000" stroke-width="1.3"/><line x1="480.1" y1="273.3" x2="473.1" y2="273.3" stroke="#000" stroke-width="1.3"/><line x1="854.8" y1="273.3" x2="861.8" y2="273.3" stroke="#000" stroke-width="1.3"/><line x1="667.5" y1="448.9" x2="667.5" y2="462.9" stroke="#000" stroke-width="2.1"/><line x1="667.5" y1="74.3" x2="667.5" y2="60.3" stroke="#000" stroke-width="2.1"/><line x1="480.1" y1="261.6" x2="466.1" y2="261.6" stroke="#000" stroke-width="2.1"/><line x1="854.8" y1="261.6" x2="868.8" y2="261.6" stroke="#000" stroke-width="2.1"/><line x1="679.2" y1="448.9" x2="679.2" y2="455.9" stroke="#000" stroke-width="1.3"/><line x1="679.2" y1="74.3" x2="679.2" y2="67.3" stroke="#000" stroke-width="1.3"/><line x1="480.1" y1="249.9" x2="473.1" y2="249.9" stroke="#000" stroke-width="1.3"/><line x1="854.8" y1="249.9" x2="861.8" y2="249.9" stroke="#000" stroke-width="1.3"/><line x1="690.9" y1="448.9" x2="690.9" y2="455.9" stroke="#000" stroke-width="1.3"/><line x1="690.9" y1="74.3" x2="690.9" y2="67.3" stroke="#000" stroke-width="1.3"/><line x1="480.1" y1="238.2" x2="473.1" y2="238.2" stroke="#000" stroke-width="1.3"/><line x1="854.8" y1="238.2" x2="861.8" y2="238.2" stroke="#000" stroke-width="1.3"/><line x1="702.6" y1="448.9" x2="702.6" y2="455.9" stroke="#000" stroke-width="1.3"/><line x1="702.6" y1="74.3" x2="702.6" y2="67.3" stroke="#000" stroke-width="1.3"/><line x1="480.1" y1="226.5" x2="473.1" y2="226.5" stroke="#000" stroke-width="1.3"/><line x1="854.8" y1="226.5" x2="861.8" y2="226.5" stroke="#000" stroke-width="1.3"/><line x1="714.3" y1="448.9" x2="714.3" y2="455.9" stroke="#000" stroke-width="1.3"/><line x1="714.3" y1="74.3" x2="714.3" y2="67.3" stroke="#000" stroke-width="1.3"/><line x1="480.1" y1="214.8" x2="473.1" y2="214.8" stroke="#000" stroke-width="1.3"/><line x1="854.8" y1="214.8" x2="861.8" y2="214.8" stroke="#000" stroke-width="1.3"/><line x1="726" y1="448.9" x2="726" y2="455.9" stroke="#000" stroke-width="1.3"/><line x1="726" y1="74.3" x2="726" y2="67.3" stroke="#000" stroke-width="1.3"/><line x1="480.1" y1="203.1" x2="473.1" y2="203.1" stroke="#000" stroke-width="1.3"/><line x1="854.8" y1="203.1" x2="861.8" y2="203.1" stroke="#000" stroke-width="1.3"/><line x1="737.8" y1="448.9" x2="737.8" y2="455.9" stroke="#000" stroke-width="1.3"/><line x1="737.8" y1="74.3" x2="737.8" y2="67.3" stroke="#000" stroke-width="1.3"/><line x1="480.1" y1="191.3" x2="473.1" y2="191.3" stroke="#000" stroke-width="1.3"/><line x1="854.8" y1="191.3" x2="861.8" y2="191.3" stroke="#000" stroke-width="1.3"/><line x1="749.5" y1="448.9" x2="749.5" y2="455.9" stroke="#000" stroke-width="1.3"/><line x1="749.5" y1="74.3" x2="749.5" y2="67.3" stroke="#000" stroke-width="1.3"/><line x1="480.1" y1="179.6" x2="473.1" y2="179.6" stroke="#000" stroke-width="1.3"/><line x1="854.8" y1="179.6" x2="861.8" y2="179.6" stroke="#000" stroke-width="1.3"/><line x1="761.2" y1="448.9" x2="761.2" y2="462.9" stroke="#000" stroke-width="2.1"/><line x1="761.2" y1="74.3" x2="761.2" y2="60.3" stroke="#000" stroke-width="2.1"/><line x1="480.1" y1="167.9" x2="466.1" y2="167.9" stroke="#000" stroke-width="2.1"/><line x1="854.8" y1="167.9" x2="868.8" y2="167.9" stroke="#000" stroke-width="2.1"/><line x1="772.9" y1="448.9" x2="772.9" y2="455.9" stroke="#000" stroke-width="1.3"/><line x1="772.9" y1="74.3" x2="772.9" y2="67.3" stroke="#000" stroke-width="1.3"/><line x1="480.1" y1="156.2" x2="473.1" y2="156.2" stroke="#000" stroke-width="1.3"/><line x1="854.8" y1="156.2" x2="861.8" y2="156.2" stroke="#000" stroke-width="1.3"/><line x1="784.6" y1="448.9" x2="784.6" y2="455.9" stroke="#000" stroke-width="1.3"/><line x1="784.6" y1="74.3" x2="784.6" y2="67.3" stroke="#000" stroke-width="1.3"/><line x1="480.1" y1="144.5" x2="473.1" y2="144.5" stroke="#000" stroke-width="1.3"/><line x1="854.8" y1="144.5" x2="861.8" y2="144.5" stroke="#000" stroke-width="1.3"/><line x1="796.3" y1="448.9" x2="796.3" y2="455.9" stroke="#000" stroke-width="1.3"/><line x1="796.3" y1="74.3" x2="796.3" y2="67.3" stroke="#000" stroke-width="1.3"/><line x1="480.1" y1="132.8" x2="473.1" y2="132.8" stroke="#000" stroke-width="1.3"/><line x1="854.8" y1="132.8" x2="861.8" y2="132.8" stroke="#000" stroke-width="1.3"/><line x1="808" y1="448.9" x2="808" y2="455.9" stroke="#000" stroke-width="1.3"/><line x1="808" y1="74.3" x2="808" y2="67.3" stroke="#000" stroke-width="1.3"/><line x1="480.1" y1="121.1" x2="473.1" y2="121.1" stroke="#000" stroke-width="1.3"/><line x1="854.8" y1="121.1" x2="861.8" y2="121.1" stroke="#000" stroke-width="1.3"/><line x1="819.7" y1="448.9" x2="819.7" y2="455.9" stroke="#000" stroke-width="1.3"/><line x1="819.7" y1="74.3" x2="819.7" y2="67.3" stroke="#000" stroke-width="1.3"/><line x1="480.1" y1="109.4" x2="473.1" y2="109.4" stroke="#000" stroke-width="1.3"/><line x1="854.8" y1="109.4" x2="861.8" y2="109.4" stroke="#000" stroke-width="1.3"/><line x1="831.4" y1="448.9" x2="831.4" y2="455.9" stroke="#000" stroke-width="1.3"/><line x1="831.4" y1="74.3" x2="831.4" y2="67.3" stroke="#000" stroke-width="1.3"/><line x1="480.1" y1="97.7" x2="473.1" y2="97.7" stroke="#000" stroke-width="1.3"/><line x1="854.8" y1="97.7" x2="861.8" y2="97.7" stroke="#000" stroke-width="1.3"/><line x1="843.1" y1="448.9" x2="843.1" y2="455.9" stroke="#000" stroke-width="1.3"/><line x1="843.1" y1="74.3" x2="843.1" y2="67.3" stroke="#000" stroke-width="1.3"/><line x1="480.1" y1="86" x2="473.1" y2="86" stroke="#000" stroke-width="1.3"/><line x1="854.8" y1="86" x2="861.8" y2="86" stroke="#000" stroke-width="1.3"/><line x1="854.8" y1="448.9" x2="854.8" y2="462.9" stroke="#000" stroke-width="2.1"/><line x1="854.8" y1="74.3" x2="854.8" y2="60.3" stroke="#000" stroke-width="2.1"/><line x1="480.1" y1="74.2" x2="466.1" y2="74.2" stroke="#000" stroke-width="2.1"/><line x1="854.8" y1="74.2" x2="868.8" y2="74.2" stroke="#000" stroke-width="2.1"/><rect x="480.1" y="74.3" width="374.7" height="374.6" fill="none" stroke="#000" stroke-width="2.1"/><text x="479.1" y="500" text-anchor="middle" font-family="Liberation Sans" font-weight="bold" font-size="30.3" letter-spacing="-2">−8</text><text x="572.8" y="500" text-anchor="middle" font-family="Liberation Sans" font-weight="bold" font-size="30.3" letter-spacing="-2">−4</text><text x="667.5" y="500" text-anchor="middle" font-family="Liberation Sans" font-weight="bold" font-size="30.3">0</text><text x="761.2" y="500" text-anchor="middle" font-family="Liberation Sans" font-weight="bold" font-size="30.3">4</text><text x="854.8" y="500" text-anchor="middle" font-family="Liberation Sans" font-weight="bold" font-size="30.3">8</text><rect x="59" y="508.6" width="328.3" height="11.4" fill="#000"/><rect x="59.8" y="510.2" width="7.5" height="8.4" fill="#000"/><rect x="68.9" y="510.2" width="7.5" height="8.4" fill="#000"/><rect x="78" y="510.2" width="7.5" height="8.4" fill="#000"/><rect x="87.2" y="510.2" width="7.5" height="8.4" fill="#000"/><rect x="96.3" y="510.2" width="7.5" height="8.4" fill="#000"/><rect x="105.4" y="510.2" width="7.5" height="8.4" fill="#000"/><rect x="114.5" y="510.2" width="7.5" height="8.4" fill="#000"/><rect x="123.6" y="510.2" width="7.5" height="8.4" fill="#000"/><rect x="132.8" y="510.2" width="7.5" height="8.4" fill="#000"/><rect x="141.9" y="510.2" width="7.5" height="8.4" fill="#000"/><rect x="151" y="510.2" width="7.5" height="8.4" fill="#0a0a0a"/><rect x="160.1" y="510.2" width="7.5" height="8.4" fill="#141414"/><rect x="169.2" y="510.2" width="7.5" height="8.4" fill="#1d1d1d"/><rect x="178.4" y="510.2" width="7.5" height="8.4" fill="#272727"/><rect x="187.5" y="510.2" width="7.5" height="8.4" fill="#303030"/><rect x="196.6" y="510.2" width="7.5" height="8.4" fill="#3a3a3a"/><rect x="205.7" y="510.2" width="7.5" height="8.4" fill="#434343"/><rect x="214.8" y="510.2" width="7.5" height="8.4" fill="#4d4d4d"/><rect x="224" y="510.2" width="7.5" height="8.4" fill="#565656"/><rect x="233.1" y="510.2" width="7.5" height="8.4" fill="#606060"/><rect x="242.2" y="510.2" width="7.5" height="8.4" fill="#696969"/><rect x="251.3" y="510.2" width="7.5" height="8.4" fill="#737373"/><rect x="260.4" y="510.2" width="7.5" height="8.4" fill="#7c7c7c"/><rect x="269.5" y="510.2" width="7.5" height="8.4" fill="#868686"/><rect x="278.7" y="510.2" width="7.5" height="8.4" fill="#8f8f8f"/><rect x="287.8" y="510.2" width="7.5" height="8.4" fill="#999999"/><rect x="296.9" y="510.2" width="7.5" height="8.4" fill="#a2a2a2"/><rect x="306" y="510.2" width="7.5" height="8.4" fill="#acacac"/><rect x="315.1" y="510.2" width="7.5" height="8.4" fill="#b5b5b5"/><rect x="324.3" y="510.2" width="7.5" height="8.4" fill="#bfbfbf"/><rect x="333.4" y="510.2" width="7.5" height="8.4" fill="#c8c8c8"/><rect x="342.5" y="510.2" width="7.5" height="8.4" fill="#d2d2d2"/><rect x="351.6" y="510.2" width="7.5" height="8.4" fill="#dbdbdb"/><rect x="360.7" y="510.2" width="7.5" height="8.4" fill="#e5e5e5"/><rect x="369.9" y="510.2" width="7.5" height="8.4" fill="#eeeeee"/><rect x="379" y="510.2" width="7.5" height="8.4" fill="#f8f8f8"/><polygon points="387.3,508.6 395.9,514.3 387.3,520" fill="#ffff00" stroke="#000" stroke-width="1.8" stroke-linejoin="miter"/><line x1="59" y1="520" x2="59" y2="526.3" stroke="#000" stroke-width="1.4"/><line x1="68.1" y1="520" x2="68.1" y2="526.3" stroke="#000" stroke-width="1.4"/><line x1="77.2" y1="520" x2="77.2" y2="526.3" stroke="#000" stroke-width="1.4"/><line x1="86.4" y1="520" x2="86.4" y2="526.3" stroke="#000" stroke-width="1.4"/><line x1="95.5" y1="520" x2="95.5" y2="526.3" stroke="#000" stroke-width="1.4"/><line x1="104.6" y1="520" x2="104.6" y2="526.3" stroke="#000" stroke-width="1.4"/><line x1="113.7" y1="520" x2="113.7" y2="526.3" stroke="#000" stroke-width="1.4"/><line x1="122.8" y1="520" x2="122.8" y2="526.3" stroke="#000" stroke-width="1.4"/><line x1="132" y1="520" x2="132" y2="526.3" stroke="#000" stroke-width="1.4"/><line x1="141.1" y1="520" x2="141.1" y2="526.3" stroke="#000" stroke-width="1.4"/><line x1="150.2" y1="520" x2="150.2" y2="526.3" stroke="#000" stroke-width="1.4"/><line x1="159.3" y1="520" x2="159.3" y2="526.3" stroke="#000" stroke-width="1.4"/><line x1="168.4" y1="520" x2="168.4" y2="526.3" stroke="#000" stroke-width="1.4"/><line x1="177.6" y1="520" x2="177.6" y2="526.3" stroke="#000" stroke-width="1.4"/><line x1="186.7" y1="520" x2="186.7" y2="526.3" stroke="#000" stroke-width="1.4"/><line x1="195.8" y1="520" x2="195.8" y2="526.3" stroke="#000" stroke-width="1.4"/><line x1="204.9" y1="520" x2="204.9" y2="526.3" stroke="#000" stroke-width="1.4"/><line x1="214" y1="520" x2="214" y2="526.3" stroke="#000" stroke-width="1.4"/><line x1="223.2" y1="520" x2="223.2" y2="526.3" stroke="#000" stroke-width="1.4"/><line x1="232.3" y1="520" x2="232.3" y2="526.3" stroke="#000" stroke-width="1.4"/><line x1="241.4" y1="520" x2="241.4" y2="526.3" stroke="#000" stroke-width="1.4"/><line x1="250.5" y1="520" x2="250.5" y2="526.3" stroke="#000" stroke-width="1.4"/><line x1="259.6" y1="520" x2="259.6" y2="526.3" stroke="#000" stroke-width="1.4"/><line x1="268.7" y1="520" x2="268.7" y2="526.3" stroke="#000" stroke-width="1.4"/><line x1="277.9" y1="520" x2="277.9" y2="526.3" stroke="#000" stroke-width="1.4"/><line x1="287" y1="520" x2="287" y2="526.3" stroke="#000" stroke-width="1.4"/><line x1="296.1" y1="520" x2="296.1" y2="526.3" stroke="#000" stroke-width="1.4"/><line x1="305.2" y1="520" x2="305.2" y2="526.3" stroke="#000" stroke-width="1.4"/><line x1="314.3" y1="520" x2="314.3" y2="526.3" stroke="#000" stroke-width="1.4"/><line x1="323.5" y1="520" x2="323.5" y2="526.3" stroke="#000" stroke-width="1.4"/><line x1="332.6" y1="520" x2="332.6" y2="526.3" stroke="#000" stroke-width="1.4"/><line x1="341.7" y1="520" x2="341.7" y2="526.3" stroke="#000" stroke-width="1.4"/><line x1="350.8" y1="520" x2="350.8" y2="526.3" stroke="#000" stroke-width="1.4"/><line x1="359.9" y1="520" x2="359.9" y2="526.3" stroke="#000" stroke-width="1.4"/><line x1="369.1" y1="520" x2="369.1" y2="526.3" stroke="#000" stroke-width="1.4"/><line x1="378.2" y1="520" x2="378.2" y2="526.3" stroke="#000" stroke-width="1.4"/><line x1="387.3" y1="520" x2="387.3" y2="526.3" stroke="#000" stroke-width="1.4"/><line x1="59" y1="520" x2="59" y2="533.6" stroke="#000" stroke-width="2.1"/><line x1="104.6" y1="520" x2="104.6" y2="533.6" stroke="#000" stroke-width="2.1"/><line x1="150.2" y1="520" x2="150.2" y2="533.6" stroke="#000" stroke-width="2.1"/><line x1="195.8" y1="520" x2="195.8" y2="533.6" stroke="#000" stroke-width="2.1"/><line x1="241.4" y1="520" x2="241.4" y2="533.6" stroke="#000" stroke-width="2.1"/><line x1="287" y1="520" x2="287" y2="533.6" stroke="#000" stroke-width="2.1"/><line x1="332.6" y1="520" x2="332.6" y2="533.6" stroke="#000" stroke-width="2.1"/><line x1="378.2" y1="520" x2="378.2" y2="533.6" stroke="#000" stroke-width="2.1"/><text x="59" y="570.4" text-anchor="middle" font-family="Liberation Sans" font-weight="bold" font-size="30.3">0</text><text x="104.1" y="570.4" text-anchor="middle" font-family="Liberation Sans" font-weight="bold" font-size="30.3" letter-spacing="-1">2.5</text><text x="150.2" y="570.4" text-anchor="middle" font-family="Liberation Sans" font-weight="bold" font-size="30.3">5</text><text x="195.3" y="570.4" text-anchor="middle" font-family="Liberation Sans" font-weight="bold" font-size="30.3" letter-spacing="-1">7.5</text><text x="240.9" y="570.4" text-anchor="middle" font-family="Liberation Sans" font-weight="bold" font-size="30.3" letter-spacing="-1">10</text><text x="286.5" y="570.4" text-anchor="middle" font-family="Liberation Sans" font-weight="bold" font-size="30.3" letter-spacing="-1">12.5</text><text x="332.1" y="570.4" text-anchor="middle" font-family="Liberation Sans" font-weight="bold" font-size="30.3" letter-spacing="-1">15</text><text x="377.7" y="570.4" text-anchor="middle" font-family="Liberation Sans" font-weight="bold" font-size="30.3" letter-spacing="-1">17.5</text><rect x="480.4" y="508.6" width="327.5" height="11.4" fill="#000"/><rect x="481.2" y="510.2" width="7" height="8.4" fill="#d8ffff"/><rect x="489.8" y="510.2" width="7" height="8.4" fill="#b8ffff"/><rect x="498.4" y="510.2" width="7" height="8.4" fill="#a0ffff"/><rect x="507.1" y="510.2" width="7" height="8.4" fill="#80fcf8"/><rect x="515.7" y="510.2" width="7" height="8.4" fill="#60f8f8"/><rect x="524.3" y="510.2" width="7" height="8.4" fill="#40e0f8"/><rect x="532.9" y="510.2" width="7" height="8.4" fill="#30c0ff"/><rect x="541.5" y="510.2" width="7" height="8.4" fill="#20a8ff"/><rect x="550.1" y="510.2" width="7" height="8.4" fill="#1890ff"/><rect x="558.8" y="510.2" width="7" height="8.4" fill="#0080ff"/><rect x="567.4" y="510.2" width="7" height="8.4" fill="#0070ff"/><rect x="576" y="510.2" width="7" height="8.4" fill="#0050ff"/><rect x="584.6" y="510.2" width="7" height="8.4" fill="#0020ff"/><rect x="593.2" y="510.2" width="7" height="8.4" fill="#0000f8"/><rect x="601.9" y="510.2" width="7" height="8.4" fill="#0000e0"/><rect x="610.5" y="510.2" width="7" height="8.4" fill="#0000c0"/><rect x="619.1" y="510.2" width="7" height="8.4" fill="#0000a0"/><rect x="627.7" y="510.2" width="7" height="8.4" fill="#000080"/><rect x="636.3" y="510.2" width="7" height="8.4" fill="#000050"/><rect x="644.9" y="510.2" width="7" height="8.4" fill="#e80000"/><rect x="653.6" y="510.2" width="7" height="8.4" fill="#ff1000"/><rect x="662.2" y="510.2" width="7" height="8.4" fill="#ff3000"/><rect x="670.8" y="510.2" width="7" height="8.4" fill="#ff4000"/><rect x="679.4" y="510.2" width="7" height="8.4" fill="#ff6000"/><rect x="688" y="510.2" width="7" height="8.4" fill="#ff7800"/><rect x="696.7" y="510.2" width="7" height="8.4" fill="#ff8800"/><rect x="705.3" y="510.2" width="7" height="8.4" fill="#ffa010"/><rect x="713.9" y="510.2" width="7" height="8.4" fill="#ffb020"/><rect x="722.5" y="510.2" width="7" height="8.4" fill="#ffc030"/><rect x="731.1" y="510.2" width="7" height="8.4" fill="#ffd040"/><rect x="739.8" y="510.2" width="7" height="8.4" fill="#ffff40"/><rect x="748.4" y="510.2" width="7" height="8.4" fill="#fff850"/><rect x="757" y="510.2" width="7" height="8.4" fill="#fff860"/><rect x="765.6" y="510.2" width="7" height="8.4" fill="#fff880"/><rect x="774.2" y="510.2" width="7" height="8.4" fill="#fff8a0"/><rect x="782.8" y="510.2" width="7" height="8.4" fill="#fff8b0"/><rect x="791.5" y="510.2" width="7" height="8.4" fill="#fff8c8"/><rect x="800.1" y="510.2" width="7" height="8.4" fill="#fffae0"/><polygon points="807.9,508.6 816.5,514.3 807.9,520" fill="#fffff0" stroke="#000" stroke-width="1.8" stroke-linejoin="miter"/><polygon points="480.4,508.6 471.8,514.3 480.4,520" fill="#e8ffff" stroke="#000" stroke-width="1.8" stroke-linejoin="miter"/><line x1="480.4" y1="520" x2="480.4" y2="526.3" stroke="#000" stroke-width="1.4"/><line x1="489" y1="520" x2="489" y2="526.3" stroke="#000" stroke-width="1.4"/><line x1="497.6" y1="520" x2="497.6" y2="526.3" stroke="#000" stroke-width="1.4"/><line x1="506.3" y1="520" x2="506.3" y2="526.3" stroke="#000" stroke-width="1.4"/><line x1="514.9" y1="520" x2="514.9" y2="526.3" stroke="#000" stroke-width="1.4"/><line x1="523.5" y1="520" x2="523.5" y2="526.3" stroke="#000" stroke-width="1.4"/><line x1="532.1" y1="520" x2="532.1" y2="526.3" stroke="#000" stroke-width="1.4"/><line x1="540.7" y1="520" x2="540.7" y2="526.3" stroke="#000" stroke-width="1.4"/><line x1="549.3" y1="520" x2="549.3" y2="526.3" stroke="#000" stroke-width="1.4"/><line x1="558" y1="520" x2="558" y2="526.3" stroke="#000" stroke-width="1.4"/><line x1="566.6" y1="520" x2="566.6" y2="526.3" stroke="#000" stroke-width="1.4"/><line x1="575.2" y1="520" x2="575.2" y2="526.3" stroke="#000" stroke-width="1.4"/><line x1="583.8" y1="520" x2="583.8" y2="526.3" stroke="#000" stroke-width="1.4"/><line x1="592.4" y1="520" x2="592.4" y2="526.3" stroke="#000" stroke-width="1.4"/><line x1="601.1" y1="520" x2="601.1" y2="526.3" stroke="#000" stroke-width="1.4"/><line x1="609.7" y1="520" x2="609.7" y2="526.3" stroke="#000" stroke-width="1.4"/><line x1="618.3" y1="520" x2="618.3" y2="526.3" stroke="#000" stroke-width="1.4"/><line x1="626.9" y1="520" x2="626.9" y2="526.3" stroke="#000" stroke-width="1.4"/><line x1="635.5" y1="520" x2="635.5" y2="526.3" stroke="#000" stroke-width="1.4"/><line x1="644.1" y1="520" x2="644.1" y2="526.3" stroke="#000" stroke-width="1.4"/><line x1="652.8" y1="520" x2="652.8" y2="526.3" stroke="#000" stroke-width="1.4"/><line x1="661.4" y1="520" x2="661.4" y2="526.3" stroke="#000" stroke-width="1.4"/><line x1="670" y1="520" x2="670" y2="526.3" stroke="#000" stroke-width="1.4"/><line x1="678.6" y1="520" x2="678.6" y2="526.3" stroke="#000" stroke-width="1.4"/><line x1="687.2" y1="520" x2="687.2" y2="526.3" stroke="#000" stroke-width="1.4"/><line x1="695.9" y1="520" x2="695.9" y2="526.3" stroke="#000" stroke-width="1.4"/><line x1="704.5" y1="520" x2="704.5" y2="526.3" stroke="#000" stroke-width="1.4"/><line x1="713.1" y1="520" x2="713.1" y2="526.3" stroke="#000" stroke-width="1.4"/><line x1="721.7" y1="520" x2="721.7" y2="526.3" stroke="#000" stroke-width="1.4"/><line x1="730.3" y1="520" x2="730.3" y2="526.3" stroke="#000" stroke-width="1.4"/><line x1="739" y1="520" x2="739" y2="526.3" stroke="#000" stroke-width="1.4"/><line x1="747.6" y1="520" x2="747.6" y2="526.3" stroke="#000" stroke-width="1.4"/><line x1="756.2" y1="520" x2="756.2" y2="526.3" stroke="#000" stroke-width="1.4"/><line x1="764.8" y1="520" x2="764.8" y2="526.3" stroke="#000" stroke-width="1.4"/><line x1="773.4" y1="520" x2="773.4" y2="526.3" stroke="#000" stroke-width="1.4"/><line x1="782" y1="520" x2="782" y2="526.3" stroke="#000" stroke-width="1.4"/><line x1="790.7" y1="520" x2="790.7" y2="526.3" stroke="#000" stroke-width="1.4"/><line x1="799.3" y1="520" x2="799.3" y2="526.3" stroke="#000" stroke-width="1.4"/><line x1="807.9" y1="520" x2="807.9" y2="526.3" stroke="#000" stroke-width="1.4"/><line x1="506.3" y1="520" x2="506.3" y2="533.6" stroke="#000" stroke-width="2.1"/><line x1="575.2" y1="520" x2="575.2" y2="533.6" stroke="#000" stroke-width="2.1"/><line x1="644.1" y1="520" x2="644.1" y2="533.6" stroke="#000" stroke-width="2.1"/><line x1="713.1" y1="520" x2="713.1" y2="533.6" stroke="#000" stroke-width="2.1"/><line x1="782" y1="520" x2="782" y2="533.6" stroke="#000" stroke-width="2.1"/><text x="505.3" y="570.4" text-anchor="middle" font-family="Liberation Sans" font-weight="bold" font-size="30.3" letter-spacing="-2">−8</text><text x="574.2" y="570.4" text-anchor="middle" font-family="Liberation Sans" font-weight="bold" font-size="30.3" letter-spacing="-2">−4</text><text x="644.1" y="570.4" text-anchor="middle" font-family="Liberation Sans" font-weight="bold" font-size="30.3">0</text><text x="713.1" y="570.4" text-anchor="middle" font-family="Liberation Sans" font-weight="bold" font-size="30.3">4</text><text x="782" y="570.4" text-anchor="middle" font-family="Liberation Sans" font-weight="bold" font-size="30.3">8</text><text x="59.8" y="24.7" font-family="Liberation Sans" font-weight="bold" font-size="34.8" textLength="523.4" lengthAdjust="spacingAndGlyphs">Fukuoka, 20181130 [19:05, el=0.0]</text><text x="58.9" y="58.7" font-family="Liberation Sans" font-weight="bold" font-size="30" textLength="119.2" lengthAdjust="spacingAndGlyphs">SNR [dB]</text><text x="480.8" y="58.7" font-family="Liberation Sans" font-weight="bold" font-size="30" textLength="308.5" lengthAdjust="spacingAndGlyphs">Doppler Velocity [m/s]</text></svg></body></html>
